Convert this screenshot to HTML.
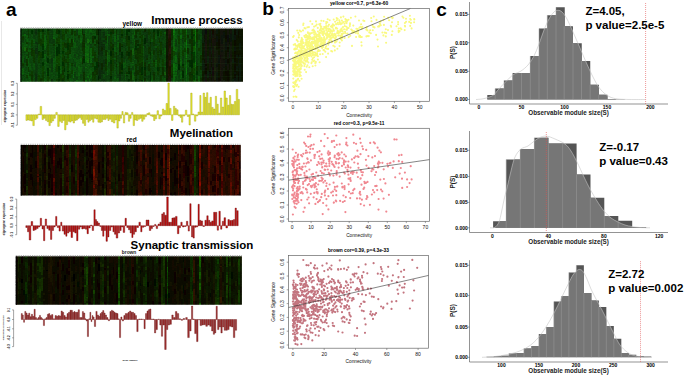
<!DOCTYPE html>
<html><head><meta charset="utf-8"><style>
html,body{margin:0;padding:0;background:#fff;width:685px;height:376px;overflow:hidden}
svg{display:block;font-family:"Liberation Sans",sans-serif}
</style></head><body>
<svg width="685" height="376" viewBox="0 0 685 376" font-family="Liberation Sans, sans-serif">
<defs>
<filter id="bl" x="-5%" y="-5%" width="110%" height="110%"><feGaussianBlur stdDeviation="0.6"/></filter>
<filter id="nz1" x="0" y="0" width="100%" height="100%"><feTurbulence type="fractalNoise" baseFrequency="0.55 0.9" numOctaves="2" seed="3"/><feColorMatrix values="0 0 0 0 0  0 0 0 0 0  0 0 0 0 0  0 0 0 -2.2 1.6"/></filter>
<filter id="nz2" x="0" y="0" width="100%" height="100%"><feTurbulence type="fractalNoise" baseFrequency="0.55 0.9" numOctaves="2" seed="5"/><feColorMatrix values="0 0 0 0 0  0 0 0 0 0  0 0 0 0 0  0 0 0 -2.2 1.6"/></filter>
<filter id="nz3" x="0" y="0" width="100%" height="100%"><feTurbulence type="fractalNoise" baseFrequency="0.55 0.9" numOctaves="2" seed="8"/><feColorMatrix values="0 0 0 0 0  0 0 0 0 0  0 0 0 0 0  0 0 0 -2.2 1.6"/></filter>
</defs>
<rect width="685" height="376" fill="#fff"/>
<text x="6" y="15.5" font-size="19" font-weight="bold">a</text>
<text x="262.3" y="14.9" font-size="19" font-weight="bold">b</text>
<text x="436.3" y="15.5" font-size="19" font-weight="bold">c</text>
<line x1="1.5" y1="21" x2="1.5" y2="125" stroke="#e8e8e8" stroke-width="1"/>
<clipPath id="hc1"><rect x="20.5" y="28.5" width="222.5" height="53.3"/></clipPath>
<g clip-path="url(#hc1)"><g filter="url(#bl)" shape-rendering="crispEdges">
<rect x="18.5" y="26.5" width="226.5" height="57.3" fill="#000"/>
<path fill="#094809" d="M20 28h2v3h-2zM20 62h2v6h-2zM20 74h2v1h-2zM26 54h2v2h-2zM28 43h1v3h-1zM29 34h2v5h-2zM31 46h2v2h-2zM55 71h1v7h-1zM64 40h1v2h-1zM64 52h1v4h-1zM69 34h2v4h-2zM71 66h2v4h-2zM71 74h2v5h-2zM74 36h2v6h-2zM80 76h2v4h-2zM92 43h2v4h-2zM121 38h2v6h-2zM121 47h2v5h-2zM128 60h2v6h-2zM139 35h2v1h-2zM139 38h2v6h-2z"/>
<path fill="#0c5109" d="M20 31h2v5h-2zM20 75h2v5h-2zM22 76h2v6h-2zM24 36h2v6h-2zM24 71h2v7h-2zM26 28h2v3h-2zM26 70h2v5h-2zM28 79h1v3h-1zM31 28h2v2h-2zM31 34h2v6h-2zM38 44h2v7h-2zM38 70h2v5h-2zM44 75h2v3h-2zM46 64h1v7h-1zM53 74h2v2h-2zM55 78h1v2h-1zM55 80h1v2h-1zM56 34h2v4h-2zM56 72h2v7h-2zM60 48h2v3h-2zM60 52h2v6h-2zM64 28h1v6h-1zM64 72h1v3h-1zM65 55h2v1h-2zM65 63h2v5h-2zM71 35h2v4h-2zM71 47h2v7h-2zM71 56h2v4h-2zM76 38h2v2h-2zM80 62h2v5h-2zM85 62h2v5h-2zM87 28h2v6h-2zM90 32h2v6h-2zM92 62h2v1h-2zM92 67h2v5h-2zM94 46h2v4h-2zM94 62h2v4h-2zM105 43h2v7h-2zM130 62h2v6h-2zM159 34h1v4h-1zM159 43h1v1h-1zM187 44h2v4h-2zM187 62h2v6h-2zM187 75h2v7h-2z"/>
<path fill="#0c5a09" d="M20 36h2v6h-2zM28 75h1v4h-1zM60 47h2v1h-2zM69 28h2v6h-2zM69 54h2v5h-2zM69 63h2v4h-2zM69 67h2v4h-2zM92 56h2v2h-2zM184 42h2v6h-2z"/>
<path fill="#0c5709" d="M20 42h2v5h-2zM20 68h2v3h-2zM22 43h2v7h-2zM26 46h2v2h-2zM26 79h2v3h-2zM33 63h2v7h-2zM40 32h2v4h-2zM55 28h1v7h-1zM55 62h1v2h-1zM60 40h2v2h-2zM60 42h2v2h-2zM60 58h2v6h-2zM69 78h2v2h-2zM69 80h2v2h-2zM71 54h2v2h-2zM76 74h2v2h-2zM78 79h2v3h-2zM92 30h2v6h-2zM186 58h1v1h-1z"/>
<path fill="#093f06" d="M20 47h2v7h-2zM22 63h2v3h-2zM26 48h2v4h-2zM26 75h2v3h-2zM31 71h2v1h-2zM31 72h2v2h-2zM33 50h2v6h-2zM40 28h2v3h-2zM42 79h2v3h-2zM47 31h2v4h-2zM47 50h2v6h-2zM56 38h2v6h-2zM56 79h2v3h-2zM62 34h2v6h-2zM64 34h1v1h-1zM65 52h2v3h-2zM65 59h2v4h-2zM71 46h2v1h-2zM74 31h2v5h-2zM92 50h2v6h-2zM92 76h2v4h-2zM94 76h2v4h-2zM94 80h2v2h-2zM110 56h2v4h-2zM112 59h2v1h-2zM112 60h2v4h-2zM112 64h2v7h-2zM128 40h2v6h-2zM135 50h2v5h-2zM139 32h2v3h-2zM139 54h2v1h-2zM141 35h2v7h-2zM141 42h2v6h-2zM141 48h2v3h-2zM150 36h1v6h-1zM150 68h1v4h-1zM157 28h2v2h-2zM157 56h2v7h-2zM157 63h2v1h-2zM157 71h2v4h-2zM160 31h2v5h-2zM160 43h2v7h-2zM160 67h2v1h-2zM162 59h2v7h-2zM171 67h2v7h-2zM178 28h2v6h-2zM178 36h2v7h-2zM182 30h2v5h-2zM182 50h2v6h-2zM184 30h2v1h-2zM184 48h2v4h-2z"/>
<path fill="#094209" d="M20 54h2v6h-2zM22 66h2v2h-2zM24 58h2v5h-2zM29 70h2v2h-2zM33 35h2v1h-2zM46 36h1v4h-1zM53 39h2v5h-2zM55 67h1v4h-1zM60 28h2v7h-2zM60 35h2v3h-2zM60 38h2v1h-2zM74 54h2v4h-2zM83 54h2v2h-2zM89 59h1v3h-1zM112 40h2v4h-2zM112 50h2v1h-2zM116 62h1v1h-1zM123 43h2v5h-2zM123 75h2v4h-2zM126 58h2v4h-2zM126 76h2v6h-2zM130 40h2v4h-2zM137 43h2v1h-2zM137 66h2v2h-2zM137 75h2v7h-2zM148 39h2v5h-2zM148 80h2v2h-2zM150 62h1v5h-1zM151 70h2v1h-2zM153 55h2v5h-2zM155 51h2v5h-2zM157 75h2v1h-2zM159 31h1v1h-1zM159 51h1v7h-1zM159 78h1v4h-1zM162 30h2v6h-2zM162 36h2v4h-2zM162 43h2v7h-2zM162 66h2v1h-2zM171 60h2v4h-2zM175 43h2v3h-2zM178 80h2v2h-2zM182 39h2v4h-2zM182 63h2v1h-2zM196 52h2v7h-2zM196 75h2v4h-2zM198 66h2v4h-2zM198 70h2v1h-2zM200 30h2v4h-2zM200 40h2v6h-2zM200 46h2v2h-2zM200 48h2v4h-2zM200 63h2v3h-2z"/>
<path fill="#093906" d="M20 60h2v2h-2zM26 59h2v7h-2zM31 48h2v3h-2zM31 51h2v5h-2zM31 74h2v6h-2zM56 28h2v6h-2zM62 70h2v5h-2zM62 78h2v2h-2zM64 42h1v5h-1zM64 56h1v6h-1zM64 63h1v3h-1zM64 66h1v2h-1zM65 43h2v5h-2zM69 50h2v4h-2zM71 28h2v3h-2zM71 31h2v4h-2zM71 39h2v7h-2zM83 36h2v7h-2zM83 48h2v6h-2zM92 28h2v2h-2zM92 72h2v4h-2zM94 44h2v2h-2zM94 70h2v2h-2zM96 40h2v4h-2zM110 42h2v2h-2zM112 51h2v7h-2zM116 30h1v4h-1zM116 52h1v6h-1zM121 36h2v2h-2zM121 58h2v6h-2zM128 48h2v4h-2zM128 56h2v3h-2zM128 70h2v1h-2zM135 32h2v3h-2zM135 64h2v7h-2zM139 44h2v3h-2zM139 47h2v7h-2zM139 63h2v3h-2zM139 79h2v3h-2zM141 62h2v5h-2zM150 32h1v2h-1zM150 50h1v2h-1zM150 55h1v1h-1zM150 56h1v2h-1zM150 58h1v1h-1zM153 32h2v7h-2zM153 50h2v5h-2zM153 72h2v2h-2zM160 75h2v3h-2zM171 47h2v7h-2zM182 38h2v1h-2zM182 70h2v1h-2zM189 76h2v4h-2zM189 80h2v2h-2zM191 28h2v2h-2zM191 39h2v1h-2zM191 68h2v6h-2zM191 75h2v7h-2zM196 35h2v5h-2z"/>
<path fill="#0c5a0c" d="M20 71h2v3h-2zM29 46h2v2h-2zM29 64h2v6h-2zM29 76h2v6h-2zM33 39h2v4h-2zM46 30h1v1h-1zM46 42h1v4h-1zM53 32h2v4h-2zM53 67h2v5h-2zM55 35h1v7h-1zM55 44h1v4h-1zM55 60h1v2h-1zM55 64h1v3h-1zM60 66h2v4h-2zM76 54h2v2h-2zM76 60h2v7h-2zM78 66h2v1h-2zM80 51h2v1h-2zM80 67h2v7h-2zM89 28h1v6h-1zM89 71h1v3h-1zM90 28h2v2h-2z"/>
<path fill="#0c5d0c" d="M20 80h2v2h-2zM22 58h2v5h-2zM26 35h2v7h-2zM26 44h2v2h-2zM26 56h2v3h-2zM28 60h1v7h-1zM28 72h1v3h-1zM55 48h1v6h-1zM60 70h2v4h-2zM69 38h2v5h-2zM74 30h2v1h-2zM74 42h2v6h-2z"/>
<path fill="#0c4e09" d="M22 28h2v7h-2zM22 42h2v1h-2zM22 50h2v5h-2zM24 51h2v5h-2zM24 64h2v7h-2zM29 28h2v6h-2zM33 43h2v7h-2zM33 76h2v6h-2zM40 46h2v6h-2zM40 68h2v4h-2zM46 34h1v2h-1zM60 44h2v3h-2zM65 76h2v3h-2zM65 79h2v3h-2zM69 71h2v3h-2zM71 60h2v3h-2zM74 48h2v6h-2zM76 67h2v7h-2zM80 48h2v3h-2zM80 52h2v6h-2zM87 78h2v2h-2zM87 80h2v2h-2zM89 74h1v5h-1zM90 38h2v1h-2zM94 28h2v3h-2zM123 42h2v1h-2zM126 68h2v4h-2zM148 36h2v3h-2zM151 51h2v3h-2zM155 35h2v1h-2zM155 71h2v5h-2zM162 51h2v3h-2zM162 54h2v1h-2zM162 76h2v6h-2zM175 71h2v1h-2zM175 76h2v6h-2zM187 54h2v6h-2zM198 47h2v1h-2zM200 52h2v3h-2z"/>
<path fill="#0c5409" d="M22 35h2v1h-2zM22 55h2v3h-2zM26 52h2v2h-2zM28 38h1v4h-1zM28 46h1v4h-1zM29 39h2v7h-2zM29 54h2v4h-2zM40 36h2v3h-2zM46 31h1v3h-1zM46 52h1v4h-1zM46 75h1v3h-1zM53 28h2v4h-2zM55 54h1v2h-1zM56 63h2v1h-2zM60 39h2v1h-2zM65 34h2v6h-2zM65 48h2v4h-2zM65 72h2v4h-2zM71 79h2v3h-2zM74 28h2v2h-2zM74 58h2v4h-2zM74 67h2v5h-2zM78 59h2v7h-2zM78 76h2v3h-2zM80 80h2v2h-2zM89 34h1v6h-1zM89 44h1v7h-1zM89 64h1v7h-1zM94 31h2v5h-2zM94 40h2v4h-2zM105 28h2v2h-2zM177 28h1v7h-1zM184 59h2v4h-2zM184 63h2v5h-2zM198 40h2v7h-2z"/>
<path fill="#093c06" d="M22 36h2v4h-2zM26 42h2v2h-2zM28 28h1v6h-1zM28 34h1v4h-1zM28 52h1v6h-1zM28 67h1v5h-1zM29 74h2v2h-2zM31 80h2v2h-2zM33 56h2v7h-2zM38 32h2v6h-2zM38 38h2v6h-2zM38 52h2v3h-2zM40 39h2v7h-2zM40 52h2v6h-2zM40 78h2v1h-2zM42 78h2v1h-2zM53 44h2v2h-2zM58 78h2v1h-2zM60 74h2v5h-2zM60 79h2v3h-2zM62 58h2v4h-2zM64 75h1v5h-1zM65 28h2v6h-2zM67 52h2v6h-2zM67 62h2v6h-2zM69 43h2v7h-2zM71 63h2v3h-2zM78 35h2v3h-2zM92 80h2v2h-2zM94 52h2v7h-2zM94 59h2v3h-2zM94 72h2v4h-2zM96 58h2v4h-2zM105 64h2v7h-2zM110 28h2v4h-2zM110 34h2v2h-2zM110 71h2v5h-2zM121 44h2v2h-2zM126 40h2v6h-2zM128 46h2v2h-2zM128 66h2v2h-2zM130 56h2v6h-2zM135 76h2v3h-2zM137 54h2v2h-2zM137 62h2v4h-2zM139 36h2v2h-2zM139 55h2v1h-2zM139 56h2v3h-2zM148 28h2v7h-2zM153 43h2v3h-2zM157 51h2v5h-2zM159 28h1v3h-1zM159 38h1v2h-1zM159 58h1v5h-1zM160 78h2v4h-2zM171 64h2v2h-2zM178 43h2v1h-2zM178 52h2v6h-2zM182 66h2v2h-2zM182 79h2v3h-2zM184 40h2v2h-2zM196 32h2v3h-2zM196 40h2v2h-2zM196 79h2v3h-2zM198 48h2v3h-2z"/>
<path fill="#093f09" d="M22 40h2v2h-2zM22 75h2v1h-2zM74 64h2v3h-2zM76 30h2v6h-2zM80 74h2v2h-2zM83 68h2v4h-2zM90 44h2v4h-2zM96 76h2v3h-2zM96 79h2v3h-2zM105 56h2v3h-2zM107 75h1v4h-1zM108 40h2v6h-2zM108 46h2v4h-2zM108 76h2v4h-2zM116 67h1v3h-1zM116 70h1v4h-1zM117 75h2v1h-2zM123 55h2v7h-2zM125 52h1v7h-1zM130 68h2v3h-2zM134 35h1v4h-1zM177 52h1v7h-1zM182 35h2v3h-2zM182 56h2v7h-2zM187 68h2v7h-2zM196 42h2v5h-2zM196 59h2v7h-2z"/>
<path fill="#0f630c" d="M22 68h2v7h-2zM29 50h2v2h-2zM44 35h2v7h-2zM44 54h2v5h-2zM46 28h1v2h-1zM73 34h1v5h-1zM80 58h2v4h-2zM85 44h2v6h-2zM87 50h2v4h-2zM87 56h2v2h-2zM90 48h2v7h-2zM143 46h1v2h-1zM175 50h2v2h-2zM175 72h2v4h-2zM180 46h2v2h-2zM180 59h2v7h-2z"/>
<path fill="#0c4b09" d="M24 28h2v6h-2zM24 56h2v2h-2zM26 66h2v4h-2zM28 42h1v1h-1zM29 48h2v2h-2zM29 58h2v6h-2zM29 72h2v2h-2zM44 28h2v7h-2zM53 72h2v2h-2zM53 76h2v6h-2zM55 43h1v1h-1zM60 64h2v2h-2zM69 59h2v4h-2zM73 28h1v2h-1zM73 30h1v4h-1zM73 48h1v3h-1zM76 28h2v2h-2zM76 56h2v4h-2zM78 40h2v6h-2zM82 38h1v2h-1zM82 64h1v2h-1zM82 66h1v5h-1zM82 80h1v2h-1zM89 51h1v5h-1zM89 56h1v3h-1zM90 63h2v5h-2zM90 80h2v2h-2zM96 35h2v4h-2zM96 39h2v1h-2zM96 48h2v7h-2zM96 75h2v1h-2zM105 30h2v6h-2zM112 34h2v6h-2zM112 58h2v1h-2zM116 46h1v6h-1zM116 80h1v2h-1zM125 68h1v6h-1zM126 46h2v5h-2zM126 62h2v1h-2zM126 63h2v5h-2zM126 74h2v1h-2zM130 34h2v6h-2zM130 44h2v6h-2zM134 60h1v6h-1zM135 28h2v2h-2zM137 32h2v6h-2zM137 46h2v2h-2zM143 54h1v6h-1zM148 72h2v3h-2zM150 28h1v4h-1zM157 43h2v3h-2zM157 76h2v6h-2zM159 32h1v2h-1zM159 63h1v4h-1zM160 60h2v7h-2zM160 68h2v7h-2zM162 40h2v3h-2zM162 50h2v1h-2zM177 59h1v5h-1zM182 43h2v7h-2zM189 34h2v5h-2zM189 44h2v7h-2zM189 58h2v2h-2zM189 67h2v5h-2zM198 51h2v4h-2zM198 55h2v4h-2zM198 59h2v4h-2zM200 34h2v5h-2z"/>
<path fill="#0f6c0f" d="M24 34h2v2h-2zM73 39h1v3h-1zM73 76h1v2h-1zM180 35h2v4h-2z"/>
<path fill="#0f5a0c" d="M24 42h2v5h-2zM85 43h2v1h-2zM107 31h1v5h-1zM107 42h1v4h-1zM108 50h2v2h-2zM117 78h2v4h-2zM123 39h2v3h-2zM123 62h2v6h-2zM125 74h1v6h-1zM132 70h2v1h-2zM134 40h1v7h-1zM134 47h1v1h-1zM143 60h1v6h-1zM151 39h2v1h-2zM151 40h2v2h-2zM151 54h2v1h-2zM155 34h2v1h-2zM164 78h2v4h-2zM175 47h2v3h-2zM177 64h1v3h-1zM180 48h2v6h-2z"/>
<path fill="#126f0f" d="M24 47h2v4h-2zM87 39h2v4h-2zM87 58h2v5h-2z"/>
<path fill="#0f5d0c" d="M24 63h2v1h-2zM44 48h2v2h-2zM44 78h2v4h-2zM46 62h1v2h-1zM53 60h2v7h-2zM73 42h1v1h-1zM73 74h1v1h-1zM87 74h2v2h-2zM90 39h2v5h-2zM90 68h2v6h-2zM107 70h1v4h-1zM108 34h2v2h-2zM108 55h2v7h-2zM114 47h2v5h-2zM114 58h2v2h-2zM114 76h2v2h-2zM117 35h2v5h-2zM117 42h2v6h-2zM125 35h1v1h-1zM125 59h1v7h-1zM132 35h2v3h-2zM132 64h2v2h-2zM132 71h2v4h-2zM134 39h1v1h-1zM134 59h1v1h-1zM134 80h1v2h-1zM143 80h1v2h-1zM151 79h2v3h-2zM155 36h2v3h-2zM155 60h2v7h-2zM164 48h2v2h-2zM164 50h2v4h-2zM164 66h2v1h-2zM175 34h2v1h-2zM180 71h2v4h-2zM198 76h2v6h-2z"/>
<path fill="#0c4809" d="M24 78h2v4h-2zM44 51h2v3h-2zM44 71h2v4h-2zM46 51h1v1h-1zM53 46h2v6h-2zM73 78h1v4h-1zM74 79h2v3h-2zM76 40h2v6h-2zM76 48h2v6h-2zM80 43h2v5h-2zM83 63h2v5h-2zM85 38h2v5h-2zM90 79h2v1h-2zM107 66h1v4h-1zM108 80h2v2h-2zM112 71h2v1h-2zM112 72h2v4h-2zM112 76h2v6h-2zM114 55h2v3h-2zM116 39h1v7h-1zM116 74h1v6h-1zM123 32h2v7h-2zM123 48h2v7h-2zM126 56h2v2h-2zM128 74h2v5h-2zM132 63h2v1h-2zM134 51h1v1h-1zM134 52h1v7h-1zM135 59h2v5h-2zM137 68h2v2h-2zM143 28h1v3h-1zM143 66h1v6h-1zM148 56h2v6h-2zM150 34h1v2h-1zM151 28h2v4h-2zM151 63h2v3h-2zM153 67h2v5h-2zM155 39h2v5h-2zM155 76h2v6h-2zM160 28h2v3h-2zM162 55h2v4h-2zM164 36h2v3h-2zM164 39h2v4h-2zM164 67h2v5h-2zM175 46h2v1h-2zM175 52h2v3h-2zM177 35h1v1h-1zM177 36h1v3h-1zM177 51h1v1h-1zM177 80h1v2h-1zM180 39h2v1h-2zM180 66h2v5h-2zM180 79h2v3h-2zM182 28h2v2h-2zM189 28h2v6h-2zM196 47h2v5h-2zM198 28h2v6h-2zM198 63h2v3h-2zM200 70h2v5h-2z"/>
<path fill="#094509" d="M26 31h2v4h-2zM29 52h2v2h-2zM33 28h2v7h-2zM33 36h2v3h-2zM33 70h2v6h-2zM40 58h2v5h-2zM40 63h2v5h-2zM44 50h2v1h-2zM46 46h1v5h-1zM46 56h1v6h-1zM53 52h2v6h-2zM60 51h2v1h-2zM73 59h1v5h-1zM74 62h2v2h-2zM74 72h2v7h-2zM76 76h2v4h-2zM78 38h2v2h-2zM78 46h2v6h-2zM78 52h2v7h-2zM89 42h1v2h-1zM89 62h1v2h-1zM92 58h2v4h-2zM96 44h2v4h-2zM96 55h2v3h-2zM121 74h2v2h-2zM121 76h2v6h-2zM128 32h2v4h-2zM135 38h2v2h-2zM137 38h2v2h-2zM141 28h2v7h-2zM150 59h1v3h-1zM150 67h1v1h-1zM153 46h2v4h-2zM153 80h2v2h-2zM157 36h2v6h-2zM160 36h2v6h-2zM160 55h2v5h-2zM178 34h2v2h-2zM178 44h2v6h-2zM178 50h2v2h-2zM178 76h2v4h-2zM182 78h2v1h-2zM187 38h2v6h-2zM198 71h2v5h-2zM200 39h2v1h-2z"/>
<path fill="#094b09" d="M26 78h2v1h-2zM31 56h2v7h-2zM31 63h2v7h-2zM40 72h2v6h-2zM64 47h1v4h-1zM65 40h2v3h-2zM65 71h2v1h-2zM94 50h2v2h-2z"/>
<path fill="#0f600c" d="M28 50h1v2h-1zM28 58h1v2h-1zM46 71h1v4h-1zM53 58h2v2h-2zM55 42h1v1h-1zM55 56h1v4h-1zM73 75h1v1h-1zM78 28h2v7h-2zM78 67h2v7h-2zM78 74h2v2h-2zM85 28h2v7h-2zM90 75h2v4h-2zM114 78h2v1h-2zM134 28h1v4h-1zM134 32h1v3h-1zM175 35h2v4h-2zM177 40h1v2h-1zM180 28h2v4h-2zM180 75h2v4h-2z"/>
<path fill="#063606" d="M31 30h2v4h-2zM38 51h2v1h-2zM42 54h2v4h-2zM42 62h2v4h-2zM47 58h2v5h-2zM47 72h2v4h-2zM58 44h2v7h-2zM67 43h2v7h-2zM94 66h2v4h-2z"/>
<path fill="#094206" d="M31 40h2v6h-2zM38 60h2v2h-2zM38 62h2v1h-2zM40 31h2v1h-2zM42 32h2v7h-2zM42 72h2v6h-2zM47 76h2v4h-2zM56 67h2v5h-2zM58 28h2v2h-2zM62 47h2v4h-2zM62 66h2v4h-2zM64 62h1v1h-1zM67 79h2v3h-2zM69 74h2v4h-2zM71 70h2v4h-2zM92 47h2v3h-2zM92 63h2v4h-2zM110 44h2v2h-2zM121 28h2v6h-2zM121 70h2v2h-2zM128 59h2v1h-2zM139 28h2v4h-2zM139 59h2v4h-2zM139 72h2v7h-2zM141 51h2v7h-2zM141 58h2v4h-2zM141 75h2v5h-2zM153 39h2v4h-2zM153 62h2v5h-2zM157 42h2v1h-2zM157 46h2v5h-2zM157 64h2v3h-2zM184 38h2v2h-2z"/>
<path fill="#094e09" d="M31 70h2v1h-2zM38 63h2v7h-2zM42 50h2v1h-2zM42 58h2v4h-2zM47 56h2v2h-2zM47 63h2v5h-2zM56 44h2v3h-2zM62 40h2v2h-2zM65 56h2v3h-2zM65 68h2v3h-2zM67 32h2v6h-2zM184 68h2v4h-2zM184 76h2v6h-2z"/>
<path fill="#093609" d="M35 28h2v7h-2zM98 55h1v7h-1zM98 67h1v5h-1zM98 72h1v4h-1zM146 40h2v3h-2zM146 55h2v3h-2z"/>
<path fill="#0f480c" d="M35 35h2v7h-2zM37 58h1v6h-1zM49 43h2v7h-2zM49 64h2v4h-2zM51 44h2v6h-2zM103 28h2v3h-2zM103 38h2v2h-2zM103 42h2v2h-2zM103 50h2v6h-2z"/>
<path fill="#0c3909" d="M35 42h2v2h-2zM37 43h1v5h-1zM51 58h2v4h-2zM101 80h2v2h-2zM146 34h2v6h-2z"/>
<path fill="#0c450c" d="M35 44h2v4h-2zM35 60h2v2h-2zM146 43h2v4h-2z"/>
<path fill="#093309" d="M35 48h2v6h-2zM101 42h2v5h-2zM103 40h2v2h-2zM103 44h2v6h-2zM103 60h2v7h-2zM119 74h2v1h-2zM119 75h2v5h-2z"/>
<path fill="#0c420c" d="M35 54h2v1h-2zM49 59h2v3h-2zM49 62h2v2h-2zM51 28h2v7h-2z"/>
<path fill="#0c3f09" d="M35 55h2v5h-2zM35 62h2v5h-2zM101 28h2v7h-2zM101 35h2v7h-2zM103 31h2v1h-2zM117 76h2v2h-2zM119 32h2v6h-2zM119 38h2v5h-2zM119 55h2v7h-2zM144 32h2v6h-2zM144 48h2v7h-2zM146 48h2v7h-2zM146 76h2v3h-2zM164 28h2v4h-2z"/>
<path fill="#0c3c09" d="M35 67h2v7h-2zM49 28h2v3h-2zM49 38h2v5h-2zM51 42h2v2h-2zM51 62h2v5h-2zM51 67h2v5h-2zM101 56h2v7h-2zM101 74h2v6h-2zM144 55h2v7h-2zM144 76h2v2h-2zM146 30h2v4h-2z"/>
<path fill="#093009" d="M35 74h2v5h-2zM35 79h2v1h-2zM35 80h2v2h-2zM37 54h1v1h-1zM101 51h2v5h-2zM101 70h2v4h-2zM119 80h2v2h-2z"/>
<path fill="#0f420c" d="M37 28h1v4h-1zM37 64h1v6h-1zM37 70h1v6h-1zM37 76h1v6h-1z"/>
<path fill="#0f450c" d="M37 32h1v6h-1zM37 38h1v5h-1zM49 31h2v7h-2zM103 56h2v3h-2z"/>
<path fill="#0c3609" d="M37 48h1v6h-1zM51 79h2v3h-2zM99 31h2v4h-2zM99 35h2v4h-2zM103 32h2v6h-2zM103 72h2v2h-2zM103 79h2v3h-2zM119 52h2v3h-2z"/>
<path fill="#0c3c0c" d="M37 55h1v3h-1z"/>
<path fill="#063906" d="M38 28h2v4h-2zM42 44h2v6h-2zM58 66h2v1h-2zM58 70h2v4h-2zM58 74h2v4h-2zM62 51h2v3h-2z"/>
<path fill="#094806" d="M38 55h2v5h-2zM38 75h2v3h-2zM38 78h2v2h-2zM47 38h2v5h-2zM56 56h2v7h-2zM58 54h2v5h-2zM62 28h2v6h-2zM62 42h2v1h-2zM62 43h2v4h-2zM62 75h2v3h-2zM67 28h2v3h-2zM67 58h2v4h-2zM67 72h2v2h-2zM184 28h2v2h-2zM193 68h2v6h-2z"/>
<path fill="#094506" d="M38 80h2v2h-2zM42 39h2v5h-2zM47 43h2v4h-2zM47 47h2v3h-2zM47 80h2v2h-2zM56 64h2v3h-2zM58 34h2v5h-2zM58 39h2v5h-2zM62 54h2v4h-2zM64 35h1v5h-1zM64 51h1v1h-1zM64 80h1v2h-1zM67 38h2v5h-2zM67 50h2v2h-2zM67 68h2v3h-2zM94 39h2v1h-2zM110 36h2v6h-2zM184 31h2v7h-2z"/>
<path fill="#093606" d="M40 79h2v3h-2zM82 42h1v2h-1zM82 44h1v7h-1zM83 72h2v6h-2zM92 36h2v7h-2zM96 28h2v7h-2zM105 36h2v4h-2zM105 50h2v6h-2zM110 46h2v2h-2zM110 48h2v3h-2zM110 64h2v7h-2zM110 79h2v3h-2zM112 44h2v4h-2zM116 58h1v4h-1zM126 28h2v2h-2zM126 35h2v5h-2zM126 51h2v5h-2zM126 72h2v2h-2zM130 71h2v7h-2zM130 78h2v4h-2zM135 30h2v2h-2zM135 35h2v3h-2zM135 55h2v3h-2zM135 58h2v1h-2zM135 71h2v5h-2zM137 28h2v4h-2zM137 40h2v3h-2zM137 56h2v6h-2zM137 70h2v5h-2zM148 47h2v7h-2zM148 64h2v7h-2zM150 44h1v6h-1zM153 60h2v2h-2zM153 74h2v6h-2zM159 40h1v3h-1zM159 67h1v4h-1zM160 50h2v1h-2zM162 28h2v2h-2zM171 35h2v5h-2zM171 54h2v6h-2zM189 39h2v5h-2zM200 28h2v2h-2zM200 55h2v3h-2zM200 60h2v3h-2zM200 78h2v4h-2z"/>
<path fill="#063006" d="M42 28h2v4h-2zM47 28h2v3h-2zM47 68h2v4h-2zM58 51h2v3h-2zM83 59h2v4h-2zM96 62h2v6h-2zM110 32h2v2h-2zM110 60h2v4h-2zM112 48h2v2h-2zM121 34h2v2h-2zM121 46h2v1h-2zM126 30h2v5h-2zM126 75h2v1h-2zM128 71h2v3h-2zM135 46h2v4h-2zM137 44h2v2h-2zM141 67h2v7h-2zM150 72h1v7h-1zM150 79h1v3h-1zM153 28h2v4h-2zM157 30h2v6h-2zM157 67h2v4h-2zM189 60h2v7h-2zM191 36h2v3h-2zM191 52h2v2h-2zM191 74h2v1h-2zM196 71h2v4h-2z"/>
<path fill="#063306" d="M42 51h2v3h-2zM56 47h2v4h-2zM56 51h2v5h-2zM58 30h2v4h-2zM58 67h2v3h-2zM58 79h2v3h-2zM62 62h2v4h-2zM62 80h2v2h-2zM64 68h1v4h-1zM67 71h2v1h-2zM67 74h2v1h-2zM67 75h2v4h-2zM94 36h2v3h-2zM121 72h2v2h-2zM128 79h2v3h-2zM135 79h2v3h-2zM150 42h1v2h-1zM150 52h1v3h-1z"/>
<path fill="#094b06" d="M42 66h2v6h-2zM47 35h2v3h-2zM58 59h2v7h-2zM67 31h2v1h-2zM173 51h2v4h-2zM173 55h2v1h-2zM193 36h2v4h-2z"/>
<path fill="#0f690c" d="M44 42h2v6h-2zM73 58h1v1h-1zM89 40h1v2h-1zM89 80h1v2h-1z"/>
<path fill="#0c570c" d="M44 59h2v7h-2zM46 40h1v2h-1zM46 78h1v4h-1zM73 43h1v5h-1zM73 64h1v7h-1zM76 36h2v2h-2zM76 46h2v2h-2zM80 35h2v3h-2zM87 34h2v5h-2zM90 74h2v1h-2zM175 31h2v3h-2zM177 39h1v1h-1zM177 42h1v4h-1zM177 46h1v5h-1zM177 67h1v3h-1zM180 32h2v3h-2zM180 54h2v5h-2z"/>
<path fill="#0c540c" d="M44 66h2v5h-2zM73 51h1v7h-1zM85 35h2v3h-2zM87 43h2v3h-2zM87 63h2v5h-2zM87 68h2v6h-2zM148 62h2v2h-2zM151 76h2v3h-2zM177 75h1v5h-1zM180 40h2v3h-2zM180 43h2v3h-2z"/>
<path fill="#0f4e0c" d="M49 50h2v5h-2zM49 70h2v6h-2zM49 76h2v3h-2zM51 50h2v5h-2zM103 74h2v5h-2zM146 28h2v2h-2zM146 70h2v1h-2z"/>
<path fill="#12540f" d="M49 55h2v4h-2zM49 68h2v2h-2zM49 79h2v3h-2z"/>
<path fill="#0c3f0c" d="M51 35h2v7h-2zM103 59h2v1h-2zM103 67h2v5h-2z"/>
<path fill="#0f4b0c" d="M51 55h2v3h-2zM146 71h2v5h-2zM146 79h2v3h-2z"/>
<path fill="#0f510f" d="M51 72h2v7h-2z"/>
<path fill="#0f660c" d="M53 36h2v3h-2zM73 71h1v3h-1zM76 80h2v2h-2zM80 28h2v7h-2zM80 38h2v5h-2zM89 79h1v1h-1zM90 30h2v2h-2zM90 55h2v1h-2zM90 56h2v7h-2zM175 55h2v1h-2z"/>
<path fill="#093306" d="M82 28h1v7h-1zM82 58h1v6h-1zM83 34h2v2h-2zM83 43h2v5h-2zM96 68h2v7h-2zM98 80h1v2h-1zM105 59h2v5h-2zM112 28h2v6h-2zM116 64h1v3h-1zM128 68h2v2h-2zM130 50h2v4h-2zM130 54h2v1h-2zM130 55h2v1h-2zM135 40h2v6h-2zM137 48h2v6h-2zM139 66h2v6h-2zM144 62h2v5h-2zM144 70h2v4h-2zM159 50h1v1h-1zM160 42h2v1h-2zM160 51h2v4h-2zM162 67h2v5h-2zM162 72h2v4h-2zM171 28h2v7h-2zM171 74h2v4h-2zM178 58h2v6h-2zM187 48h2v6h-2zM187 60h2v2h-2zM189 72h2v4h-2zM191 30h2v6h-2zM191 47h2v5h-2zM191 54h2v6h-2zM196 28h2v4h-2zM196 66h2v5h-2zM200 58h2v2h-2zM200 66h2v4h-2z"/>
<path fill="#0c4e0c" d="M82 35h1v3h-1zM82 78h1v2h-1zM107 46h1v6h-1zM108 52h2v3h-2zM114 42h2v2h-2zM114 52h2v3h-2zM117 40h2v2h-2zM117 70h2v4h-2zM123 28h2v4h-2zM125 39h1v4h-1zM132 55h2v7h-2zM151 55h2v1h-2zM164 34h2v2h-2zM164 54h2v4h-2z"/>
<path fill="#093c09" d="M82 40h1v2h-1zM105 40h2v3h-2zM105 78h2v4h-2zM108 28h2v6h-2zM116 34h1v5h-1zM125 80h1v2h-1zM134 48h1v3h-1zM134 72h1v4h-1zM143 31h1v4h-1zM148 44h2v3h-2zM148 75h2v5h-2zM151 42h2v4h-2zM155 44h2v2h-2zM155 48h2v3h-2zM177 70h1v5h-1zM198 34h2v6h-2z"/>
<path fill="#0c4209" d="M82 51h1v7h-1zM107 30h1v1h-1zM108 36h2v4h-2zM108 62h2v6h-2zM108 74h2v2h-2zM114 60h2v3h-2zM116 28h1v2h-1zM117 55h2v4h-2zM117 74h2v1h-2zM119 28h2v4h-2zM125 36h1v3h-1zM132 80h2v2h-2zM143 39h1v7h-1zM143 72h1v2h-1zM146 66h2v4h-2zM155 56h2v4h-2z"/>
<path fill="#0c4509" d="M82 71h1v7h-1zM83 28h2v6h-2zM105 71h2v7h-2zM116 63h1v1h-1zM123 68h2v7h-2zM123 79h2v3h-2zM125 43h1v4h-1zM125 47h1v5h-1zM130 28h2v6h-2zM132 47h2v1h-2zM132 66h2v4h-2zM143 74h1v4h-1zM146 60h2v6h-2zM148 35h2v1h-2zM148 54h2v2h-2zM148 71h2v1h-2zM151 32h2v7h-2zM151 46h2v5h-2zM151 66h2v4h-2zM151 71h2v5h-2zM155 28h2v6h-2zM159 44h1v6h-1zM159 71h1v7h-1zM164 43h2v5h-2zM164 63h2v3h-2zM164 75h2v3h-2zM171 40h2v7h-2zM171 78h2v4h-2zM175 28h2v3h-2zM175 39h2v4h-2zM175 63h2v1h-2zM178 70h2v6h-2zM182 68h2v2h-2zM187 28h2v7h-2zM189 51h2v7h-2zM200 75h2v3h-2z"/>
<path fill="#093006" d="M83 56h2v3h-2zM83 78h2v4h-2zM119 62h2v6h-2zM119 68h2v4h-2zM146 58h2v2h-2zM171 66h2v1h-2zM187 35h2v3h-2zM191 40h2v7h-2z"/>
<path fill="#0f690f" d="M85 50h2v5h-2zM85 55h2v7h-2zM85 67h2v1h-2zM85 80h2v2h-2zM87 46h2v4h-2zM87 76h2v2h-2zM175 56h2v7h-2zM175 64h2v3h-2zM175 67h2v4h-2z"/>
<path fill="#0c510c" d="M85 68h2v7h-2zM85 75h2v5h-2zM107 28h1v2h-1zM114 70h2v6h-2zM125 28h1v7h-1zM134 76h1v4h-1zM143 78h1v2h-1zM151 56h2v7h-2zM155 67h2v4h-2zM164 58h2v5h-2z"/>
<path fill="#12720f" d="M87 54h2v1h-2zM87 55h2v1h-2z"/>
<path fill="#062406" d="M98 28h1v7h-1zM98 42h1v2h-1z"/>
<path fill="#092a06" d="M98 35h1v7h-1zM101 47h2v4h-2zM101 63h2v7h-2zM119 46h2v6h-2zM119 72h2v2h-2zM144 28h2v4h-2z"/>
<path fill="#092d06" d="M98 44h1v7h-1zM98 51h1v4h-1zM119 43h2v3h-2zM144 74h2v2h-2zM144 78h2v4h-2z"/>
<path fill="#092706" d="M98 62h1v5h-1z"/>
<path fill="#062706" d="M98 76h1v4h-1z"/>
<path fill="#092a09" d="M99 28h2v3h-2zM99 76h2v3h-2z"/>
<path fill="#0c3309" d="M99 39h2v5h-2z"/>
<path fill="#0c3009" d="M99 44h2v6h-2zM99 50h2v6h-2z"/>
<path fill="#0f3f0c" d="M99 56h2v7h-2zM99 79h2v3h-2z"/>
<path fill="#0c360c" d="M99 63h2v7h-2z"/>
<path fill="#092d09" d="M99 70h2v6h-2z"/>
<path fill="#0f600f" d="M107 36h1v6h-1zM107 74h1v1h-1z"/>
<path fill="#12630f" d="M107 52h1v7h-1z"/>
<path fill="#0f630f" d="M107 59h1v7h-1zM114 36h2v6h-2zM164 32h2v2h-2z"/>
<path fill="#0c4b0c" d="M107 79h1v3h-1zM114 28h2v2h-2zM114 63h2v4h-2zM117 28h2v7h-2zM117 59h2v4h-2zM132 42h2v5h-2z"/>
<path fill="#0f510c" d="M108 68h2v6h-2zM114 44h2v3h-2zM117 48h2v6h-2zM117 63h2v7h-2zM132 28h2v7h-2z"/>
<path fill="#062a06" d="M110 51h2v5h-2zM144 38h2v6h-2zM144 67h2v3h-2zM178 64h2v6h-2z"/>
<path fill="#062d06" d="M110 76h2v3h-2zM121 52h2v6h-2zM121 64h2v6h-2zM128 28h2v4h-2zM128 36h2v4h-2zM128 52h2v4h-2zM141 74h2v1h-2zM141 80h2v2h-2zM182 64h2v2h-2zM182 71h2v7h-2zM191 60h2v7h-2zM191 67h2v1h-2z"/>
<path fill="#0f570c" d="M114 30h2v6h-2zM117 54h2v1h-2zM134 66h1v6h-1zM143 48h1v6h-1zM155 46h2v2h-2z"/>
<path fill="#0f540c" d="M114 67h2v3h-2zM114 79h2v3h-2zM125 66h1v2h-1zM132 38h2v4h-2zM143 35h1v4h-1z"/>
<path fill="#12660f" d="M132 48h2v7h-2zM132 62h2v1h-2zM132 75h2v5h-2zM164 72h2v3h-2z"/>
<path fill="#093909" d="M144 44h2v4h-2z"/>
<path fill="#0c480c" d="M146 47h2v1h-2z"/>
<path fill="#091506" d="M166 28h2v3h-2zM166 55h2v4h-2zM204 40h1v2h-1zM229 58h1v1h-1zM229 59h1v4h-1zM229 63h1v7h-1zM236 38h2v2h-2zM238 28h1v3h-1zM241 28h2v6h-2zM241 40h2v7h-2zM241 47h2v5h-2zM241 56h2v3h-2zM241 59h2v5h-2zM241 64h2v2h-2zM241 66h2v6h-2zM241 76h2v4h-2zM241 80h2v2h-2z"/>
<path fill="#0c1e06" d="M166 31h2v5h-2zM166 42h2v6h-2zM166 48h2v7h-2zM166 59h2v3h-2zM166 68h2v2h-2zM202 43h2v4h-2zM202 47h2v5h-2zM202 55h2v5h-2zM202 71h2v5h-2zM202 80h2v2h-2zM211 54h1v5h-1zM211 74h1v1h-1zM211 75h1v4h-1zM232 70h2v1h-2zM232 71h2v1h-2z"/>
<path fill="#0f2106" d="M166 36h2v6h-2z"/>
<path fill="#0c1806" d="M166 62h2v6h-2zM204 70h1v4h-1zM236 63h2v3h-2zM236 71h2v4h-2zM238 46h1v2h-1zM238 48h1v4h-1zM239 50h2v5h-2zM241 52h2v4h-2z"/>
<path fill="#0c1b06" d="M166 70h2v1h-2zM166 78h2v4h-2zM202 52h2v3h-2zM229 31h1v3h-1zM229 70h1v1h-1zM229 71h1v3h-1zM239 59h2v4h-2z"/>
<path fill="#0f2406" d="M166 71h2v7h-2z"/>
<path fill="#211509" d="M168 28h1v3h-1zM168 52h1v4h-1z"/>
<path fill="#271b09" d="M168 31h1v7h-1z"/>
<path fill="#271809" d="M168 38h1v1h-1zM168 74h1v2h-1zM169 46h2v2h-2z"/>
<path fill="#1e1506" d="M168 39h1v5h-1zM168 48h1v4h-1zM168 56h1v7h-1zM169 54h2v6h-2z"/>
<path fill="#1b1206" d="M168 44h1v4h-1zM168 63h1v5h-1zM169 38h2v4h-2zM169 42h2v4h-2zM169 66h2v5h-2zM169 71h2v5h-2z"/>
<path fill="#211506" d="M168 68h1v6h-1z"/>
<path fill="#1e1206" d="M168 76h1v2h-1z"/>
<path fill="#241809" d="M168 78h1v4h-1zM169 34h2v4h-2zM169 76h2v3h-2zM169 79h2v3h-2z"/>
<path fill="#2a1b09" d="M169 28h2v6h-2zM169 48h2v6h-2zM169 60h2v6h-2z"/>
<path fill="#0c7809" d="M173 28h2v7h-2z"/>
<path fill="#0c6609" d="M173 35h2v7h-2zM195 78h1v2h-1z"/>
<path fill="#0c6909" d="M173 42h2v4h-2zM173 71h2v3h-2z"/>
<path fill="#0c6c09" d="M173 46h2v5h-2zM173 75h2v5h-2zM173 80h2v2h-2zM195 48h1v7h-1z"/>
<path fill="#095a09" d="M173 56h2v7h-2zM193 50h2v2h-2z"/>
<path fill="#0c7509" d="M173 63h2v1h-2zM173 64h2v7h-2z"/>
<path fill="#0c6309" d="M173 74h2v1h-2zM186 76h1v6h-1z"/>
<path fill="#095109" d="M184 52h2v7h-2zM184 72h2v4h-2zM186 75h1v1h-1z"/>
<path fill="#0c690c" d="M186 28h1v3h-1z"/>
<path fill="#0f6f0c" d="M186 31h1v3h-1zM186 59h1v1h-1zM186 63h1v5h-1z"/>
<path fill="#0c5d09" d="M186 34h1v6h-1z"/>
<path fill="#0f7e0c" d="M186 40h1v6h-1zM186 68h1v7h-1z"/>
<path fill="#0f750c" d="M186 46h1v4h-1z"/>
<path fill="#0c630c" d="M186 50h1v4h-1z"/>
<path fill="#0f780c" d="M186 54h1v4h-1z"/>
<path fill="#0c660c" d="M186 60h1v3h-1z"/>
<path fill="#095406" d="M193 28h2v3h-2zM193 74h2v1h-2z"/>
<path fill="#095706" d="M193 31h2v3h-2zM193 63h2v5h-2z"/>
<path fill="#063c06" d="M193 34h2v2h-2zM193 56h2v7h-2z"/>
<path fill="#064206" d="M193 40h2v6h-2zM193 75h2v5h-2z"/>
<path fill="#095a06" d="M193 46h2v4h-2zM193 80h2v2h-2z"/>
<path fill="#063f06" d="M193 52h2v4h-2z"/>
<path fill="#0c6f09" d="M195 28h1v2h-1z"/>
<path fill="#0f810c" d="M195 30h1v5h-1z"/>
<path fill="#0c7b0c" d="M195 35h1v7h-1zM195 62h1v5h-1z"/>
<path fill="#095d09" d="M195 42h1v2h-1zM195 55h1v4h-1z"/>
<path fill="#0c780c" d="M195 44h1v4h-1z"/>
<path fill="#096309" d="M195 59h1v3h-1z"/>
<path fill="#096009" d="M195 67h1v4h-1zM195 80h1v2h-1z"/>
<path fill="#095709" d="M195 71h1v7h-1z"/>
<path fill="#0f2a09" d="M202 28h2v2h-2z"/>
<path fill="#0f2409" d="M202 30h2v6h-2zM202 60h2v6h-2z"/>
<path fill="#0f2709" d="M202 36h2v7h-2z"/>
<path fill="#0c2109" d="M202 66h2v5h-2zM211 36h1v2h-1zM211 60h1v2h-1zM211 67h1v7h-1zM229 44h1v7h-1zM229 51h1v7h-1zM232 80h2v2h-2z"/>
<path fill="#091b06" d="M202 76h2v4h-2zM207 28h2v2h-2zM207 40h2v6h-2zM211 43h1v5h-1z"/>
<path fill="#0f1e09" d="M204 28h1v7h-1zM204 39h1v1h-1zM204 51h1v3h-1zM204 54h1v5h-1zM236 55h2v3h-2zM239 35h2v1h-2zM239 70h2v4h-2z"/>
<path fill="#0c1506" d="M204 35h1v4h-1zM204 59h1v4h-1zM216 34h2v2h-2zM216 42h2v2h-2zM225 28h2v3h-2zM238 38h1v1h-1zM238 43h1v3h-1zM238 56h1v2h-1z"/>
<path fill="#0f1b09" d="M204 42h1v4h-1zM204 46h1v5h-1zM204 80h1v2h-1zM216 28h2v6h-2zM216 72h2v6h-2z"/>
<path fill="#0c1b09" d="M204 63h1v7h-1zM236 66h2v2h-2zM236 68h2v3h-2zM236 75h2v7h-2zM239 55h2v4h-2zM239 63h2v7h-2z"/>
<path fill="#0f2109" d="M204 74h1v6h-1z"/>
<path fill="#0f0f09" d="M205 28h2v6h-2zM227 35h2v7h-2z"/>
<path fill="#18180c" d="M205 34h2v6h-2zM205 40h2v4h-2zM205 58h2v1h-2zM205 66h2v2h-2zM209 35h2v5h-2z"/>
<path fill="#1b180c" d="M205 44h2v7h-2zM212 38h2v5h-2zM212 50h2v4h-2zM220 59h1v5h-1zM220 64h1v6h-1zM220 70h1v6h-1z"/>
<path fill="#151509" d="M205 51h2v7h-2zM205 59h2v5h-2zM205 74h2v6h-2zM209 28h2v7h-2zM209 50h2v1h-2zM209 55h2v4h-2zM209 59h2v1h-2zM209 66h2v2h-2zM209 68h2v3h-2zM209 80h2v2h-2zM220 42h1v5h-1z"/>
<path fill="#0f0f06" d="M205 64h2v2h-2zM205 68h2v6h-2zM209 71h2v1h-2zM227 47h2v5h-2zM227 59h2v5h-2zM227 76h2v6h-2z"/>
<path fill="#120f09" d="M205 80h2v2h-2zM212 34h2v1h-2zM212 67h2v3h-2zM212 70h2v4h-2zM212 74h2v2h-2zM220 55h1v4h-1zM220 76h1v6h-1z"/>
<path fill="#0c2406" d="M207 30h2v1h-2z"/>
<path fill="#0c2106" d="M207 31h2v4h-2zM207 35h2v5h-2zM211 38h1v1h-1zM211 59h1v1h-1zM232 47h2v3h-2zM232 50h2v2h-2z"/>
<path fill="#091e06" d="M207 46h2v1h-2zM207 47h2v5h-2zM207 54h2v2h-2zM207 63h2v3h-2zM207 66h2v5h-2zM207 78h2v4h-2zM211 28h1v3h-1zM232 40h2v7h-2zM232 52h2v7h-2zM232 63h2v7h-2zM232 72h2v7h-2z"/>
<path fill="#092106" d="M207 52h2v2h-2z"/>
<path fill="#0c2709" d="M207 56h2v7h-2zM207 71h2v7h-2zM232 28h2v6h-2zM232 59h2v4h-2z"/>
<path fill="#0f1209" d="M209 40h2v3h-2zM209 47h2v3h-2zM209 72h2v2h-2zM221 35h2v4h-2zM221 39h2v5h-2zM221 50h2v2h-2z"/>
<path fill="#181b0c" d="M209 43h2v1h-2z"/>
<path fill="#121509" d="M209 44h2v3h-2zM209 60h2v6h-2zM209 79h2v1h-2zM221 46h2v2h-2zM221 48h2v2h-2zM221 56h2v4h-2zM221 63h2v1h-2zM221 71h2v7h-2z"/>
<path fill="#121209" d="M209 51h2v4h-2zM209 74h2v5h-2zM227 52h2v7h-2zM227 64h2v3h-2zM227 67h2v1h-2zM227 68h2v2h-2z"/>
<path fill="#0c2409" d="M211 31h1v5h-1zM211 48h1v6h-1zM232 34h2v5h-2zM232 39h2v1h-2zM232 79h2v1h-2z"/>
<path fill="#091806" d="M211 39h1v4h-1zM211 62h1v5h-1zM211 79h1v3h-1zM229 28h1v3h-1zM229 38h1v6h-1zM229 74h1v6h-1zM229 80h1v2h-1zM236 40h2v4h-2zM236 51h2v4h-2zM239 28h2v7h-2zM239 36h2v7h-2z"/>
<path fill="#120f06" d="M212 28h2v6h-2z"/>
<path fill="#151209" d="M212 35h2v1h-2zM212 63h2v4h-2zM220 28h1v4h-1zM220 32h1v3h-1z"/>
<path fill="#18150c" d="M212 36h2v2h-2zM220 47h1v5h-1zM220 52h1v3h-1z"/>
<path fill="#181509" d="M212 43h2v7h-2zM212 54h2v2h-2zM212 56h2v7h-2zM212 76h2v6h-2zM220 35h1v7h-1z"/>
<path fill="#1b270c" d="M214 28h2v2h-2zM214 46h2v2h-2zM214 68h2v3h-2zM214 75h2v5h-2z"/>
<path fill="#1b240c" d="M214 30h2v1h-2zM214 58h2v5h-2z"/>
<path fill="#151b09" d="M214 31h2v4h-2zM214 35h2v3h-2zM223 44h2v6h-2zM230 68h2v3h-2z"/>
<path fill="#121806" d="M214 38h2v1h-2zM214 80h2v2h-2z"/>
<path fill="#121809" d="M214 39h2v7h-2zM221 44h2v2h-2zM221 52h2v4h-2zM221 60h2v3h-2zM221 67h2v4h-2zM223 28h2v3h-2zM223 60h2v3h-2zM223 63h2v4h-2zM230 30h2v4h-2zM230 42h2v5h-2zM230 54h2v4h-2zM230 58h2v1h-2zM230 59h2v3h-2z"/>
<path fill="#182109" d="M214 48h2v6h-2zM214 54h2v4h-2z"/>
<path fill="#18240c" d="M214 63h2v5h-2zM214 71h2v4h-2z"/>
<path fill="#0f1809" d="M216 36h2v4h-2zM216 40h2v2h-2zM216 78h2v4h-2z"/>
<path fill="#0c1206" d="M216 44h2v6h-2zM218 35h2v1h-2zM218 36h2v3h-2zM218 64h2v7h-2zM218 71h2v5h-2zM218 76h2v2h-2zM225 54h2v5h-2zM234 46h2v1h-2zM234 54h2v1h-2z"/>
<path fill="#121b09" d="M216 50h2v5h-2zM216 55h2v4h-2zM230 47h2v7h-2zM230 62h2v6h-2z"/>
<path fill="#121e09" d="M216 59h2v4h-2zM216 67h2v5h-2z"/>
<path fill="#0f1509" d="M216 63h2v4h-2zM223 32h2v6h-2zM223 67h2v1h-2zM230 34h2v5h-2zM230 39h2v3h-2z"/>
<path fill="#091206" d="M218 28h2v7h-2zM218 48h2v7h-2zM225 31h2v4h-2zM225 39h2v3h-2zM225 50h2v4h-2zM225 66h2v5h-2zM225 76h2v6h-2zM236 35h2v1h-2zM236 36h2v2h-2zM236 44h2v7h-2zM236 58h2v5h-2zM238 39h1v4h-1zM238 52h1v2h-1zM238 68h1v4h-1zM241 34h2v6h-2zM241 72h2v4h-2z"/>
<path fill="#090f06" d="M218 39h2v3h-2zM218 42h2v1h-2zM218 78h2v2h-2zM225 35h2v4h-2zM225 71h2v5h-2zM234 28h2v7h-2zM234 40h2v6h-2zM234 55h2v7h-2zM234 63h2v3h-2zM234 66h2v6h-2zM234 74h2v4h-2zM238 31h1v3h-1zM238 34h1v4h-1zM238 54h1v1h-1zM238 55h1v1h-1zM238 72h1v2h-1zM238 74h1v1h-1zM238 75h1v4h-1zM238 79h1v3h-1z"/>
<path fill="#090c06" d="M218 43h2v5h-2zM218 80h2v2h-2zM234 51h2v1h-2zM234 52h2v2h-2z"/>
<path fill="#0c1509" d="M218 55h2v4h-2zM218 59h2v5h-2zM225 59h2v7h-2zM234 47h2v4h-2zM234 78h2v4h-2z"/>
<path fill="#15180c" d="M221 28h2v7h-2z"/>
<path fill="#151809" d="M221 64h2v3h-2z"/>
<path fill="#151b0c" d="M221 78h2v4h-2z"/>
<path fill="#0f1506" d="M223 31h2v1h-2zM223 59h2v1h-2zM223 71h2v4h-2zM223 75h2v5h-2zM230 28h2v2h-2z"/>
<path fill="#18210c" d="M223 38h2v6h-2zM230 72h2v4h-2zM230 76h2v6h-2z"/>
<path fill="#181e0c" d="M223 50h2v2h-2zM223 68h2v3h-2z"/>
<path fill="#151e09" d="M223 52h2v7h-2zM223 80h2v2h-2zM230 71h2v1h-2z"/>
<path fill="#0c1809" d="M225 42h2v6h-2zM225 48h2v2h-2zM238 58h1v5h-1zM238 63h1v5h-1z"/>
<path fill="#15150c" d="M227 28h2v2h-2zM227 30h2v5h-2zM227 42h2v5h-2z"/>
<path fill="#0c0c06" d="M227 70h2v6h-2z"/>
<path fill="#0c1e09" d="M229 34h1v4h-1zM236 28h2v7h-2zM239 43h2v7h-2zM239 74h2v6h-2zM239 80h2v2h-2z"/>
<path fill="#0c1209" d="M234 35h2v5h-2zM234 62h2v1h-2zM234 72h2v2h-2z"/>
</g></g>
<rect x="20.5" y="28.5" width="222.5" height="53.3" filter="url(#nz1)" opacity="0.2"/>
<rect x="201" y="46" width="42" height="0.9" fill="#2a5a20" opacity="0.15"/>
<rect x="201" y="49.5" width="42" height="0.9" fill="#2a5a20" opacity="0.15"/>
<rect x="201" y="57" width="42" height="0.9" fill="#2a5a20" opacity="0.15"/>
<rect x="201" y="63" width="42" height="0.9" fill="#2a5a20" opacity="0.15"/>
<rect x="201" y="70" width="42" height="0.9" fill="#2a5a20" opacity="0.15"/>
<rect x="201" y="76" width="42" height="0.9" fill="#2a5a20" opacity="0.15"/>
<line x1="20.5" y1="27.8" x2="243" y2="27.8" stroke="#aaa" stroke-width="1.3" stroke-dasharray="0.9 0.9"/>
<line x1="21.0" y1="28.5" x2="21.0" y2="81.8" stroke="#000" stroke-width="1"/>
<clipPath id="hc2"><rect x="20.8" y="145" width="220" height="50.6"/></clipPath>
<g clip-path="url(#hc2)"><g filter="url(#bl)" shape-rendering="crispEdges">
<rect x="18.8" y="143" width="224" height="54.6" fill="#000"/>
<path fill="#120903" d="M21 145h2v3h-2zM21 161h2v1h-2zM21 162h2v2h-2zM28 177h2v4h-2zM30 146h2v7h-2zM30 164h2v1h-2zM30 188h2v1h-2zM30 190h2v6h-2zM32 188h1v6h-1zM50 145h1v4h-1zM50 184h1v5h-1zM50 189h1v4h-1zM57 148h2v6h-2zM57 180h2v1h-2zM57 181h2v7h-2zM57 188h2v1h-2zM59 180h1v4h-1zM59 184h1v1h-1zM71 190h2v3h-2zM88 180h1v6h-1zM91 150h2v3h-2zM91 158h2v2h-2zM91 166h2v6h-2zM91 188h2v5h-2zM100 156h2v2h-2zM100 161h2v4h-2zM118 154h2v6h-2zM118 164h2v4h-2zM118 168h2v1h-2zM142 154h1v7h-1zM142 184h1v5h-1zM149 145h2v7h-2zM154 166h2v6h-2zM158 145h2v5h-2zM158 158h2v3h-2zM158 177h2v7h-2zM158 184h2v6h-2zM161 185h2v4h-2zM161 193h2v3h-2zM165 162h2v7h-2zM170 145h2v3h-2zM170 149h2v4h-2zM170 164h2v4h-2zM170 168h2v1h-2zM172 150h2v2h-2zM172 177h2v5h-2zM176 169h2v3h-2zM176 184h2v4h-2zM187 161h2v5h-2zM187 190h2v2h-2zM198 176h1v4h-1zM198 186h1v3h-1zM198 189h1v7h-1z"/>
<path fill="#1e0f06" d="M21 148h2v6h-2zM30 185h2v3h-2zM30 189h2v1h-2zM158 161h2v7h-2z"/>
<path fill="#180c06" d="M21 154h2v3h-2zM21 170h2v7h-2zM21 177h2v5h-2zM71 145h2v4h-2zM71 149h2v4h-2zM71 158h2v7h-2zM71 184h2v6h-2zM79 149h1v5h-1zM79 156h1v5h-1zM79 166h1v7h-1zM80 145h2v1h-2zM88 152h1v6h-1zM88 168h1v2h-1zM88 173h1v7h-1zM91 172h2v1h-2zM149 164h2v5h-2zM149 174h2v7h-2zM161 166h2v6h-2zM170 153h2v5h-2zM170 182h2v4h-2zM176 162h2v4h-2zM187 150h2v6h-2zM187 182h2v7h-2zM187 189h2v1h-2zM187 192h2v1h-2zM187 193h2v3h-2z"/>
<path fill="#1b0c06" d="M21 157h2v4h-2zM30 172h2v2h-2zM57 189h2v7h-2zM59 193h1v3h-1zM71 172h2v5h-2zM71 177h2v5h-2zM71 194h2v2h-2zM118 160h2v4h-2zM118 185h2v7h-2zM149 156h2v1h-2zM158 172h2v5h-2zM165 145h2v1h-2zM165 146h2v7h-2zM165 194h2v2h-2z"/>
<path fill="#0f0903" d="M21 164h2v6h-2zM24 153h2v7h-2zM24 184h2v2h-2zM32 174h1v3h-1zM33 152h2v4h-2zM33 162h2v4h-2zM48 156h2v6h-2zM48 193h2v1h-2zM48 194h2v2h-2zM50 172h1v2h-1zM55 165h2v7h-2zM79 194h1v2h-1zM80 146h2v2h-2zM80 148h2v5h-2zM80 160h2v1h-2zM82 146h2v2h-2zM82 149h2v1h-2zM82 157h2v1h-2zM82 165h2v4h-2zM86 156h2v4h-2zM86 176h2v2h-2zM88 172h1v1h-1zM88 186h1v7h-1zM102 145h2v5h-2zM102 150h2v7h-2zM102 162h2v2h-2zM102 168h2v6h-2zM102 188h2v6h-2zM102 194h2v2h-2zM124 181h1v3h-1zM124 194h1v2h-1zM152 186h2v6h-2zM170 161h2v3h-2zM172 145h2v1h-2zM172 157h2v4h-2zM172 182h2v7h-2zM172 193h2v3h-2zM176 148h2v6h-2zM198 145h1v1h-1zM198 146h1v4h-1zM198 173h1v1h-1z"/>
<path fill="#180c03" d="M21 182h2v2h-2zM21 184h2v1h-2zM30 145h2v1h-2zM100 154h2v2h-2zM100 170h2v7h-2zM100 177h2v5h-2zM100 190h2v2h-2zM118 149h2v1h-2zM118 192h2v1h-2zM158 168h2v4h-2zM165 160h2v2h-2zM165 185h2v5h-2z"/>
<path fill="#150903" d="M21 185h2v4h-2zM28 152h2v6h-2zM28 160h2v6h-2zM28 166h2v2h-2zM30 180h2v5h-2zM57 154h2v7h-2zM57 172h2v1h-2zM59 145h1v1h-1zM59 152h1v4h-1zM59 165h1v5h-1zM59 189h1v4h-1zM71 182h2v2h-2zM73 150h2v6h-2zM73 184h2v6h-2zM79 145h1v4h-1zM98 150h2v3h-2zM98 186h2v6h-2zM100 145h2v4h-2zM100 182h2v4h-2zM115 180h1v2h-1zM118 145h2v4h-2zM118 150h2v4h-2zM118 169h2v3h-2zM118 172h2v2h-2zM118 193h2v3h-2zM142 145h1v3h-1zM142 161h1v7h-1zM149 181h2v3h-2zM149 184h2v4h-2zM151 164h1v2h-1zM151 180h1v6h-1zM154 185h2v7h-2zM154 192h2v4h-2zM158 190h2v4h-2zM161 145h2v5h-2zM161 174h2v4h-2zM161 189h2v4h-2zM165 190h2v4h-2z"/>
<path fill="#1b0f06" d="M21 189h2v3h-2zM80 169h2v1h-2zM80 177h2v3h-2zM80 192h2v4h-2zM88 161h1v7h-1zM88 193h1v3h-1zM118 181h2v4h-2zM172 146h2v4h-2zM172 166h2v2h-2zM172 169h2v4h-2zM176 188h2v5h-2zM176 193h2v3h-2z"/>
<path fill="#150c03" d="M21 192h2v4h-2zM71 153h2v3h-2zM71 156h2v2h-2zM80 165h2v4h-2zM80 186h2v3h-2zM88 145h1v7h-1zM124 176h1v5h-1zM125 170h2v7h-2zM158 150h2v2h-2zM158 194h2v2h-2zM172 173h2v4h-2zM172 189h2v4h-2zM176 154h2v3h-2zM176 172h2v1h-2z"/>
<path fill="#0f0603" d="M23 145h1v7h-1zM28 158h2v2h-2zM28 194h2v2h-2zM30 153h2v4h-2zM30 165h2v7h-2zM30 174h2v6h-2zM44 158h2v4h-2zM44 172h2v1h-2zM44 190h2v4h-2zM50 149h1v5h-1zM50 169h1v3h-1zM51 188h2v4h-2zM57 145h2v3h-2zM57 161h2v4h-2zM59 158h1v3h-1zM59 161h1v4h-1zM71 165h2v7h-2zM71 193h2v1h-2zM79 189h1v1h-1zM88 160h1v1h-1zM91 153h2v5h-2zM91 160h2v4h-2zM98 165h2v3h-2zM106 165h1v5h-1zM106 176h1v5h-1zM118 174h2v2h-2zM118 176h2v5h-2zM136 156h2v6h-2zM136 190h2v6h-2zM149 162h2v2h-2zM149 188h2v5h-2zM149 193h2v1h-2zM151 169h1v3h-1zM151 190h1v2h-1zM158 152h2v6h-2zM160 160h1v5h-1zM160 177h1v5h-1zM161 150h2v2h-2zM161 158h2v6h-2zM165 153h2v7h-2zM165 176h2v5h-2zM170 193h2v3h-2zM174 153h2v7h-2zM174 170h2v3h-2zM174 178h2v6h-2zM174 193h2v3h-2zM185 162h2v4h-2zM185 188h2v1h-2zM185 189h2v4h-2zM187 177h2v5h-2z"/>
<path fill="#1b0903" d="M23 152h1v4h-1zM28 186h2v3h-2zM59 146h1v6h-1zM73 156h2v4h-2zM73 172h2v5h-2zM115 158h1v2h-1zM115 189h1v1h-1zM115 194h1v2h-1zM143 160h2v5h-2zM143 176h2v5h-2zM151 150h1v7h-1zM151 177h1v3h-1zM201 174h2v7h-2zM203 170h2v7h-2zM205 160h2v2h-2zM205 184h2v4h-2z"/>
<path fill="#120603" d="M23 156h1v4h-1zM23 165h1v7h-1zM44 156h2v2h-2zM51 156h2v2h-2zM51 186h2v2h-2zM51 194h2v2h-2zM57 165h2v3h-2zM60 158h2v6h-2zM73 177h2v7h-2zM98 180h2v6h-2zM106 154h1v2h-1zM106 156h1v2h-1zM106 190h1v4h-1zM106 194h1v2h-1zM115 178h1v2h-1zM115 182h1v2h-1zM136 150h2v6h-2zM136 169h2v7h-2zM143 145h2v4h-2zM143 149h2v1h-2zM143 154h2v4h-2zM143 158h2v2h-2zM143 172h2v4h-2zM149 169h2v4h-2zM151 172h1v5h-1zM160 168h1v1h-1zM161 178h2v7h-2zM174 184h2v2h-2zM179 145h2v3h-2zM179 161h2v4h-2zM179 174h2v2h-2zM185 145h2v7h-2zM185 160h2v2h-2zM185 173h2v3h-2z"/>
<path fill="#150603" d="M23 160h1v5h-1zM44 148h2v2h-2zM44 165h2v7h-2zM44 180h2v2h-2zM44 182h2v2h-2zM44 188h2v2h-2zM44 194h2v2h-2zM51 145h2v4h-2zM51 158h2v6h-2zM60 145h2v1h-2zM60 173h2v1h-2zM60 178h2v7h-2zM60 185h2v5h-2zM60 190h2v6h-2zM64 156h2v4h-2zM136 162h2v2h-2zM143 165h2v7h-2zM179 148h2v2h-2zM179 184h2v4h-2zM185 166h2v7h-2zM185 193h2v3h-2zM201 166h2v3h-2zM201 190h2v4h-2zM219 145h2v3h-2zM219 161h2v4h-2zM226 145h2v4h-2zM239 162h2v7h-2z"/>
<path fill="#1b0906" d="M23 172h1v4h-1zM23 194h1v2h-1zM44 173h2v7h-2zM51 169h2v4h-2zM60 169h2v4h-2zM60 174h2v4h-2zM98 145h2v4h-2zM98 158h2v4h-2zM98 178h2v2h-2zM98 192h2v4h-2zM136 166h2v3h-2zM136 185h2v4h-2zM160 145h1v7h-1zM160 169h1v4h-1zM160 173h1v4h-1zM160 189h1v7h-1zM185 181h2v7h-2z"/>
<path fill="#180603" d="M23 176h1v2h-1zM23 178h1v4h-1zM23 182h1v2h-1zM23 184h1v4h-1zM44 145h2v3h-2zM44 154h2v2h-2zM51 149h2v7h-2zM51 174h2v6h-2zM51 180h2v6h-2zM51 193h2v1h-2zM179 165h2v3h-2zM179 176h2v4h-2zM179 180h2v4h-2zM189 152h1v6h-1zM189 189h1v7h-1zM201 145h2v4h-2zM201 162h2v4h-2zM212 186h2v6h-2zM219 176h2v4h-2zM232 145h2v3h-2zM239 192h2v4h-2z"/>
<path fill="#210906" d="M23 188h1v6h-1zM179 150h2v6h-2z"/>
<path fill="#0c0603" d="M24 145h2v3h-2zM24 152h2v1h-2zM32 145h1v4h-1zM32 149h1v5h-1zM32 168h1v1h-1zM32 177h1v5h-1zM32 182h1v4h-1zM48 149h2v1h-2zM48 150h2v6h-2zM48 162h2v7h-2zM48 173h2v7h-2zM50 154h1v4h-1zM50 174h1v3h-1zM50 177h1v1h-1zM55 193h2v3h-2zM79 154h1v2h-1zM79 161h1v5h-1zM79 173h1v7h-1zM79 180h1v2h-1zM79 182h1v7h-1zM79 190h1v4h-1zM80 170h2v7h-2zM80 180h2v6h-2zM82 181h2v1h-2zM86 145h2v5h-2zM86 160h2v5h-2zM86 166h2v2h-2zM86 178h2v7h-2zM86 185h2v4h-2zM86 189h2v7h-2zM88 158h1v2h-1zM88 170h1v2h-1zM89 145h2v7h-2zM89 152h2v5h-2zM89 172h2v6h-2zM91 164h2v2h-2zM91 174h2v6h-2zM91 181h2v1h-2zM98 162h2v3h-2zM102 157h2v5h-2zM102 164h2v2h-2zM102 166h2v2h-2zM102 174h2v4h-2zM106 162h1v3h-1zM136 145h2v5h-2zM149 157h2v5h-2zM161 164h2v2h-2zM161 172h2v2h-2zM170 148h2v1h-2zM170 158h2v3h-2zM170 169h2v4h-2zM172 168h2v1h-2zM174 173h2v5h-2zM176 166h2v3h-2zM176 178h2v6h-2zM187 145h2v4h-2zM187 166h2v3h-2zM187 169h2v7h-2zM198 157h1v5h-1zM198 174h1v2h-1zM198 180h1v6h-1z"/>
<path fill="#0c0903" d="M24 148h2v4h-2zM24 160h2v6h-2zM24 166h2v7h-2zM33 156h2v6h-2zM33 181h2v7h-2zM33 194h2v2h-2zM35 148h2v5h-2zM35 154h2v3h-2zM42 177h2v5h-2zM55 148h2v2h-2zM55 150h2v4h-2zM55 190h2v3h-2zM82 188h2v6h-2zM89 178h2v6h-2zM89 194h2v2h-2zM120 180h2v1h-2zM124 158h1v7h-1zM124 189h1v5h-1zM134 145h2v7h-2zM134 157h2v7h-2zM134 194h2v2h-2zM152 154h2v7h-2z"/>
<path fill="#150c06" d="M24 173h2v1h-2zM32 164h1v4h-1zM32 169h1v5h-1zM32 194h1v2h-1zM48 145h2v4h-2zM48 169h2v4h-2zM48 188h2v5h-2zM50 165h1v3h-1zM82 153h2v4h-2zM82 194h2v2h-2zM86 168h2v4h-2zM89 184h2v5h-2zM170 173h2v4h-2zM170 177h2v4h-2zM170 186h2v7h-2zM198 150h1v7h-1zM198 162h1v7h-1z"/>
<path fill="#090603" d="M24 174h2v4h-2zM24 178h2v6h-2zM24 186h2v6h-2zM32 154h1v4h-1zM35 161h2v7h-2zM48 181h2v7h-2zM50 168h1v1h-1zM82 148h2v1h-2zM82 150h2v3h-2zM82 174h2v7h-2zM86 152h2v4h-2zM86 172h2v2h-2zM89 161h2v3h-2zM89 164h2v4h-2zM89 168h2v4h-2zM91 145h2v5h-2zM102 184h2v4h-2zM152 145h2v1h-2z"/>
<path fill="#120c06" d="M24 192h2v4h-2zM32 158h1v6h-1zM32 186h1v2h-1zM35 173h2v7h-2zM55 174h2v2h-2zM82 145h2v1h-2zM82 158h2v7h-2zM82 182h2v6h-2zM89 157h2v4h-2zM89 189h2v5h-2zM152 152h2v2h-2zM152 182h2v4h-2zM198 169h1v4h-1z"/>
<path fill="#0c1503" d="M26 145h2v3h-2zM26 173h2v5h-2zM84 149h2v4h-2zM84 153h2v4h-2zM84 182h2v3h-2z"/>
<path fill="#0f1e03" d="M26 148h2v5h-2zM113 152h2v6h-2zM116 192h2v4h-2z"/>
<path fill="#183006" d="M26 153h2v4h-2zM26 170h2v3h-2z"/>
<path fill="#122103" d="M26 157h2v3h-2zM26 190h2v6h-2zM113 145h2v7h-2zM113 177h2v5h-2zM116 184h2v2h-2z"/>
<path fill="#122403" d="M26 160h2v1h-2zM26 178h2v2h-2zM116 160h2v6h-2z"/>
<path fill="#152703" d="M26 161h2v3h-2z"/>
<path fill="#0c1803" d="M26 164h2v1h-2zM26 165h2v5h-2zM26 180h2v6h-2zM84 173h2v3h-2zM113 172h2v5h-2z"/>
<path fill="#1b3006" d="M26 186h2v4h-2zM113 194h2v2h-2z"/>
<path fill="#1b0c03" d="M28 145h2v1h-2zM28 168h2v2h-2zM100 149h2v5h-2zM100 165h2v5h-2zM100 192h2v4h-2zM142 152h1v2h-1zM154 145h2v5h-2z"/>
<path fill="#210f06" d="M28 146h2v4h-2zM28 181h2v1h-2z"/>
<path fill="#1e0c06" d="M28 150h2v2h-2zM28 182h2v4h-2zM30 157h2v7h-2zM59 170h1v4h-1zM59 176h1v4h-1zM73 165h2v1h-2zM115 152h1v6h-1zM115 164h1v5h-1zM151 192h1v1h-1z"/>
<path fill="#180903" d="M28 170h2v7h-2zM59 156h1v2h-1zM64 145h2v4h-2zM64 149h2v7h-2zM64 189h2v7h-2zM73 145h2v5h-2zM73 166h2v6h-2zM115 145h1v7h-1zM115 160h1v4h-1zM115 170h1v6h-1zM115 176h1v2h-1zM142 176h1v5h-1zM143 193h2v3h-2zM151 186h1v3h-1zM154 184h2v1h-2zM165 169h2v7h-2zM165 181h2v4h-2zM185 152h2v2h-2zM185 176h2v4h-2zM205 157h2v1h-2zM219 180h2v6h-2zM226 174h2v2h-2z"/>
<path fill="#210c06" d="M28 189h2v5h-2zM59 174h1v2h-1zM59 185h1v4h-1zM64 166h2v7h-2zM73 162h2v3h-2zM73 190h2v6h-2zM143 181h2v7h-2zM151 145h1v5h-1zM151 157h1v4h-1zM151 161h1v3h-1zM151 189h1v1h-1zM151 193h1v3h-1zM154 152h2v6h-2z"/>
<path fill="#120c03" d="M33 145h2v7h-2zM33 169h2v7h-2zM55 145h2v3h-2zM55 158h2v7h-2zM55 176h2v6h-2zM120 161h2v5h-2zM120 194h2v2h-2zM124 150h1v6h-1zM124 165h1v4h-1zM125 145h2v4h-2zM125 164h2v6h-2zM125 180h2v1h-2zM125 193h2v3h-2zM134 178h2v7h-2zM176 145h2v3h-2z"/>
<path fill="#0f0c03" d="M33 166h2v3h-2zM33 188h2v5h-2zM33 193h2v1h-2zM35 153h2v1h-2zM35 182h2v4h-2zM35 190h2v6h-2zM42 146h2v3h-2zM42 149h2v4h-2zM42 164h2v5h-2zM42 172h2v5h-2zM55 172h2v1h-2zM55 182h2v6h-2zM124 156h1v2h-1zM134 164h2v5h-2zM134 185h2v1h-2zM152 161h2v3h-2zM152 164h2v4h-2zM152 168h2v5h-2zM152 180h2v2h-2zM152 192h2v1h-2z"/>
<path fill="#150f06" d="M33 176h2v5h-2zM35 181h2v1h-2zM35 186h2v4h-2zM55 156h2v2h-2zM55 173h2v1h-2zM55 188h2v2h-2zM82 169h2v5h-2zM120 150h2v7h-2zM120 166h2v6h-2zM120 178h2v2h-2zM120 184h2v4h-2zM120 188h2v2h-2zM124 184h1v5h-1zM125 149h2v7h-2zM125 158h2v6h-2zM134 152h2v5h-2zM134 193h2v1h-2zM152 194h2v2h-2z"/>
<path fill="#090903" d="M35 145h2v3h-2zM35 172h2v1h-2zM35 180h2v1h-2zM42 192h2v4h-2zM134 172h2v6h-2zM152 173h2v7h-2zM152 193h2v1h-2z"/>
<path fill="#120f06" d="M35 157h2v4h-2zM35 168h2v4h-2zM42 145h2v1h-2zM42 153h2v7h-2zM42 160h2v4h-2zM42 169h2v3h-2zM42 182h2v3h-2zM42 188h2v4h-2zM152 146h2v6h-2z"/>
<path fill="#450c06" d="M37 145h2v7h-2zM77 190h2v4h-2zM140 157h2v4h-2zM140 173h2v7h-2zM192 186h2v7h-2z"/>
<path fill="#330903" d="M37 152h2v4h-2zM77 164h2v5h-2zM77 169h2v5h-2zM140 166h2v7h-2zM147 145h2v3h-2zM178 178h1v6h-1zM183 162h2v3h-2zM183 185h2v5h-2zM192 145h2v4h-2zM192 173h2v4h-2z"/>
<path fill="#4e0f06" d="M37 156h2v1h-2zM37 174h2v2h-2zM140 150h2v2h-2z"/>
<path fill="#420c03" d="M37 157h2v7h-2z"/>
<path fill="#420c06" d="M37 164h2v4h-2zM140 152h2v5h-2zM192 172h2v1h-2z"/>
<path fill="#2d0903" d="M37 168h2v1h-2zM66 182h2v4h-2zM77 158h2v6h-2zM140 145h2v5h-2zM140 188h2v4h-2zM181 145h2v3h-2zM192 154h2v4h-2zM192 165h2v5h-2zM192 170h2v2h-2zM207 165h1v4h-1zM210 174h2v7h-2zM210 194h2v2h-2zM225 158h1v4h-1zM228 162h2v6h-2zM228 180h2v6h-2zM234 188h1v2h-1z"/>
<path fill="#2a0903" d="M37 169h2v1h-2zM37 182h2v3h-2zM37 189h2v4h-2zM66 153h2v3h-2zM66 156h2v2h-2zM68 176h1v2h-1zM95 184h2v5h-2zM109 166h2v2h-2zM109 186h2v3h-2zM140 161h2v4h-2zM140 186h2v2h-2zM145 174h2v6h-2zM147 153h2v4h-2zM147 190h2v3h-2zM147 193h2v3h-2zM192 181h2v5h-2zM207 158h1v7h-1zM207 193h1v3h-1zM210 150h2v4h-2zM210 169h2v4h-2zM214 173h2v1h-2zM214 181h2v4h-2zM223 150h2v7h-2zM223 170h2v7h-2zM223 188h2v4h-2zM228 193h2v3h-2z"/>
<path fill="#300903" d="M37 170h2v4h-2zM37 193h2v3h-2zM68 169h1v7h-1zM77 174h2v6h-2zM147 184h2v6h-2zM156 152h2v6h-2zM192 149h2v5h-2zM192 177h2v1h-2zM192 193h2v3h-2z"/>
<path fill="#270603" d="M37 176h2v1h-2zM122 145h2v4h-2zM122 149h2v7h-2zM122 174h2v3h-2zM140 165h2v1h-2zM190 146h2v3h-2zM190 194h2v2h-2zM192 178h2v3h-2zM235 152h2v5h-2z"/>
<path fill="#4b0f06" d="M37 177h2v5h-2zM140 192h2v4h-2z"/>
<path fill="#360903" d="M37 185h2v4h-2zM178 160h1v2h-1zM190 164h2v6h-2z"/>
<path fill="#0f1203" d="M39 145h2v7h-2zM39 185h2v1h-2zM111 153h2v7h-2zM111 182h2v7h-2zM129 150h2v7h-2zM131 157h2v4h-2zM131 189h2v3h-2zM196 161h2v1h-2z"/>
<path fill="#1b2106" d="M39 152h2v6h-2zM39 162h2v6h-2zM196 188h2v5h-2z"/>
<path fill="#1b1e06" d="M39 158h2v4h-2zM111 166h2v2h-2zM111 176h2v2h-2zM111 189h2v4h-2z"/>
<path fill="#151803" d="M39 168h2v6h-2zM39 189h2v1h-2zM46 180h2v4h-2zM111 162h2v4h-2zM129 162h2v7h-2zM129 189h2v7h-2zM131 177h2v3h-2zM196 157h2v4h-2zM196 162h2v7h-2zM196 176h2v4h-2zM196 180h2v2h-2z"/>
<path fill="#0f0f03" d="M39 174h2v2h-2zM39 178h2v7h-2z"/>
<path fill="#181b06" d="M39 176h2v2h-2z"/>
<path fill="#181e06" d="M39 186h2v3h-2zM39 190h2v4h-2zM131 150h2v4h-2z"/>
<path fill="#121503" d="M39 194h2v2h-2zM41 180h1v1h-1zM111 169h2v7h-2zM129 149h2v1h-2zM129 182h2v7h-2zM131 146h2v4h-2zM131 168h2v2h-2zM131 188h2v1h-2zM196 152h2v5h-2zM196 193h2v3h-2z"/>
<path fill="#151503" d="M41 145h1v4h-1zM41 186h1v2h-1zM111 160h2v2h-2zM129 157h2v5h-2zM133 150h1v6h-1z"/>
<path fill="#242706" d="M41 149h1v3h-1zM129 169h2v4h-2z"/>
<path fill="#242406" d="M41 152h1v6h-1z"/>
<path fill="#1e1e03" d="M41 158h1v6h-1zM41 193h1v3h-1z"/>
<path fill="#181b03" d="M41 164h1v1h-1zM111 149h2v4h-2zM129 173h2v4h-2zM196 145h2v7h-2zM196 169h2v7h-2zM196 182h2v3h-2z"/>
<path fill="#212406" d="M41 165h1v5h-1zM41 188h1v5h-1zM129 145h2v4h-2z"/>
<path fill="#181803" d="M41 170h1v6h-1z"/>
<path fill="#212106" d="M41 176h1v4h-1zM41 181h1v5h-1zM133 156h1v5h-1z"/>
<path fill="#120f03" d="M42 185h2v3h-2zM133 161h1v7h-1zM133 181h1v5h-1zM134 169h2v3h-2z"/>
<path fill="#1e0906" d="M44 150h2v4h-2zM51 164h2v1h-2zM51 165h2v4h-2zM51 173h2v1h-2zM51 192h2v1h-2zM185 154h2v6h-2zM185 180h2v1h-2z"/>
<path fill="#0f0303" d="M44 162h2v3h-2zM44 184h2v4h-2z"/>
<path fill="#242a06" d="M46 145h2v3h-2zM46 176h2v2h-2z"/>
<path fill="#1b2103" d="M46 148h2v4h-2z"/>
<path fill="#151b03" d="M46 152h2v5h-2z"/>
<path fill="#212a06" d="M46 157h2v1h-2zM46 158h2v4h-2z"/>
<path fill="#1e2103" d="M46 162h2v7h-2z"/>
<path fill="#1b1e03" d="M46 169h2v7h-2z"/>
<path fill="#212703" d="M46 178h2v2h-2zM46 190h2v6h-2z"/>
<path fill="#1e2403" d="M46 184h2v6h-2z"/>
<path fill="#120906" d="M48 180h2v1h-2zM50 178h1v6h-1zM50 193h1v3h-1zM86 150h2v2h-2zM86 165h2v1h-2zM86 174h2v2h-2zM102 178h2v6h-2zM174 160h2v5h-2zM174 165h2v5h-2z"/>
<path fill="#150906" d="M50 158h1v7h-1zM91 173h2v1h-2zM91 180h2v1h-2zM91 193h2v3h-2zM149 152h2v4h-2zM149 173h2v1h-2zM170 181h2v1h-2zM174 150h2v3h-2zM174 186h2v2h-2zM174 188h2v4h-2zM187 149h2v1h-2zM187 156h2v5h-2zM187 176h2v1h-2z"/>
<path fill="#600906" d="M53 145h2v3h-2zM53 178h2v4h-2zM221 188h2v5h-2z"/>
<path fill="#330603" d="M53 148h2v5h-2zM53 172h2v4h-2zM167 184h2v2h-2zM190 189h2v4h-2zM217 146h2v4h-2zM217 158h2v4h-2zM230 164h2v6h-2zM235 169h2v7h-2z"/>
<path fill="#4e0606" d="M53 153h2v4h-2z"/>
<path fill="#570906" d="M53 157h2v3h-2zM216 182h1v7h-1zM217 157h2v1h-2zM217 170h2v4h-2z"/>
<path fill="#450603" d="M53 160h2v6h-2zM221 181h2v4h-2zM221 186h2v2h-2z"/>
<path fill="#300303" d="M53 166h2v6h-2zM53 176h2v2h-2zM221 172h2v1h-2z"/>
<path fill="#3f0603" d="M53 182h2v4h-2zM122 157h2v5h-2z"/>
<path fill="#4e0603" d="M53 186h2v4h-2z"/>
<path fill="#510606" d="M53 190h2v4h-2z"/>
<path fill="#5d0906" d="M53 194h2v2h-2zM221 150h2v2h-2zM221 161h2v4h-2zM221 193h2v3h-2z"/>
<path fill="#180f06" d="M55 154h2v2h-2zM80 153h2v7h-2zM80 161h2v4h-2zM80 189h2v3h-2zM120 146h2v4h-2zM120 190h2v4h-2zM124 145h1v5h-1zM124 169h1v7h-1zM125 156h2v2h-2zM125 177h2v3h-2zM125 181h2v7h-2zM125 189h2v4h-2zM172 152h2v5h-2zM172 161h2v5h-2zM176 157h2v5h-2zM176 173h2v5h-2z"/>
<path fill="#180906" d="M57 168h2v4h-2zM57 173h2v7h-2zM60 146h2v3h-2zM60 152h2v1h-2zM60 153h2v5h-2zM91 182h2v6h-2zM98 149h2v1h-2zM98 153h2v5h-2zM98 173h2v5h-2zM106 158h1v4h-1zM106 181h1v4h-1zM136 164h2v2h-2zM136 176h2v1h-2zM136 177h2v5h-2zM136 182h2v3h-2zM136 189h2v1h-2zM149 194h2v2h-2zM160 152h1v1h-1zM160 153h1v5h-1zM160 158h1v2h-1zM160 165h1v3h-1zM161 152h2v6h-2zM174 145h2v5h-2z"/>
<path fill="#180606" d="M60 149h2v3h-2z"/>
<path fill="#0c0303" d="M60 164h2v5h-2zM98 168h2v5h-2zM106 170h1v6h-1zM106 185h1v5h-1zM160 182h1v7h-1zM174 192h2v1h-2z"/>
<path fill="#243906" d="M62 145h2v7h-2z"/>
<path fill="#182703" d="M62 152h2v5h-2zM62 157h2v5h-2z"/>
<path fill="#1e3306" d="M62 162h2v2h-2zM62 164h2v4h-2zM62 174h2v2h-2zM62 176h2v4h-2zM62 181h2v4h-2z"/>
<path fill="#121e03" d="M62 168h2v6h-2zM84 162h2v7h-2zM113 161h2v5h-2zM116 170h2v6h-2z"/>
<path fill="#182a03" d="M62 180h2v1h-2z"/>
<path fill="#213606" d="M62 185h2v1h-2z"/>
<path fill="#152403" d="M62 186h2v6h-2zM113 166h2v6h-2zM116 189h2v3h-2z"/>
<path fill="#0f1b03" d="M62 192h2v2h-2zM84 169h2v4h-2zM84 181h2v1h-2zM113 182h2v7h-2zM116 145h2v7h-2zM116 152h2v4h-2zM116 166h2v4h-2zM116 181h2v3h-2z"/>
<path fill="#243c06" d="M62 194h2v2h-2z"/>
<path fill="#240c06" d="M64 160h2v1h-2zM64 173h2v7h-2zM73 160h2v2h-2zM143 188h2v4h-2zM179 188h2v5h-2zM205 145h2v5h-2zM205 169h2v7h-2z"/>
<path fill="#2a0f06" d="M64 161h2v5h-2zM226 176h2v6h-2zM226 182h2v4h-2z"/>
<path fill="#1e0c03" d="M64 180h2v2h-2zM64 182h2v7h-2zM115 190h1v4h-1zM142 168h1v5h-1zM154 172h2v5h-2zM226 165h2v7h-2zM226 172h2v2h-2zM226 186h2v4h-2z"/>
<path fill="#240603" d="M66 145h2v5h-2zM68 181h1v1h-1zM140 180h2v4h-2zM181 161h2v1h-2zM181 186h2v6h-2zM183 156h2v6h-2zM190 145h2v1h-2zM190 157h2v7h-2zM223 148h2v2h-2zM228 146h2v4h-2z"/>
<path fill="#330906" d="M66 150h2v2h-2zM223 162h2v2h-2zM228 190h2v3h-2z"/>
<path fill="#390c06" d="M66 152h2v1h-2zM68 148h1v6h-1zM147 168h2v4h-2zM210 158h2v3h-2zM210 189h2v1h-2zM228 168h2v6h-2zM228 178h2v2h-2z"/>
<path fill="#1b0603" d="M66 158h2v3h-2zM66 190h2v3h-2zM107 158h2v4h-2zM107 162h2v4h-2zM189 145h1v7h-1zM189 158h1v7h-1zM207 177h1v7h-1zM212 174h2v7h-2zM214 145h2v3h-2zM214 185h2v3h-2zM214 194h2v2h-2zM225 145h1v5h-1zM228 145h2v1h-2zM234 162h1v6h-1zM239 173h2v7h-2z"/>
<path fill="#210603" d="M66 161h2v3h-2zM66 164h2v2h-2zM66 177h2v5h-2zM66 186h2v4h-2zM145 189h2v5h-2zM147 176h2v1h-2zM181 154h2v7h-2zM181 180h2v1h-2zM183 145h2v5h-2zM183 165h2v7h-2zM189 168h1v6h-1zM207 145h1v5h-1zM207 150h1v7h-1zM214 174h2v2h-2zM214 188h2v4h-2zM223 145h2v3h-2zM228 157h2v5h-2zM228 174h2v4h-2zM234 190h1v6h-1z"/>
<path fill="#330c06" d="M66 166h2v4h-2zM107 156h2v2h-2zM107 166h2v3h-2zM107 181h2v5h-2zM210 154h2v4h-2zM212 150h2v3h-2zM214 192h2v2h-2zM225 170h1v3h-1zM225 181h1v1h-1zM225 193h1v3h-1zM232 164h2v4h-2z"/>
<path fill="#270903" d="M66 170h2v7h-2zM107 169h2v5h-2zM145 149h2v1h-2zM147 164h2v4h-2zM147 173h2v3h-2zM181 166h2v7h-2zM181 173h2v7h-2zM207 170h1v7h-1zM210 173h2v1h-2zM223 177h2v4h-2zM225 173h1v1h-1zM234 174h1v3h-1zM234 181h1v7h-1z"/>
<path fill="#300906" d="M66 193h2v3h-2zM212 153h2v7h-2zM223 181h2v7h-2zM228 186h2v4h-2z"/>
<path fill="#360c03" d="M68 145h1v3h-1zM68 165h1v1h-1zM68 189h1v7h-1zM95 145h2v4h-2zM95 172h2v1h-2zM95 176h2v2h-2zM109 146h2v7h-2zM145 182h2v7h-2zM181 162h2v4h-2z"/>
<path fill="#450f06" d="M68 154h1v3h-1zM68 182h1v7h-1zM145 169h2v5h-2z"/>
<path fill="#330c03" d="M68 157h1v4h-1zM68 161h1v4h-1zM68 178h1v3h-1zM95 166h2v6h-2zM109 165h2v1h-2zM109 194h2v2h-2z"/>
<path fill="#390c03" d="M68 166h1v3h-1zM95 173h2v3h-2zM147 157h2v7h-2z"/>
<path fill="#0c1b03" d="M69 145h2v4h-2zM69 181h2v1h-2z"/>
<path fill="#0f2703" d="M69 149h2v1h-2zM69 150h2v4h-2zM75 193h2v3h-2z"/>
<path fill="#153306" d="M69 154h2v3h-2z"/>
<path fill="#0c2103" d="M69 157h2v7h-2zM75 146h2v3h-2z"/>
<path fill="#122a03" d="M69 164h2v4h-2z"/>
<path fill="#0f2403" d="M69 168h2v1h-2zM75 157h2v7h-2zM75 170h2v4h-2z"/>
<path fill="#123306" d="M69 169h2v3h-2zM75 178h2v3h-2z"/>
<path fill="#122d03" d="M69 172h2v4h-2z"/>
<path fill="#0c2403" d="M69 176h2v5h-2z"/>
<path fill="#0f2a03" d="M69 182h2v7h-2z"/>
<path fill="#123006" d="M69 189h2v5h-2zM69 194h2v2h-2zM75 149h2v5h-2zM75 164h2v6h-2z"/>
<path fill="#0c1e03" d="M75 145h2v1h-2zM75 181h2v5h-2z"/>
<path fill="#153606" d="M75 154h2v3h-2z"/>
<path fill="#122d06" d="M75 174h2v4h-2z"/>
<path fill="#091803" d="M75 186h2v4h-2zM75 190h2v3h-2z"/>
<path fill="#390903" d="M77 145h2v7h-2zM77 194h2v2h-2zM156 193h2v3h-2zM178 156h1v4h-1zM178 188h1v4h-1zM190 193h2v1h-2zM208 145h2v1h-2z"/>
<path fill="#4b0c06" d="M77 152h2v6h-2z"/>
<path fill="#480c06" d="M77 180h2v5h-2zM77 185h2v3h-2z"/>
<path fill="#4e0c06" d="M77 188h2v2h-2zM178 162h1v6h-1zM190 174h2v6h-2z"/>
<path fill="#122106" d="M84 145h2v1h-2z"/>
<path fill="#152406" d="M84 146h2v3h-2zM116 176h2v5h-2z"/>
<path fill="#152706" d="M84 157h2v5h-2zM84 194h2v2h-2z"/>
<path fill="#182a06" d="M84 176h2v5h-2zM113 158h2v3h-2zM116 156h2v4h-2zM116 186h2v3h-2z"/>
<path fill="#091203" d="M84 185h2v3h-2z"/>
<path fill="#0f1803" d="M84 188h2v6h-2zM104 182h2v2h-2zM113 189h2v5h-2z"/>
<path fill="#570c03" d="M93 145h2v3h-2zM208 152h2v2h-2z"/>
<path fill="#3f0903" d="M93 148h2v2h-2zM93 160h2v6h-2zM163 168h2v5h-2zM163 190h2v6h-2zM208 178h2v4h-2zM216 168h1v4h-1zM230 153h2v1h-2zM235 189h2v1h-2zM237 178h2v3h-2z"/>
<path fill="#7b0f06" d="M93 150h2v4h-2z"/>
<path fill="#6c0f03" d="M93 154h2v6h-2zM93 176h2v1h-2zM93 177h2v3h-2zM93 185h2v3h-2z"/>
<path fill="#5d0c03" d="M93 166h2v3h-2z"/>
<path fill="#871206" d="M93 169h2v1h-2z"/>
<path fill="#841206" d="M93 170h2v6h-2z"/>
<path fill="#480903" d="M93 180h2v5h-2zM163 145h2v7h-2zM167 180h2v4h-2zM208 182h2v3h-2zM230 157h2v1h-2zM230 170h2v3h-2zM230 173h2v4h-2zM237 169h2v4h-2z"/>
<path fill="#420903" d="M93 188h2v6h-2zM122 172h2v2h-2zM178 145h1v5h-1zM178 192h1v4h-1zM208 176h2v2h-2zM216 157h1v5h-1zM216 172h1v5h-1zM230 154h2v3h-2z"/>
<path fill="#4e0903" d="M93 194h2v2h-2z"/>
<path fill="#420f06" d="M95 149h2v7h-2zM95 161h2v5h-2zM109 153h2v7h-2zM145 157h2v1h-2z"/>
<path fill="#4e1206" d="M95 156h2v4h-2z"/>
<path fill="#3c0c03" d="M95 160h2v1h-2zM140 184h2v2h-2z"/>
<path fill="#511206" d="M95 178h2v2h-2z"/>
<path fill="#4b1206" d="M95 180h2v4h-2zM95 189h2v7h-2zM109 189h2v5h-2z"/>
<path fill="#300f03" d="M97 145h1v3h-1z"/>
<path fill="#390f06" d="M97 148h1v4h-1zM97 170h1v2h-1zM107 149h2v3h-2zM138 145h2v7h-2zM138 161h2v5h-2zM203 194h2v2h-2zM225 174h1v7h-1zM232 181h2v5h-2zM232 189h2v7h-2z"/>
<path fill="#330f06" d="M97 152h1v5h-1zM97 157h1v3h-1zM97 194h1v2h-1zM203 145h2v4h-2zM203 149h2v4h-2z"/>
<path fill="#3c0f06" d="M97 160h1v5h-1zM210 193h2v1h-2z"/>
<path fill="#2a0c03" d="M97 165h1v3h-1zM203 153h2v3h-2zM203 156h2v1h-2zM203 182h2v7h-2z"/>
<path fill="#210903" d="M97 168h1v2h-1zM97 177h1v4h-1zM107 145h2v1h-2zM107 174h2v3h-2zM109 145h2v1h-2zM138 173h2v4h-2zM145 194h2v2h-2zM179 193h2v3h-2zM201 194h2v2h-2zM219 148h2v4h-2zM219 157h2v4h-2zM219 165h2v1h-2zM219 186h2v7h-2zM219 193h2v3h-2zM225 152h1v6h-1zM225 164h1v6h-1zM232 186h2v3h-2z"/>
<path fill="#360f06" d="M97 172h1v5h-1zM138 181h2v5h-2zM138 186h2v7h-2zM203 164h2v2h-2zM203 189h2v5h-2zM232 148h2v6h-2zM232 170h2v2h-2z"/>
<path fill="#3f1206" d="M97 181h1v4h-1z"/>
<path fill="#240903" d="M97 185h1v3h-1zM109 160h2v5h-2zM109 180h2v2h-2zM145 158h2v4h-2zM147 148h2v5h-2zM207 188h1v5h-1zM212 145h2v5h-2zM212 165h2v3h-2zM212 172h2v2h-2zM225 162h1v2h-1zM225 182h1v4h-1zM225 186h1v7h-1zM232 154h2v6h-2zM234 145h1v4h-1zM234 156h1v6h-1zM234 168h1v6h-1zM234 177h1v4h-1zM239 180h2v6h-2z"/>
<path fill="#1e0903" d="M97 188h1v6h-1zM138 152h2v2h-2zM138 177h2v4h-2zM143 150h2v2h-2zM143 152h2v2h-2zM143 192h2v1h-2zM201 156h2v5h-2zM201 161h2v1h-2zM201 169h2v5h-2zM205 150h2v7h-2zM205 162h2v3h-2zM205 176h2v4h-2zM205 188h2v6h-2zM219 166h2v6h-2zM232 160h2v4h-2zM232 168h2v2h-2z"/>
<path fill="#1e0f03" d="M100 158h2v3h-2zM142 148h1v1h-1zM142 189h1v5h-1z"/>
<path fill="#241206" d="M100 186h2v4h-2zM142 181h1v3h-1z"/>
<path fill="#182403" d="M104 145h2v7h-2zM104 170h2v2h-2zM104 177h2v1h-2z"/>
<path fill="#213006" d="M104 152h2v2h-2zM104 192h2v4h-2z"/>
<path fill="#1b2703" d="M104 154h2v4h-2zM104 161h2v3h-2zM104 188h2v1h-2z"/>
<path fill="#152103" d="M104 158h2v2h-2zM104 172h2v5h-2z"/>
<path fill="#182103" d="M104 160h2v1h-2zM127 146h2v7h-2zM127 153h2v5h-2zM127 169h2v4h-2z"/>
<path fill="#1e2d06" d="M104 164h2v5h-2z"/>
<path fill="#1b2a03" d="M104 169h2v1h-2z"/>
<path fill="#1e2d03" d="M104 178h2v4h-2z"/>
<path fill="#121b03" d="M104 184h2v4h-2zM127 173h2v7h-2z"/>
<path fill="#213306" d="M104 189h2v3h-2z"/>
<path fill="#150606" d="M106 145h1v5h-1zM106 150h1v4h-1z"/>
<path fill="#300c06" d="M107 146h2v3h-2zM207 184h1v4h-1zM212 160h2v5h-2zM232 177h2v4h-2zM239 153h2v1h-2z"/>
<path fill="#1e0603" d="M107 152h2v4h-2zM107 177h2v4h-2zM181 193h2v1h-2zM183 172h2v1h-2zM210 181h2v4h-2zM214 166h2v7h-2zM214 176h2v5h-2zM223 157h2v5h-2zM225 150h1v2h-1zM234 149h1v7h-1z"/>
<path fill="#300c03" d="M107 186h2v7h-2zM107 193h2v3h-2zM210 166h2v3h-2zM210 185h2v4h-2zM210 190h2v3h-2z"/>
<path fill="#3f0f06" d="M109 168h2v5h-2zM109 173h2v7h-2zM145 145h2v1h-2zM145 180h2v2h-2z"/>
<path fill="#451206" d="M109 182h2v2h-2z"/>
<path fill="#2d0c03" d="M109 184h2v2h-2zM138 166h2v7h-2zM232 172h2v5h-2z"/>
<path fill="#1e2106" d="M111 145h2v1h-2zM111 168h2v1h-2zM129 177h2v5h-2z"/>
<path fill="#121203" d="M111 146h2v2h-2zM133 180h1v1h-1zM196 185h2v3h-2z"/>
<path fill="#0c0f03" d="M111 148h2v1h-2zM131 154h2v2h-2zM131 170h2v7h-2zM131 186h2v2h-2zM131 192h2v4h-2z"/>
<path fill="#1b1b06" d="M111 178h2v4h-2zM133 173h1v7h-1zM133 186h1v3h-1z"/>
<path fill="#1e1e06" d="M111 193h2v3h-2zM133 145h1v3h-1zM133 148h1v2h-1zM133 168h1v1h-1zM133 169h1v4h-1z"/>
<path fill="#240f06" d="M115 169h1v1h-1zM115 184h1v5h-1zM151 166h1v3h-1zM154 150h2v2h-2z"/>
<path fill="#181206" d="M120 145h2v1h-2zM120 172h2v6h-2zM120 181h2v1h-2zM125 188h2v1h-2z"/>
<path fill="#150f03" d="M120 157h2v4h-2zM120 182h2v2h-2z"/>
<path fill="#2a0603" d="M122 156h2v1h-2zM122 194h2v2h-2zM183 190h2v3h-2zM190 154h2v3h-2zM217 150h2v2h-2zM237 161h2v1h-2zM237 194h2v2h-2z"/>
<path fill="#2d0603" d="M122 162h2v3h-2zM122 177h2v4h-2zM183 173h2v5h-2zM190 170h2v4h-2zM216 156h1v1h-1zM237 154h2v2h-2zM237 182h2v3h-2z"/>
<path fill="#3c0603" d="M122 165h2v7h-2zM167 178h2v2h-2z"/>
<path fill="#4e0906" d="M122 181h2v4h-2zM237 153h2v1h-2zM237 185h2v4h-2z"/>
<path fill="#300603" d="M122 185h2v3h-2zM163 176h2v2h-2zM178 154h1v2h-1zM190 185h2v4h-2zM208 172h2v1h-2zM217 194h2v2h-2zM235 180h2v4h-2zM235 184h2v5h-2zM237 181h2v1h-2z"/>
<path fill="#450903" d="M122 188h2v6h-2zM167 154h2v2h-2zM167 156h2v2h-2zM167 186h2v7h-2zM208 190h2v3h-2zM217 164h2v6h-2zM235 145h2v7h-2zM237 173h2v4h-2z"/>
<path fill="#0f1503" d="M127 145h2v1h-2zM127 158h2v2h-2zM127 160h2v2h-2zM127 162h2v7h-2z"/>
<path fill="#1b2706" d="M127 180h2v5h-2zM127 185h2v3h-2zM127 188h2v2h-2z"/>
<path fill="#151e03" d="M127 190h2v4h-2z"/>
<path fill="#1e2a06" d="M127 194h2v2h-2z"/>
<path fill="#121803" d="M131 145h2v1h-2z"/>
<path fill="#151b06" d="M131 156h2v1h-2zM131 161h2v7h-2zM131 180h2v6h-2z"/>
<path fill="#1b1b03" d="M133 189h1v7h-1z"/>
<path fill="#151206" d="M134 186h2v7h-2z"/>
<path fill="#270c03" d="M138 154h2v7h-2zM203 166h2v4h-2zM226 160h2v2h-2z"/>
<path fill="#421206" d="M138 193h2v3h-2z"/>
<path fill="#271206" d="M142 149h1v3h-1zM142 194h1v2h-1z"/>
<path fill="#210f03" d="M142 173h1v3h-1z"/>
<path fill="#3c0f03" d="M145 146h2v2h-2zM145 150h2v4h-2z"/>
<path fill="#480f06" d="M145 148h2v1h-2z"/>
<path fill="#481206" d="M145 154h2v3h-2zM145 162h2v7h-2z"/>
<path fill="#3f0c06" d="M147 172h2v1h-2zM147 177h2v7h-2zM181 182h2v4h-2zM181 194h2v2h-2z"/>
<path fill="#270f06" d="M154 158h2v3h-2zM154 161h2v5h-2zM154 177h2v7h-2zM226 149h2v4h-2zM226 190h2v6h-2z"/>
<path fill="#3f0c03" d="M156 145h2v7h-2zM156 185h2v5h-2z"/>
<path fill="#450c03" d="M156 158h2v3h-2zM156 178h2v3h-2z"/>
<path fill="#540f06" d="M156 161h2v4h-2zM156 181h2v4h-2z"/>
<path fill="#5d0f06" d="M156 165h2v5h-2zM178 185h1v3h-1z"/>
<path fill="#631206" d="M156 170h2v3h-2z"/>
<path fill="#3c0903" d="M156 173h2v5h-2zM190 149h2v5h-2zM208 168h2v1h-2zM230 148h2v2h-2zM235 162h2v7h-2zM237 177h2v1h-2z"/>
<path fill="#5a0f06" d="M156 190h2v3h-2zM178 150h1v4h-1z"/>
<path fill="#4e0c03" d="M163 152h2v2h-2z"/>
<path fill="#600f06" d="M163 154h2v3h-2zM163 157h2v4h-2zM163 173h2v3h-2z"/>
<path fill="#5a0c06" d="M163 161h2v3h-2zM237 164h2v5h-2z"/>
<path fill="#570c06" d="M163 164h2v2h-2zM178 176h1v2h-1zM230 193h2v3h-2zM237 156h2v5h-2zM237 162h2v2h-2z"/>
<path fill="#660f06" d="M163 166h2v2h-2z"/>
<path fill="#4b0c03" d="M163 178h2v3h-2zM230 177h2v5h-2z"/>
<path fill="#510c03" d="M163 181h2v5h-2zM208 170h2v2h-2z"/>
<path fill="#630f06" d="M163 186h2v4h-2zM230 158h2v6h-2z"/>
<path fill="#570903" d="M167 145h2v4h-2zM167 158h2v4h-2z"/>
<path fill="#390603" d="M167 149h2v5h-2zM167 168h2v1h-2zM216 150h1v6h-1zM217 152h2v4h-2zM217 162h2v2h-2zM221 148h2v1h-2z"/>
<path fill="#5a0c03" d="M167 162h2v6h-2z"/>
<path fill="#660c06" d="M167 169h2v5h-2zM208 150h2v2h-2z"/>
<path fill="#6c0c06" d="M167 174h2v4h-2z"/>
<path fill="#540903" d="M167 193h2v3h-2z"/>
<path fill="#662706" d="M169 145h1v4h-1z"/>
<path fill="#4b1e03" d="M169 149h1v7h-1z"/>
<path fill="#632706" d="M169 156h1v6h-1z"/>
<path fill="#783006" d="M169 162h1v4h-1z"/>
<path fill="#692706" d="M169 166h1v6h-1z"/>
<path fill="#602403" d="M169 172h1v6h-1z"/>
<path fill="#6c2a06" d="M169 178h1v7h-1z"/>
<path fill="#5a2403" d="M169 185h1v5h-1zM169 193h1v3h-1z"/>
<path fill="#542103" d="M169 190h1v3h-1z"/>
<path fill="#540c06" d="M178 168h1v5h-1z"/>
<path fill="#510c06" d="M178 173h1v3h-1z"/>
<path fill="#570f06" d="M178 184h1v1h-1z"/>
<path fill="#270c06" d="M179 156h2v5h-2zM179 168h2v2h-2zM205 182h2v2h-2zM205 194h2v2h-2z"/>
<path fill="#240906" d="M179 170h2v4h-2zM189 176h1v6h-1zM201 184h2v6h-2z"/>
<path fill="#3c0c06" d="M181 148h2v6h-2zM181 192h2v1h-2zM192 161h2v4h-2zM210 145h2v5h-2z"/>
<path fill="#360c06" d="M181 181h2v1h-2zM207 157h1v1h-1zM207 169h1v1h-1zM210 161h2v5h-2zM212 181h2v5h-2zM214 160h2v6h-2zM223 193h2v3h-2zM228 150h2v7h-2z"/>
<path fill="#360906" d="M183 150h2v6h-2zM183 178h2v7h-2zM183 193h2v3h-2zM223 164h2v6h-2z"/>
<path fill="#270906" d="M189 165h1v3h-1zM239 161h2v1h-2zM239 186h2v6h-2z"/>
<path fill="#240606" d="M189 174h1v2h-1z"/>
<path fill="#210606" d="M189 182h1v7h-1z"/>
<path fill="#4b0906" d="M190 180h2v5h-2zM235 190h2v6h-2z"/>
<path fill="#390906" d="M192 158h2v3h-2z"/>
<path fill="#123903" d="M194 145h2v4h-2z"/>
<path fill="#154506" d="M194 149h2v5h-2z"/>
<path fill="#184e06" d="M194 154h2v2h-2z"/>
<path fill="#154806" d="M194 156h2v5h-2zM194 173h2v4h-2z"/>
<path fill="#0f3303" d="M194 161h2v5h-2z"/>
<path fill="#154b06" d="M194 166h2v6h-2z"/>
<path fill="#0f3903" d="M194 172h2v1h-2z"/>
<path fill="#0f3003" d="M194 177h2v4h-2zM194 186h2v3h-2z"/>
<path fill="#0c2a03" d="M194 181h2v5h-2z"/>
<path fill="#0c2d03" d="M194 189h2v3h-2zM194 192h2v1h-2z"/>
<path fill="#123f03" d="M194 193h2v3h-2z"/>
<path fill="#660c03" d="M199 145h2v7h-2zM199 165h2v1h-2zM199 166h2v2h-2z"/>
<path fill="#5a0903" d="M199 152h2v1h-2zM199 158h2v7h-2z"/>
<path fill="#8a0f06" d="M199 153h2v5h-2z"/>
<path fill="#7b0c03" d="M199 168h2v2h-2z"/>
<path fill="#810f06" d="M199 170h2v7h-2zM199 193h2v1h-2z"/>
<path fill="#750c03" d="M199 177h2v5h-2z"/>
<path fill="#990f06" d="M199 182h2v4h-2z"/>
<path fill="#630c03" d="M199 186h2v7h-2z"/>
<path fill="#870f06" d="M199 194h2v2h-2z"/>
<path fill="#2a0c06" d="M201 149h2v5h-2zM201 154h2v2h-2zM201 181h2v3h-2zM205 158h2v2h-2zM205 180h2v2h-2zM219 172h2v4h-2zM239 154h2v4h-2zM239 158h2v3h-2zM239 169h2v4h-2z"/>
<path fill="#240c03" d="M203 157h2v7h-2zM205 168h2v1h-2zM219 152h2v5h-2zM226 158h2v2h-2zM226 162h2v3h-2z"/>
<path fill="#300f06" d="M203 177h2v5h-2z"/>
<path fill="#2d0c06" d="M205 165h2v3h-2zM239 145h2v3h-2zM239 148h2v5h-2z"/>
<path fill="#690f06" d="M208 146h2v3h-2zM208 154h2v4h-2zM208 158h2v2h-2zM208 161h2v3h-2zM230 150h2v3h-2zM230 182h2v4h-2z"/>
<path fill="#4b0903" d="M208 149h2v1h-2zM216 145h1v5h-1zM216 189h1v7h-1z"/>
<path fill="#510903" d="M208 160h2v1h-2zM208 173h2v3h-2z"/>
<path fill="#600c06" d="M208 164h2v4h-2zM208 185h2v5h-2zM208 193h2v3h-2z"/>
<path fill="#540c03" d="M208 169h2v1h-2z"/>
<path fill="#2d0906" d="M212 168h2v4h-2zM212 192h2v4h-2zM214 148h2v5h-2zM214 153h2v7h-2zM223 192h2v1h-2z"/>
<path fill="#510906" d="M216 162h1v6h-1z"/>
<path fill="#5d0c06" d="M216 177h1v5h-1zM230 145h2v3h-2zM230 186h2v7h-2zM237 189h2v5h-2z"/>
<path fill="#420603" d="M217 145h2v1h-2zM221 152h2v5h-2zM221 166h2v6h-2z"/>
<path fill="#480906" d="M217 156h2v1h-2zM217 182h2v6h-2zM235 157h2v5h-2z"/>
<path fill="#270303" d="M217 174h2v7h-2zM217 188h2v6h-2z"/>
<path fill="#540906" d="M217 181h2v1h-2z"/>
<path fill="#630906" d="M221 145h2v3h-2zM221 157h2v4h-2zM221 174h2v7h-2z"/>
<path fill="#540606" d="M221 149h2v1h-2z"/>
<path fill="#360603" d="M221 165h2v1h-2zM235 176h2v4h-2zM237 145h2v5h-2zM237 150h2v3h-2z"/>
<path fill="#5a0906" d="M221 173h2v1h-2z"/>
<path fill="#510603" d="M221 185h2v1h-2z"/>
<path fill="#2d0f06" d="M226 153h2v5h-2z"/>
</g></g>
<rect x="20.8" y="145" width="220" height="50.6" filter="url(#nz2)" opacity="0.2"/>
<line x1="20.8" y1="144.3" x2="240.8" y2="144.3" stroke="#aaa" stroke-width="1.3" stroke-dasharray="0.9 0.9"/>
<line x1="21.3" y1="145" x2="21.3" y2="195.6" stroke="#000" stroke-width="1"/>
<clipPath id="hc3"><rect x="15.8" y="256.3" width="226.1" height="48.5"/></clipPath>
<g clip-path="url(#hc3)"><g filter="url(#bl)" shape-rendering="crispEdges">
<rect x="13.8" y="254.3" width="230.1" height="52.5" fill="#000"/>
<path fill="#150f06" d="M16 256h2v4h-2zM16 277h2v5h-2zM70 299h1v3h-1zM79 266h1v5h-1zM79 275h1v6h-1zM89 277h2v6h-2zM111 283h2v2h-2zM127 277h2v2h-2zM174 256h2v3h-2zM174 294h2v5h-2zM177 264h2v2h-2zM177 275h2v2h-2zM188 258h2v2h-2zM202 283h2v3h-2z"/>
<path fill="#090603" d="M16 260h2v2h-2zM16 282h2v1h-2zM21 256h2v6h-2zM21 262h2v1h-2zM21 289h2v1h-2zM21 301h2v2h-2zM30 263h2v1h-2zM30 271h2v4h-2zM30 277h2v6h-2zM57 262h2v5h-2zM57 274h2v3h-2zM57 277h2v1h-2zM57 278h2v4h-2zM57 282h2v7h-2zM62 264h2v7h-2zM62 285h2v2h-2zM62 290h2v5h-2zM66 268h2v6h-2zM66 286h2v4h-2zM66 299h2v3h-2zM73 256h2v3h-2zM73 259h2v5h-2zM73 285h2v1h-2zM73 286h2v1h-2zM73 294h2v4h-2zM73 298h2v7h-2zM95 258h2v6h-2zM97 279h1v6h-1zM98 283h2v7h-2zM98 293h2v1h-2zM98 294h2v5h-2zM104 256h2v2h-2zM104 258h2v2h-2zM104 291h2v2h-2zM104 302h2v3h-2zM109 274h2v4h-2zM109 278h2v7h-2zM109 285h2v1h-2zM111 285h2v2h-2zM111 287h2v3h-2zM113 267h1v5h-1zM113 272h1v3h-1zM116 272h2v2h-2zM116 274h2v5h-2zM116 293h2v6h-2zM134 287h2v7h-2zM152 301h2v4h-2zM159 258h2v6h-2zM174 279h2v4h-2zM184 268h2v6h-2zM184 277h2v4h-2z"/>
<path fill="#0f0906" d="M16 262h2v4h-2zM16 283h2v6h-2zM30 256h2v7h-2zM30 301h2v1h-2zM30 302h2v3h-2zM53 266h2v6h-2zM57 258h2v4h-2zM57 294h2v7h-2zM62 262h2v2h-2zM62 274h2v1h-2zM62 275h2v6h-2zM62 281h2v1h-2zM62 283h2v2h-2zM62 287h2v3h-2zM89 267h2v5h-2zM89 298h2v4h-2zM97 274h1v3h-1zM97 293h1v2h-1zM97 295h1v7h-1zM104 260h2v7h-2zM104 281h2v6h-2zM104 293h2v4h-2zM104 297h2v5h-2zM111 263h2v7h-2zM111 290h2v3h-2zM111 297h2v4h-2zM111 301h2v4h-2zM113 259h1v7h-1zM113 279h1v2h-1zM113 291h1v7h-1zM113 298h1v1h-1zM116 270h2v1h-2zM127 274h2v3h-2zM127 279h2v7h-2zM159 256h2v2h-2zM159 264h2v6h-2zM159 277h2v6h-2zM174 303h2v2h-2zM184 266h2v1h-2zM184 267h2v1h-2zM202 267h2v7h-2z"/>
<path fill="#0f0903" d="M16 266h2v6h-2zM16 295h2v6h-2zM48 293h2v1h-2zM79 303h1v2h-1zM82 275h2v2h-2zM82 278h2v4h-2zM82 283h2v2h-2zM97 267h1v4h-1zM97 277h1v2h-1zM172 278h2v7h-2zM188 260h2v7h-2zM188 275h2v6h-2zM188 294h2v5h-2z"/>
<path fill="#0c0903" d="M16 272h2v3h-2zM16 275h2v2h-2zM16 301h2v1h-2zM45 266h1v2h-1zM45 277h1v2h-1zM45 297h1v4h-1zM45 303h1v2h-1zM52 258h1v2h-1zM52 266h1v4h-1zM52 286h1v7h-1zM57 302h2v3h-2zM62 295h2v7h-2zM66 274h2v5h-2zM71 258h2v1h-2zM79 281h1v4h-1zM79 298h1v3h-1zM79 301h1v2h-1zM88 256h1v6h-1zM89 256h2v2h-2zM89 258h2v1h-2zM89 272h2v5h-2zM89 293h2v5h-2zM95 302h2v1h-2zM97 263h1v4h-1zM97 303h1v2h-1zM109 295h2v7h-2zM111 274h2v1h-2zM113 266h1v1h-1zM113 281h1v5h-1zM114 283h2v4h-2zM114 289h2v1h-2zM114 299h2v3h-2zM114 303h2v2h-2zM127 267h2v7h-2zM134 256h2v4h-2zM134 266h2v5h-2zM134 275h2v3h-2zM152 271h2v4h-2zM152 275h2v4h-2zM152 279h2v7h-2zM172 256h2v4h-2zM172 271h2v7h-2zM172 291h2v6h-2zM174 259h2v7h-2zM174 268h2v3h-2zM174 299h2v3h-2zM176 260h1v2h-1zM177 266h2v5h-2zM177 271h2v3h-2zM177 282h2v7h-2zM177 290h2v1h-2zM179 278h2v4h-2zM179 285h2v2h-2zM181 260h2v3h-2zM181 263h2v1h-2zM181 264h2v4h-2zM181 281h2v2h-2zM184 274h2v3h-2zM184 281h2v5h-2zM188 287h2v6h-2zM195 256h2v7h-2zM195 272h2v7h-2zM195 279h2v4h-2zM202 274h2v5h-2zM202 286h2v4h-2zM202 290h2v1h-2zM202 291h2v3h-2zM202 295h2v2h-2zM202 297h2v4h-2zM202 301h2v2h-2zM202 303h2v2h-2z"/>
<path fill="#120c06" d="M16 289h2v6h-2zM16 302h2v1h-2zM16 303h2v2h-2zM30 285h2v2h-2zM53 260h2v2h-2zM53 262h2v2h-2zM53 264h2v2h-2zM53 274h2v1h-2zM53 275h2v6h-2zM53 287h2v3h-2zM57 270h2v2h-2zM57 272h2v2h-2zM57 301h2v1h-2zM62 256h2v6h-2zM66 279h2v7h-2zM66 290h2v3h-2zM66 295h2v4h-2zM79 263h1v3h-1zM79 293h1v5h-1zM82 293h2v2h-2zM89 259h2v4h-2zM89 263h2v1h-2zM89 283h2v7h-2zM89 290h2v3h-2zM97 256h1v7h-1zM97 287h1v6h-1zM104 267h2v1h-2zM104 272h2v6h-2zM109 258h2v4h-2zM109 262h2v1h-2zM111 278h2v5h-2zM113 256h1v3h-1zM113 275h1v4h-1zM113 286h1v5h-1zM113 299h1v4h-1zM114 256h2v7h-2zM114 263h2v5h-2zM114 268h2v4h-2zM114 272h2v6h-2zM114 293h2v1h-2zM114 294h2v5h-2zM114 302h2v1h-2zM116 256h2v7h-2zM116 279h2v4h-2zM127 256h2v7h-2zM127 263h2v4h-2zM127 286h2v4h-2zM127 294h2v4h-2zM127 298h2v7h-2zM159 283h2v2h-2zM172 262h2v1h-2zM172 263h2v7h-2zM172 285h2v6h-2zM172 297h2v6h-2zM174 271h2v1h-2zM174 283h2v6h-2zM184 256h2v7h-2zM184 263h2v3h-2zM184 286h2v4h-2zM188 267h2v1h-2zM202 263h2v4h-2zM202 281h2v2h-2zM202 294h2v1h-2z"/>
<path fill="#122106" d="M18 256h1v4h-1zM18 268h1v4h-1zM18 291h1v3h-1zM32 272h2v6h-2zM32 278h2v7h-2zM138 291h2v7h-2zM206 270h2v7h-2zM206 277h2v6h-2zM206 293h2v2h-2zM206 295h2v3h-2zM235 281h2v5h-2zM235 303h2v2h-2z"/>
<path fill="#182d06" d="M18 260h1v4h-1zM107 267h2v1h-2zM107 271h2v4h-2zM107 287h2v7h-2z"/>
<path fill="#122406" d="M18 264h1v4h-1zM18 278h1v5h-1zM18 283h1v6h-1zM100 271h2v7h-2zM100 279h2v6h-2zM100 291h2v3h-2zM107 270h2v1h-2zM107 282h2v4h-2zM206 256h2v2h-2zM206 258h2v2h-2zM206 303h2v2h-2z"/>
<path fill="#0c1803" d="M18 272h1v6h-1zM18 289h1v2h-1zM18 294h1v7h-1zM41 297h2v5h-2zM100 267h2v4h-2zM107 301h2v2h-2zM107 303h2v2h-2z"/>
<path fill="#0c1503" d="M18 301h1v1h-1zM18 302h1v3h-1zM107 262h2v4h-2zM107 268h2v2h-2zM138 256h2v4h-2zM138 260h2v6h-2zM138 268h2v2h-2zM138 285h2v6h-2zM206 260h2v3h-2zM219 267h1v1h-1zM233 272h2v2h-2zM235 268h2v7h-2zM235 286h2v7h-2z"/>
<path fill="#0f1e06" d="M19 256h2v4h-2zM100 256h2v6h-2zM100 294h2v7h-2zM206 286h2v7h-2zM210 282h1v5h-1zM233 259h2v4h-2z"/>
<path fill="#0f1b06" d="M19 260h2v4h-2zM19 282h2v7h-2zM32 291h2v4h-2zM138 270h2v2h-2zM138 298h2v3h-2zM224 303h2v2h-2zM233 294h2v1h-2zM235 256h2v6h-2zM235 295h2v2h-2zM235 297h2v2h-2zM240 266h2v5h-2z"/>
<path fill="#090f03" d="M19 264h2v4h-2zM19 278h2v4h-2zM19 294h2v7h-2zM19 301h2v4h-2zM141 285h2v1h-2zM141 298h2v4h-2zM149 268h1v3h-1zM149 281h1v2h-1zM149 294h1v7h-1zM149 301h1v4h-1zM150 277h2v4h-2zM168 298h2v5h-2zM183 282h1v3h-1zM204 268h2v4h-2zM210 278h1v4h-1zM224 264h2v2h-2zM224 286h2v5h-2zM224 302h2v1h-2zM231 298h2v4h-2zM231 302h2v3h-2zM240 287h2v6h-2z"/>
<path fill="#0c1506" d="M19 268h2v4h-2zM19 272h2v6h-2zM168 277h2v5h-2zM183 262h1v6h-1zM210 287h1v3h-1zM224 256h2v7h-2zM224 268h2v2h-2zM224 270h2v4h-2zM233 268h2v4h-2zM233 281h2v1h-2zM233 295h2v4h-2zM240 282h2v4h-2zM240 293h2v6h-2z"/>
<path fill="#091203" d="M19 289h2v5h-2zM138 281h2v4h-2zM154 256h2v4h-2zM154 289h2v2h-2zM154 303h2v2h-2zM206 283h2v3h-2zM210 256h1v2h-1zM210 263h1v4h-1zM224 266h2v2h-2zM224 277h2v5h-2zM233 282h2v1h-2zM233 299h2v6h-2zM235 275h2v6h-2zM235 293h2v2h-2zM240 271h2v4h-2z"/>
<path fill="#0c0906" d="M21 263h2v5h-2zM21 272h2v2h-2zM21 283h2v6h-2zM21 290h2v5h-2zM21 303h2v2h-2zM30 275h2v2h-2zM30 287h2v3h-2zM30 293h2v4h-2zM30 297h2v4h-2zM57 267h2v3h-2zM62 271h2v3h-2zM62 282h2v1h-2zM64 291h2v3h-2zM73 268h2v6h-2zM73 281h2v2h-2zM73 283h2v2h-2zM73 287h2v7h-2zM98 260h2v4h-2zM98 271h2v3h-2zM98 275h2v3h-2zM98 290h2v3h-2zM109 263h2v7h-2zM109 270h2v1h-2zM109 271h2v3h-2zM109 286h2v7h-2zM113 303h1v2h-1zM116 263h2v3h-2zM116 266h2v4h-2zM116 271h2v1h-2zM116 283h2v4h-2zM116 287h2v6h-2zM116 302h2v3h-2zM134 260h2v6h-2zM134 278h2v4h-2zM134 301h2v4h-2zM159 270h2v1h-2zM159 271h2v4h-2zM159 297h2v5h-2z"/>
<path fill="#0f0c06" d="M21 268h2v3h-2zM21 271h2v1h-2zM21 274h2v5h-2zM21 295h2v6h-2zM30 283h2v2h-2zM30 290h2v3h-2zM45 256h1v3h-1zM45 274h1v3h-1zM45 279h1v7h-1zM45 290h1v4h-1zM57 256h2v2h-2zM57 289h2v5h-2zM64 256h2v3h-2zM64 266h2v4h-2zM66 256h2v7h-2zM66 263h2v5h-2zM66 293h2v2h-2zM66 302h2v3h-2zM73 264h2v4h-2zM91 277h2v5h-2zM91 303h2v2h-2zM95 295h2v4h-2zM95 303h2v2h-2zM98 256h2v2h-2zM98 274h2v1h-2zM98 278h2v5h-2zM98 299h2v6h-2zM109 256h2v2h-2zM109 293h2v2h-2zM109 302h2v3h-2zM111 275h2v3h-2zM111 293h2v4h-2zM114 278h2v5h-2zM114 287h2v2h-2zM114 290h2v3h-2zM127 290h2v4h-2zM134 271h2v4h-2zM134 282h2v5h-2zM134 294h2v7h-2zM152 256h2v2h-2zM152 258h2v6h-2zM152 266h2v2h-2zM152 286h2v7h-2zM172 270h2v1h-2zM172 303h2v2h-2zM177 289h2v1h-2zM179 256h2v6h-2zM179 287h2v2h-2zM179 294h2v4h-2zM184 295h2v7h-2zM202 279h2v2h-2z"/>
<path fill="#060603" d="M21 279h2v4h-2zM46 270h2v1h-2zM64 275h2v6h-2zM73 274h2v7h-2zM98 258h2v2h-2zM98 264h2v7h-2zM147 282h2v5h-2z"/>
<path fill="#0c1206" d="M23 256h2v3h-2zM23 272h2v6h-2zM23 283h2v7h-2zM23 303h2v2h-2zM129 290h2v5h-2zM140 274h1v3h-1zM140 298h1v7h-1zM141 278h2v5h-2zM141 291h2v2h-2zM149 263h1v5h-1zM149 271h1v7h-1zM149 278h1v3h-1zM149 283h1v4h-1zM150 260h2v3h-2zM168 272h2v3h-2zM168 303h2v2h-2zM183 268h1v4h-1zM183 272h1v2h-1zM183 298h1v7h-1zM211 272h2v3h-2zM231 279h2v6h-2zM231 291h2v2h-2z"/>
<path fill="#0f1206" d="M23 259h2v7h-2zM23 278h2v5h-2zM28 271h2v4h-2zM28 283h2v2h-2zM28 294h2v7h-2zM28 303h2v2h-2zM55 274h2v7h-2zM55 287h2v6h-2zM61 282h1v7h-1zM61 289h1v4h-1zM77 256h2v3h-2zM77 274h2v3h-2zM77 277h2v4h-2zM77 295h2v7h-2zM122 279h1v4h-1zM122 290h1v3h-1zM125 293h2v2h-2zM125 295h2v2h-2zM129 277h2v4h-2zM129 295h2v4h-2zM140 263h1v7h-1zM140 286h1v3h-1zM147 260h2v7h-2zM150 266h2v6h-2zM165 256h2v2h-2zM165 279h2v6h-2zM165 285h2v4h-2zM197 266h2v6h-2zM197 272h2v3h-2zM204 256h2v6h-2zM208 268h2v2h-2zM208 286h2v7h-2zM211 275h2v7h-2zM211 303h2v2h-2zM213 266h2v5h-2zM228 264h1v7h-1zM228 274h1v5h-1z"/>
<path fill="#090903" d="M23 266h2v4h-2zM28 286h2v5h-2zM34 267h2v1h-2zM34 282h2v4h-2zM43 256h2v7h-2zM43 263h2v3h-2zM43 266h2v1h-2zM43 301h2v2h-2zM45 287h1v3h-1zM45 295h1v2h-1zM46 268h2v2h-2zM52 256h1v2h-1zM55 268h2v6h-2zM55 293h2v5h-2zM55 298h2v4h-2zM55 302h2v3h-2zM61 295h1v2h-1zM64 259h2v7h-2zM64 270h2v5h-2zM64 283h2v6h-2zM64 302h2v3h-2zM77 270h2v4h-2zM80 295h2v2h-2zM88 262h1v2h-1zM88 301h1v4h-1zM91 295h2v2h-2zM91 297h2v1h-2zM95 264h2v3h-2zM95 267h2v4h-2zM95 271h2v7h-2zM95 286h2v4h-2zM95 290h2v1h-2zM120 256h2v4h-2zM120 260h2v4h-2zM120 272h2v2h-2zM120 287h2v7h-2zM147 267h2v4h-2zM147 271h2v1h-2zM147 278h2v4h-2zM147 299h2v4h-2zM152 264h2v2h-2zM152 268h2v3h-2zM165 258h2v4h-2zM170 256h2v7h-2zM170 263h2v4h-2zM170 267h2v5h-2zM170 274h2v1h-2zM170 286h2v3h-2zM170 289h2v4h-2zM170 293h2v5h-2zM170 298h2v7h-2zM179 262h2v1h-2zM179 263h2v1h-2zM179 291h2v3h-2zM179 298h2v3h-2zM181 283h2v2h-2z"/>
<path fill="#0f1506" d="M23 270h2v2h-2zM129 258h2v5h-2zM129 263h2v7h-2zM129 270h2v4h-2zM129 286h2v4h-2zM141 262h2v4h-2zM141 272h2v6h-2zM141 283h2v2h-2zM141 286h2v5h-2zM149 256h1v7h-1zM149 287h1v7h-1zM150 263h2v3h-2zM150 281h2v4h-2zM150 294h2v3h-2zM168 282h2v4h-2zM168 289h2v4h-2zM204 275h2v2h-2zM204 293h2v5h-2zM204 303h2v2h-2zM211 282h2v7h-2z"/>
<path fill="#060903" d="M23 290h2v5h-2zM77 282h2v5h-2zM122 264h1v4h-1zM140 270h1v4h-1zM140 283h1v3h-1zM140 289h1v1h-1zM150 256h2v4h-2zM165 294h2v4h-2zM168 293h2v5h-2z"/>
<path fill="#0c0f06" d="M23 295h2v3h-2zM28 275h2v2h-2zM55 286h2v1h-2zM61 270h1v2h-1zM77 263h2v7h-2zM77 294h2v1h-2zM77 302h2v3h-2zM106 259h1v7h-1zM106 271h1v6h-1zM122 256h1v3h-1zM122 259h1v1h-1zM122 283h1v6h-1zM122 299h1v4h-1zM129 256h2v2h-2zM140 277h1v6h-1zM140 290h1v7h-1zM140 297h1v1h-1zM141 293h2v1h-2zM141 294h2v4h-2zM150 272h2v5h-2zM150 285h2v4h-2zM150 289h2v5h-2zM165 272h2v7h-2zM168 270h2v2h-2zM186 256h2v6h-2zM211 256h2v7h-2zM211 270h2v2h-2zM211 295h2v3h-2zM228 293h1v1h-1z"/>
<path fill="#090f06" d="M23 298h2v5h-2zM183 281h1v1h-1zM231 285h2v6h-2z"/>
<path fill="#0f2d06" d="M25 256h2v2h-2zM84 262h2v5h-2zM123 282h2v1h-2zM123 302h2v1h-2zM136 263h2v1h-2zM145 302h2v3h-2zM156 256h2v7h-2z"/>
<path fill="#061503" d="M25 258h2v1h-2zM25 294h2v4h-2zM25 298h2v5h-2z"/>
<path fill="#091e03" d="M25 259h2v3h-2zM25 274h2v1h-2zM84 279h2v6h-2zM93 256h2v6h-2zM123 303h2v2h-2zM136 277h2v5h-2zM156 263h2v4h-2zM156 287h2v3h-2zM190 270h2v7h-2zM226 283h2v2h-2z"/>
<path fill="#0f2a06" d="M25 262h2v6h-2zM25 303h2v2h-2zM27 263h1v5h-1zM27 274h1v7h-1zM27 295h1v2h-1zM102 256h2v4h-2zM102 281h2v2h-2zM102 283h2v7h-2zM136 286h2v1h-2zM136 298h2v5h-2zM145 295h2v6h-2zM156 283h2v4h-2zM215 266h2v6h-2zM215 286h2v4h-2z"/>
<path fill="#091b03" d="M25 268h2v6h-2zM27 256h1v6h-1zM27 262h1v1h-1zM102 267h2v7h-2zM102 297h2v2h-2zM136 264h2v6h-2zM136 293h2v5h-2zM145 270h2v2h-2zM156 301h2v4h-2zM215 279h2v4h-2z"/>
<path fill="#091803" d="M25 275h2v7h-2zM41 291h2v6h-2zM143 264h2v3h-2zM143 271h2v6h-2zM145 301h2v1h-2zM154 275h2v4h-2zM156 267h2v4h-2z"/>
<path fill="#0f3006" d="M25 282h2v7h-2zM25 289h2v5h-2zM136 270h2v7h-2zM145 262h2v1h-2zM145 274h2v7h-2zM145 283h2v4h-2zM190 289h2v5h-2zM226 294h2v1h-2z"/>
<path fill="#0c2106" d="M27 268h1v2h-1zM27 290h1v5h-1zM27 297h1v6h-1zM27 303h1v2h-1z"/>
<path fill="#0c2406" d="M27 270h1v4h-1zM123 297h2v5h-2zM143 302h2v3h-2zM145 263h2v4h-2zM145 287h2v7h-2zM156 271h2v3h-2z"/>
<path fill="#0f2406" d="M27 281h1v2h-1zM143 260h2v4h-2z"/>
<path fill="#0c1e03" d="M27 283h1v4h-1zM37 271h2v7h-2zM37 302h2v1h-2zM39 256h2v7h-2zM39 298h2v3h-2zM102 260h2v4h-2zM102 299h2v3h-2zM143 267h2v4h-2zM143 286h2v7h-2zM143 295h2v7h-2zM161 256h2v3h-2zM161 260h2v3h-2z"/>
<path fill="#0c1b03" d="M27 287h1v2h-1zM37 266h2v4h-2zM39 272h2v7h-2zM41 275h2v2h-2zM161 282h2v1h-2zM163 287h2v2h-2z"/>
<path fill="#122d06" d="M27 289h1v1h-1zM39 263h2v3h-2zM39 297h2v1h-2zM41 258h2v5h-2zM41 263h2v7h-2zM102 264h2v3h-2zM102 302h2v3h-2zM161 274h2v4h-2zM161 283h2v6h-2zM161 289h2v1h-2zM161 302h2v3h-2zM215 258h2v1h-2zM215 272h2v7h-2z"/>
<path fill="#0c0c03" d="M28 256h2v4h-2zM28 260h2v4h-2zM28 285h2v1h-2zM28 291h2v2h-2zM28 293h2v1h-2zM28 302h2v1h-2zM34 256h2v7h-2zM36 256h1v7h-1zM43 303h2v2h-2zM71 259h2v7h-2zM71 266h2v5h-2zM75 260h2v6h-2zM75 278h2v1h-2zM75 295h2v7h-2zM80 260h2v2h-2zM120 270h2v2h-2zM120 301h2v4h-2zM122 268h1v3h-1zM122 271h1v3h-1zM125 260h2v4h-2zM125 271h2v6h-2zM125 287h2v2h-2zM125 297h2v1h-2zM158 256h1v3h-1zM158 289h1v4h-1zM176 256h1v2h-1zM176 302h1v3h-1zM179 282h2v3h-2zM181 274h2v7h-2zM186 275h2v2h-2zM186 277h2v6h-2zM186 289h2v6h-2zM186 295h2v4h-2zM195 263h2v3h-2zM195 266h2v6h-2zM195 287h2v4h-2zM195 301h2v4h-2zM197 259h2v5h-2zM197 275h2v6h-2zM201 262h1v1h-1zM201 295h1v3h-1zM201 298h1v5h-1zM208 293h2v1h-2zM213 272h2v2h-2zM213 290h2v3h-2zM222 281h2v1h-2zM228 294h1v7h-1z"/>
<path fill="#0f0f06" d="M28 264h2v2h-2zM28 281h2v2h-2zM28 301h2v1h-2zM34 263h2v4h-2zM34 268h2v6h-2zM34 286h2v4h-2zM34 290h2v3h-2zM36 289h1v1h-1zM36 302h1v3h-1zM43 270h2v1h-2zM43 271h2v6h-2zM43 279h2v7h-2zM43 286h2v7h-2zM43 295h2v4h-2zM45 264h1v2h-1zM45 286h1v1h-1zM46 256h2v6h-2zM46 275h2v2h-2zM46 277h2v4h-2zM55 256h2v7h-2zM55 263h2v1h-2zM55 281h2v5h-2zM61 256h1v7h-1zM61 278h1v4h-1zM64 281h2v2h-2zM64 289h2v2h-2zM71 302h2v3h-2zM80 289h2v6h-2zM80 297h2v6h-2zM88 274h1v4h-1zM88 278h1v7h-1zM91 282h2v3h-2zM91 289h2v6h-2zM95 301h2v1h-2zM106 293h1v4h-1zM106 297h1v5h-1zM120 264h2v6h-2zM120 274h2v7h-2zM120 294h2v7h-2zM125 281h2v1h-2zM147 272h2v6h-2zM147 303h2v2h-2zM158 259h1v7h-1zM186 262h2v5h-2zM197 294h2v4h-2zM201 263h1v5h-1z"/>
<path fill="#121506" d="M28 266h2v5h-2zM36 301h1v1h-1zM122 289h1v1h-1zM125 264h2v7h-2zM186 283h2v4h-2zM201 283h1v7h-1zM208 301h2v4h-2zM228 271h1v3h-1zM228 301h1v4h-1z"/>
<path fill="#151806" d="M28 277h2v4h-2zM36 263h1v5h-1zM36 268h1v6h-1zM125 283h2v2h-2zM197 264h2v2h-2zM201 290h1v4h-1zM208 256h2v7h-2zM208 277h2v5h-2zM213 274h2v3h-2zM213 283h2v7h-2zM213 303h2v2h-2zM228 290h1v3h-1zM237 290h1v3h-1z"/>
<path fill="#0c0606" d="M30 264h2v7h-2z"/>
<path fill="#0f1803" d="M32 256h2v2h-2zM32 258h2v2h-2zM219 279h1v6h-1z"/>
<path fill="#152406" d="M32 260h2v3h-2zM32 266h2v4h-2zM32 298h2v4h-2zM138 275h2v6h-2zM219 268h1v7h-1zM219 277h1v2h-1z"/>
<path fill="#182706" d="M32 263h2v3h-2zM32 285h2v6h-2z"/>
<path fill="#121e06" d="M32 270h2v2h-2zM32 302h2v1h-2zM138 272h2v3h-2zM138 301h2v4h-2zM206 298h2v5h-2zM219 303h1v2h-1zM233 263h2v4h-2zM235 299h2v4h-2zM240 256h2v7h-2z"/>
<path fill="#0f1b03" d="M32 295h2v3h-2zM107 256h2v6h-2zM107 294h2v7h-2z"/>
<path fill="#152106" d="M32 303h2v2h-2z"/>
<path fill="#121206" d="M34 274h2v3h-2zM34 293h2v4h-2zM34 297h2v1h-2zM34 298h2v7h-2zM36 279h1v6h-1zM36 294h1v4h-1zM36 298h1v3h-1zM43 267h2v3h-2zM43 277h2v2h-2zM43 293h2v2h-2zM43 299h2v2h-2zM61 263h1v7h-1zM61 274h1v4h-1zM71 299h2v3h-2zM75 279h2v6h-2zM75 285h2v2h-2zM75 287h2v4h-2zM80 267h2v5h-2zM80 277h2v6h-2zM80 287h2v2h-2zM88 285h1v6h-1zM91 263h2v7h-2zM91 285h2v4h-2zM125 282h2v1h-2zM170 282h2v4h-2zM179 270h2v1h-2zM179 271h2v3h-2zM186 270h2v5h-2zM186 287h2v2h-2zM197 256h2v3h-2zM197 281h2v1h-2zM197 287h2v7h-2zM197 298h2v7h-2zM201 260h1v2h-1zM201 272h1v7h-1zM201 294h1v1h-1zM213 293h2v4h-2zM213 297h2v6h-2z"/>
<path fill="#0f0f03" d="M34 277h2v5h-2zM75 272h2v6h-2zM80 272h2v5h-2zM158 275h1v7h-1zM195 283h2v4h-2zM208 270h2v7h-2z"/>
<path fill="#151506" d="M36 274h1v5h-1zM36 290h1v4h-1zM75 256h2v4h-2zM75 271h2v1h-2zM75 294h2v1h-2zM80 283h2v4h-2zM80 303h2v2h-2zM125 278h2v3h-2zM125 289h2v4h-2zM125 298h2v7h-2zM195 295h2v6h-2zM197 282h2v5h-2zM201 268h1v4h-1zM201 279h1v4h-1z"/>
<path fill="#090c03" d="M36 285h1v4h-1zM61 272h1v2h-1zM77 259h2v4h-2zM77 281h2v1h-2zM77 287h2v7h-2zM122 260h1v4h-1zM122 274h1v5h-1zM122 293h1v6h-1zM122 303h1v2h-1zM125 277h2v1h-2zM125 285h2v2h-2zM129 281h2v1h-2zM129 299h2v6h-2zM141 256h2v6h-2zM141 266h2v1h-2zM141 267h2v5h-2zM141 302h2v3h-2zM150 297h2v6h-2zM150 303h2v2h-2zM165 262h2v4h-2zM165 266h2v6h-2zM165 289h2v5h-2zM168 256h2v6h-2zM168 262h2v5h-2zM168 267h2v3h-2zM168 275h2v2h-2zM168 286h2v3h-2zM183 274h1v5h-1zM183 279h1v2h-1zM183 293h1v5h-1zM186 267h2v3h-2zM186 299h2v6h-2zM204 262h2v6h-2zM204 277h2v5h-2zM204 298h2v5h-2zM208 263h2v5h-2zM208 282h2v4h-2zM211 263h2v7h-2zM211 289h2v5h-2zM211 298h2v5h-2zM222 272h2v2h-2zM228 256h1v2h-1zM228 258h1v6h-1zM228 286h1v1h-1zM228 287h1v3h-1zM231 256h2v6h-2zM231 262h2v4h-2zM233 283h2v6h-2z"/>
<path fill="#153606" d="M37 256h2v2h-2zM37 289h2v6h-2zM39 294h2v3h-2zM163 272h2v5h-2zM163 277h2v5h-2z"/>
<path fill="#0f2706" d="M37 258h2v5h-2zM37 285h2v4h-2zM143 256h2v4h-2zM161 259h2v1h-2zM161 278h2v3h-2zM161 281h2v1h-2z"/>
<path fill="#183606" d="M37 263h2v3h-2zM39 267h2v4h-2zM39 271h2v1h-2zM39 279h2v2h-2z"/>
<path fill="#153006" d="M37 270h2v1h-2zM37 303h2v2h-2zM39 281h2v1h-2zM41 270h2v5h-2z"/>
<path fill="#153306" d="M37 278h2v3h-2zM39 293h2v1h-2zM41 278h2v7h-2zM41 285h2v6h-2zM143 293h2v2h-2zM161 301h2v1h-2z"/>
<path fill="#0c2103" d="M37 281h2v4h-2zM41 302h2v3h-2zM86 301h2v2h-2zM123 283h2v7h-2zM136 287h2v6h-2zM156 279h2v4h-2zM163 289h2v1h-2zM163 290h2v7h-2zM215 260h2v4h-2zM215 264h2v2h-2zM215 283h2v3h-2zM215 294h2v3h-2zM229 266h2v5h-2zM229 297h2v5h-2z"/>
<path fill="#0f2103" d="M37 295h2v7h-2zM39 303h2v2h-2zM41 277h2v1h-2zM161 263h2v7h-2z"/>
<path fill="#123006" d="M39 266h2v1h-2zM102 274h2v7h-2zM102 290h2v7h-2zM123 256h2v7h-2zM123 272h2v6h-2zM143 281h2v5h-2zM161 270h2v4h-2zM161 295h2v6h-2zM163 266h2v6h-2zM215 297h2v5h-2z"/>
<path fill="#122a06" d="M39 282h2v1h-2zM39 283h2v4h-2zM41 256h2v2h-2zM143 277h2v2h-2zM161 290h2v5h-2z"/>
<path fill="#183906" d="M39 287h2v6h-2zM163 282h2v5h-2z"/>
<path fill="#122706" d="M39 301h2v2h-2z"/>
<path fill="#120f06" d="M45 259h1v5h-1zM52 293h1v6h-1zM52 299h1v6h-1zM71 256h2v2h-2zM75 266h2v5h-2zM79 256h1v7h-1zM79 271h1v4h-1zM79 285h1v1h-1zM95 256h2v2h-2zM111 256h2v7h-2zM111 270h2v4h-2zM152 293h2v4h-2zM152 297h2v4h-2zM158 268h1v7h-1zM176 258h1v2h-1zM176 266h1v5h-1zM176 277h1v6h-1zM176 291h1v3h-1zM176 301h1v1h-1zM177 274h2v1h-2zM179 264h2v6h-2zM179 274h2v4h-2zM179 289h2v2h-2zM179 301h2v4h-2zM181 256h2v2h-2zM181 259h2v1h-2zM181 268h2v6h-2zM181 291h2v3h-2z"/>
<path fill="#0c0c06" d="M45 268h1v6h-1zM45 294h1v1h-1zM45 301h1v2h-1zM46 271h2v4h-2zM46 283h2v3h-2zM46 286h2v7h-2zM46 293h2v6h-2zM46 299h2v6h-2zM55 264h2v4h-2zM61 293h1v2h-1zM61 297h1v4h-1zM61 301h1v4h-1zM64 294h2v1h-2zM64 295h2v7h-2zM95 278h2v4h-2zM95 282h2v4h-2zM95 291h2v4h-2zM95 299h2v2h-2zM106 256h1v3h-1zM106 266h1v5h-1zM106 277h1v2h-1zM106 279h1v6h-1zM106 285h1v4h-1zM106 289h1v4h-1zM120 281h2v6h-2zM147 256h2v4h-2zM147 287h2v7h-2zM147 294h2v5h-2zM170 272h2v2h-2zM170 275h2v7h-2z"/>
<path fill="#090906" d="M46 262h2v1h-2zM46 263h2v5h-2zM46 281h2v2h-2z"/>
<path fill="#180f06" d="M48 256h2v7h-2zM48 285h2v5h-2zM48 301h2v4h-2zM82 291h2v2h-2zM82 295h2v7h-2zM172 260h2v2h-2zM188 256h2v2h-2zM188 272h2v3h-2zM188 281h2v4h-2zM188 293h2v1h-2zM188 299h2v6h-2z"/>
<path fill="#1b1206" d="M48 263h2v3h-2zM50 256h2v3h-2zM50 275h2v3h-2zM50 301h2v4h-2z"/>
<path fill="#1e1206" d="M48 266h2v5h-2z"/>
<path fill="#211506" d="M48 271h2v3h-2z"/>
<path fill="#1e1506" d="M48 274h2v4h-2zM48 290h2v1h-2zM50 259h2v7h-2zM50 278h2v4h-2zM50 299h2v2h-2z"/>
<path fill="#120c03" d="M48 278h2v7h-2zM70 256h1v3h-1z"/>
<path fill="#150c03" d="M48 291h2v2h-2zM48 294h2v7h-2z"/>
<path fill="#241806" d="M50 266h2v4h-2zM50 270h2v2h-2zM50 272h2v3h-2z"/>
<path fill="#180f03" d="M50 282h2v5h-2zM220 303h2v2h-2z"/>
<path fill="#150f03" d="M50 287h2v7h-2z"/>
<path fill="#211806" d="M50 294h2v5h-2zM70 295h1v4h-1z"/>
<path fill="#151206" d="M52 260h1v2h-1zM52 262h1v4h-1zM52 274h1v7h-1zM52 281h1v5h-1zM71 271h2v6h-2zM71 282h2v7h-2zM71 289h2v4h-2zM71 293h2v4h-2zM71 297h2v2h-2zM75 291h2v2h-2zM75 302h2v3h-2zM88 264h1v4h-1zM88 268h1v6h-1zM88 291h1v6h-1zM91 256h2v7h-2zM91 270h2v7h-2zM91 298h2v5h-2zM158 266h1v2h-1zM158 282h1v3h-1zM158 285h1v4h-1zM158 293h1v2h-1zM158 295h1v2h-1zM176 262h1v4h-1zM176 283h1v2h-1zM181 285h2v6h-2zM181 294h2v5h-2z"/>
<path fill="#0f0c03" d="M52 270h1v4h-1zM70 302h1v3h-1zM71 277h2v5h-2zM75 293h2v1h-2zM79 286h1v7h-1zM88 297h1v4h-1zM158 302h1v3h-1zM176 285h1v1h-1zM177 263h2v1h-2zM177 277h2v5h-2zM181 258h2v1h-2zM181 299h2v2h-2zM181 301h2v4h-2zM195 291h2v4h-2z"/>
<path fill="#150c06" d="M53 256h2v4h-2zM53 281h2v6h-2zM53 290h2v4h-2zM53 301h2v4h-2zM82 267h2v3h-2zM82 282h2v1h-2zM82 285h2v2h-2zM82 302h2v3h-2zM89 264h2v3h-2zM174 266h2v2h-2zM174 302h2v1h-2zM184 302h2v3h-2zM188 285h2v2h-2z"/>
<path fill="#0c0603" d="M53 272h2v2h-2zM53 294h2v7h-2zM62 302h2v3h-2zM82 263h2v4h-2zM82 270h2v5h-2zM82 287h2v4h-2zM89 302h2v3h-2zM97 271h1v3h-1zM97 285h1v2h-1zM97 302h1v1h-1zM104 268h2v2h-2zM104 287h2v4h-2zM116 299h2v3h-2zM159 275h2v2h-2zM159 285h2v6h-2zM159 291h2v6h-2zM159 302h2v3h-2zM174 272h2v7h-2zM174 289h2v5h-2zM184 290h2v5h-2zM188 268h2v4h-2zM202 256h2v7h-2z"/>
<path fill="#0f0603" d="M59 256h2v3h-2zM68 267h2v1h-2zM68 271h2v4h-2zM68 286h2v4h-2zM68 295h2v4h-2z"/>
<path fill="#150903" d="M59 259h2v1h-2zM132 294h2v3h-2zM132 297h2v2h-2z"/>
<path fill="#270f06" d="M59 260h2v2h-2zM131 263h1v3h-1zM131 286h1v3h-1zM131 295h1v4h-1zM132 264h2v3h-2z"/>
<path fill="#240c06" d="M59 262h2v2h-2z"/>
<path fill="#1b0c06" d="M59 264h2v6h-2zM68 256h2v4h-2zM68 270h2v1h-2zM68 299h2v6h-2z"/>
<path fill="#1b0906" d="M59 270h2v5h-2zM59 285h2v6h-2z"/>
<path fill="#240f06" d="M59 275h2v2h-2zM131 267h1v7h-1zM131 281h1v4h-1z"/>
<path fill="#1e0c06" d="M59 277h2v6h-2zM59 291h2v2h-2zM59 295h2v7h-2zM68 268h2v2h-2zM68 290h2v3h-2z"/>
<path fill="#180903" d="M59 283h2v2h-2zM59 293h2v2h-2zM131 274h1v1h-1zM131 285h1v1h-1zM131 299h1v6h-1zM132 263h2v1h-2z"/>
<path fill="#210c06" d="M59 302h2v3h-2zM131 256h1v7h-1z"/>
<path fill="#120603" d="M68 260h2v7h-2zM68 285h2v1h-2zM132 267h2v7h-2z"/>
<path fill="#150906" d="M68 275h2v2h-2z"/>
<path fill="#120906" d="M68 277h2v2h-2zM82 256h2v7h-2zM82 277h2v1h-2zM104 270h2v2h-2zM104 278h2v3h-2z"/>
<path fill="#120903" d="M68 279h2v2h-2z"/>
<path fill="#180906" d="M68 281h2v4h-2zM68 293h2v2h-2z"/>
<path fill="#181206" d="M70 259h1v5h-1zM70 264h1v4h-1zM176 271h1v6h-1zM176 286h1v5h-1zM177 256h2v7h-2zM177 291h2v7h-2zM177 298h2v4h-2zM177 302h2v3h-2z"/>
<path fill="#1e1806" d="M70 268h1v7h-1z"/>
<path fill="#1b1506" d="M70 275h1v7h-1zM70 282h1v7h-1zM70 289h1v6h-1z"/>
<path fill="#0c0f03" d="M80 256h2v4h-2zM80 262h2v5h-2zM125 256h2v4h-2zM129 274h2v3h-2zM129 282h2v4h-2zM201 256h1v4h-1zM201 303h1v2h-1zM208 294h2v7h-2zM211 294h2v1h-2zM213 271h2v1h-2zM222 274h2v7h-2zM222 297h2v4h-2zM237 279h1v7h-1zM237 293h1v2h-1z"/>
<path fill="#0c2703" d="M84 256h2v6h-2zM238 303h2v2h-2z"/>
<path fill="#0c2403" d="M84 267h2v1h-2zM84 303h2v2h-2zM86 258h2v5h-2zM93 277h2v4h-2zM93 283h2v7h-2zM123 263h2v7h-2zM156 274h2v4h-2zM156 297h2v4h-2zM229 258h2v4h-2zM229 271h2v7h-2zM229 285h2v1h-2z"/>
<path fill="#123906" d="M84 268h2v2h-2zM84 301h2v2h-2zM93 262h2v5h-2z"/>
<path fill="#123306" d="M84 270h2v4h-2zM86 285h2v6h-2zM136 256h2v7h-2zM143 279h2v2h-2zM145 256h2v6h-2zM156 278h2v1h-2zM156 290h2v7h-2zM215 290h2v4h-2zM229 262h2v4h-2z"/>
<path fill="#0f2a03" d="M84 274h2v4h-2zM84 287h2v7h-2zM86 263h2v4h-2zM229 302h2v3h-2z"/>
<path fill="#0c2a03" d="M84 278h2v1h-2zM93 294h2v7h-2zM226 298h2v7h-2zM238 272h2v6h-2z"/>
<path fill="#153f06" d="M84 285h2v2h-2z"/>
<path fill="#153c06" d="M84 294h2v7h-2z"/>
<path fill="#154206" d="M86 256h2v2h-2zM86 274h2v7h-2zM93 274h2v3h-2zM93 281h2v1h-2z"/>
<path fill="#184806" d="M86 267h2v7h-2zM86 297h2v1h-2z"/>
<path fill="#184b06" d="M86 281h2v4h-2z"/>
<path fill="#0f2d03" d="M86 291h2v3h-2zM86 294h2v3h-2zM229 278h2v7h-2zM229 293h2v4h-2z"/>
<path fill="#123606" d="M86 298h2v3h-2zM93 282h2v1h-2zM123 290h2v7h-2zM136 282h2v4h-2zM136 303h2v2h-2zM145 267h2v3h-2z"/>
<path fill="#123c06" d="M86 303h2v2h-2zM229 256h2v2h-2zM238 266h2v6h-2z"/>
<path fill="#092103" d="M93 267h2v7h-2zM145 272h2v2h-2zM226 267h2v5h-2zM238 256h2v3h-2zM238 285h2v5h-2z"/>
<path fill="#154806" d="M93 290h2v4h-2z"/>
<path fill="#0f3306" d="M93 301h2v4h-2zM145 281h2v2h-2zM229 286h2v7h-2zM238 302h2v1h-2z"/>
<path fill="#152706" d="M100 262h2v5h-2zM100 301h2v4h-2zM138 266h2v2h-2z"/>
<path fill="#091503" d="M100 278h2v1h-2zM154 272h2v2h-2z"/>
<path fill="#0f2106" d="M100 285h2v6h-2zM154 260h2v4h-2zM154 291h2v4h-2zM154 295h2v2h-2z"/>
<path fill="#090c06" d="M106 302h1v3h-1zM140 256h1v3h-1zM140 259h1v1h-1zM140 260h1v3h-1zM165 298h2v5h-2zM165 303h2v2h-2z"/>
<path fill="#152a06" d="M107 266h2v1h-2zM107 281h2v1h-2z"/>
<path fill="#0f1e03" d="M107 275h2v6h-2z"/>
<path fill="#183006" d="M107 286h2v1h-2z"/>
<path fill="#124806" d="M118 256h2v3h-2z"/>
<path fill="#0c2d03" d="M118 259h2v1h-2zM118 260h2v4h-2zM118 298h2v3h-2z"/>
<path fill="#0f3603" d="M118 264h2v3h-2z"/>
<path fill="#155106" d="M118 267h2v4h-2zM118 271h2v3h-2zM118 275h2v7h-2zM118 287h2v6h-2z"/>
<path fill="#123f06" d="M118 274h2v1h-2zM226 262h2v5h-2zM226 290h2v4h-2zM226 295h2v3h-2zM238 290h2v7h-2z"/>
<path fill="#185706" d="M118 282h2v4h-2zM118 293h2v5h-2z"/>
<path fill="#155406" d="M118 286h2v1h-2z"/>
<path fill="#155706" d="M118 301h2v4h-2z"/>
<path fill="#0c2706" d="M123 270h2v2h-2zM190 282h2v4h-2z"/>
<path fill="#153906" d="M123 278h2v4h-2zM215 302h2v3h-2z"/>
<path fill="#1b0c03" d="M131 266h1v1h-1zM131 275h1v2h-1z"/>
<path fill="#1e0c03" d="M131 277h1v4h-1zM131 289h1v5h-1zM131 294h1v1h-1z"/>
<path fill="#1e0906" d="M132 256h2v7h-2zM132 291h2v3h-2zM132 303h2v2h-2z"/>
<path fill="#1b0903" d="M132 274h2v7h-2zM132 285h2v6h-2zM193 283h2v6h-2z"/>
<path fill="#150603" d="M132 281h2v4h-2zM132 299h2v4h-2z"/>
<path fill="#0c2a06" d="M145 294h2v1h-2zM190 263h2v3h-2zM190 266h2v4h-2zM190 286h2v3h-2zM190 294h2v7h-2z"/>
<path fill="#0c1e06" d="M154 264h2v6h-2zM154 270h2v2h-2zM154 274h2v1h-2zM154 286h2v3h-2z"/>
<path fill="#060f03" d="M154 279h2v7h-2zM210 293h1v4h-1z"/>
<path fill="#0c1806" d="M154 297h2v6h-2zM206 263h2v7h-2zM210 274h1v4h-1zM210 297h1v4h-1zM224 291h2v4h-2zM224 295h2v7h-2zM235 262h2v6h-2z"/>
<path fill="#181806" d="M158 297h1v5h-1z"/>
<path fill="#183c06" d="M163 256h2v4h-2zM163 260h2v6h-2zM163 303h2v2h-2z"/>
<path fill="#0f2703" d="M163 297h2v6h-2zM215 256h2v2h-2z"/>
<path fill="#0c4806" d="M167 256h1v6h-1z"/>
<path fill="#092d03" d="M167 262h1v5h-1zM199 299h2v4h-2z"/>
<path fill="#0f5a06" d="M167 267h1v5h-1zM167 283h1v3h-1z"/>
<path fill="#0f4e06" d="M167 272h1v6h-1z"/>
<path fill="#0c4206" d="M167 278h1v5h-1z"/>
<path fill="#093903" d="M167 286h1v3h-1z"/>
<path fill="#0f5106" d="M167 289h1v5h-1z"/>
<path fill="#093003" d="M167 294h1v7h-1z"/>
<path fill="#062a03" d="M167 301h1v4h-1z"/>
<path fill="#181506" d="M176 294h1v7h-1z"/>
<path fill="#060c03" d="M183 256h1v6h-1zM183 285h1v2h-1zM183 287h1v3h-1zM183 290h1v3h-1zM231 272h2v7h-2z"/>
<path fill="#0c2d06" d="M190 256h2v7h-2zM190 277h2v5h-2zM190 301h2v4h-2zM217 297h2v1h-2z"/>
<path fill="#0c3606" d="M192 256h1v4h-1z"/>
<path fill="#092703" d="M192 260h1v4h-1zM217 264h2v7h-2z"/>
<path fill="#092d06" d="M192 264h1v3h-1zM192 267h1v1h-1z"/>
<path fill="#0c3c06" d="M192 268h1v6h-1zM192 291h1v7h-1zM192 298h1v7h-1z"/>
<path fill="#0c3306" d="M192 274h1v7h-1zM217 290h2v7h-2z"/>
<path fill="#092403" d="M192 281h1v4h-1zM217 256h2v3h-2z"/>
<path fill="#061e03" d="M192 285h1v6h-1z"/>
<path fill="#210c03" d="M193 256h2v4h-2zM193 271h2v1h-2z"/>
<path fill="#331206" d="M193 260h2v4h-2zM193 264h2v7h-2z"/>
<path fill="#391506" d="M193 272h2v5h-2zM193 279h2v4h-2z"/>
<path fill="#2d1206" d="M193 277h2v2h-2z"/>
<path fill="#361506" d="M193 289h2v6h-2zM193 295h2v6h-2z"/>
<path fill="#2a0f06" d="M193 301h2v4h-2z"/>
<path fill="#156906" d="M199 256h2v7h-2zM199 283h2v2h-2z"/>
<path fill="#156306" d="M199 263h2v1h-2zM199 272h2v7h-2zM199 285h2v5h-2z"/>
<path fill="#156606" d="M199 264h2v3h-2z"/>
<path fill="#0f4506" d="M199 267h2v4h-2z"/>
<path fill="#0c3903" d="M199 271h2v1h-2zM199 279h2v4h-2zM199 293h2v6h-2z"/>
<path fill="#0c3603" d="M199 290h2v3h-2z"/>
<path fill="#125d06" d="M199 303h2v2h-2z"/>
<path fill="#121806" d="M204 272h2v3h-2zM204 289h2v4h-2zM222 286h2v4h-2zM228 279h1v7h-1zM237 256h1v3h-1zM237 268h1v7h-1zM237 286h1v4h-1z"/>
<path fill="#0f1806" d="M204 282h2v7h-2zM219 289h1v2h-1zM224 263h2v1h-2zM224 274h2v3h-2zM231 266h2v6h-2zM233 267h2v1h-2zM240 275h2v7h-2zM240 286h2v1h-2z"/>
<path fill="#091506" d="M210 258h1v4h-1zM210 267h1v7h-1zM210 302h1v3h-1z"/>
<path fill="#0c1b06" d="M210 262h1v1h-1zM210 290h1v3h-1z"/>
<path fill="#091206" d="M210 301h1v1h-1zM224 282h2v4h-2zM231 293h2v5h-2z"/>
<path fill="#0f1203" d="M213 256h2v6h-2zM213 262h2v4h-2zM222 256h2v4h-2zM222 266h2v1h-2zM237 259h1v3h-1zM237 275h1v3h-1zM237 278h1v1h-1z"/>
<path fill="#181b06" d="M213 277h2v6h-2zM222 260h2v6h-2zM222 267h2v5h-2zM222 290h2v7h-2zM222 301h2v4h-2z"/>
<path fill="#0f2403" d="M215 259h2v1h-2z"/>
<path fill="#0f3f06" d="M217 259h2v5h-2z"/>
<path fill="#0f3c06" d="M217 271h2v7h-2z"/>
<path fill="#0c3006" d="M217 278h2v4h-2zM217 299h2v3h-2zM226 274h2v1h-2z"/>
<path fill="#0f3906" d="M217 282h2v7h-2z"/>
<path fill="#124506" d="M217 289h2v1h-2zM226 256h2v6h-2zM226 277h2v6h-2zM226 285h2v5h-2z"/>
<path fill="#124206" d="M217 298h2v1h-2zM217 302h2v3h-2zM226 275h2v2h-2zM238 297h2v5h-2z"/>
<path fill="#121b06" d="M219 256h1v2h-1zM219 263h1v4h-1z"/>
<path fill="#0c1203" d="M219 258h1v1h-1zM219 259h1v4h-1zM219 285h1v4h-1zM219 291h1v6h-1zM233 256h2v3h-2zM233 274h2v7h-2zM233 289h2v5h-2zM240 263h2v3h-2zM240 299h2v6h-2z"/>
<path fill="#0f1503" d="M219 275h1v2h-1z"/>
<path fill="#182406" d="M219 297h1v6h-1z"/>
<path fill="#301b06" d="M220 256h2v3h-2z"/>
<path fill="#1e1203" d="M220 259h2v5h-2zM220 272h2v6h-2z"/>
<path fill="#180c03" d="M220 264h2v2h-2z"/>
<path fill="#331b06" d="M220 266h2v1h-2z"/>
<path fill="#1b0f03" d="M220 267h2v3h-2z"/>
<path fill="#1e0f03" d="M220 270h2v2h-2zM220 278h2v5h-2zM220 283h2v7h-2z"/>
<path fill="#241206" d="M220 290h2v7h-2z"/>
<path fill="#361b06" d="M220 297h2v6h-2z"/>
<path fill="#151b06" d="M222 282h2v4h-2zM237 262h1v6h-1zM237 295h1v7h-1zM237 302h1v3h-1z"/>
<path fill="#0f3606" d="M226 272h2v2h-2zM238 278h2v7h-2z"/>
<path fill="#154506" d="M238 259h2v7h-2z"/>
</g></g>
<rect x="15.8" y="256.3" width="226.1" height="48.5" filter="url(#nz3)" opacity="0.2"/>
<line x1="15.8" y1="255.60000000000002" x2="241.9" y2="255.60000000000002" stroke="#aaa" stroke-width="1.3" stroke-dasharray="0.9 0.9"/>
<line x1="16.3" y1="256.3" x2="16.3" y2="304.8" stroke="#000" stroke-width="1"/>
<path d="M25.9 114.8H27.3V120.4H25.9ZM27.6 114.8H29V120H27.6ZM29.3 114.8H30.7V120.4H29.3ZM31 114.8H32.4V120.9H31ZM32.8 114.8H34.3V125.6H32.8ZM34.7 114.8H36.2V119.6H34.7ZM36.5 114.8H37.9V118.3H36.5ZM38.2 114.1H39.8V114.8H38.2ZM40.1 106.4H41.7V114.8H40.1ZM42 114.8H43.4V119.6H42ZM43.7 114.8H45.1V118.3H43.7ZM45.4 114.8H46.8V120.4H45.4ZM47.2 114.8H48.6V121.7H47.2ZM48.9 114.8H50.3V125.6H48.9ZM50.6 114.8H52V122.6H50.6ZM52.3 114.8H53.7V120.9H52.3ZM54 114.8H55.4V118.3H54ZM55.8 112.4H57.3V114.8H55.8ZM57.7 114.8H59.2V126.4H57.7ZM59.5 114.8H60.9V121.3H59.5ZM61.2 114.8H62.6V122.6H61.2ZM62.9 114.8H64.3V120.4H62.9ZM64.6 114.8H66V129.8H64.6ZM66.3 114.8H67.7V124.7H66.3ZM68 114.8H69.4V121.3H68ZM69.7 114.8H71.1V122.1H69.7ZM71.4 114.8H72.8V120.9H71.4ZM73.1 114.8H74.5V123H73.1ZM74.8 114.8H76.1V120.4H74.8ZM76.4 114.8H77.6V120.1H76.4ZM77.9 114.8H79.1V118.6H77.9ZM79.4 114.8H80.6V117.6H79.4ZM80.9 114.8H82.1V119.4H80.9ZM82.5 114.8H83.9V123.3H82.5ZM84.3 114.8H85.7V125.5H84.3ZM86.1 114.8H87.5V119.4H86.1ZM87.9 114.8H89.1V122.2H87.9ZM89.5 114.8H90.7V120.8H89.5ZM91.1 114.8H92.3V119.4H91.1ZM92.7 114.8H93.9V122.2H92.7ZM94.3 114.8H95.7V118.3H94.3ZM96.1 114.8H97.5V119H96.1ZM97.9 114.8H99.3V122.2H97.9ZM99.7 114.8H100.9V122.6H99.7ZM101.3 114.8H102.5V121.9H101.3ZM102.9 114.8H104.3V119.4H102.9ZM104.7 114.8H106V119.6H104.7ZM106.3 114.8H107.5V118.3H106.3ZM107.9 114.8H109.1V120.5H107.9ZM109.5 114.8H110.9V119.2H109.5ZM111.3 114.8H112.9V121.7H111.3ZM113.3 114.8H114.9V123H113.3ZM115.2 114.8H116.6V120H115.2ZM116.9 114.8H118.3V128.1H116.9ZM118.6 114.8H120V120.9H118.6ZM120.3 114.8H121.6V118.3H120.3ZM121.9 111.5H123.1V114.8H121.9ZM123.4 114.8H124.7V123H123.4ZM125 112.4H126.4V114.8H125ZM126.7 112.8H128.1V114.8H126.7ZM128.4 114.8H129.7V121.3H128.4ZM130 114.8H131.2V118.3H130ZM131.6 112.4H132.8V114.8H131.6ZM133.1 114.8H134.5V125.6H133.1ZM134.8 114.8H136.2V120H134.8ZM136.5 114.8H137.9V120.5H136.5ZM138.3 114.8H139.7V119.2H138.3ZM140 114.8H141.4V118.3H140ZM141.7 114.8H143.1V121.3H141.7ZM143.4 114.8H144.8V119.2H143.4ZM145.1 114.8H146.5V116.6H145.1ZM146.8 113.6H148.2V114.8H146.8ZM148.5 112.8H149.9V114.8H148.5ZM150.2 114.8H151.6V115.8H150.2ZM151.9 114.8H153.3V116.6H151.9ZM153.6 114.8H155V120.5H153.6ZM155.3 114.8H156.7V118.8H155.3ZM157 110.7H158.5V114.8H157ZM158.8 114.8H160.3V118.8H158.8ZM160.6 114.8H162V116H160.6ZM162.4 109H163.8V114.8H162.4ZM164.1 110.5H165.7V114.8H164.1ZM166 103.5H167.6V114.8H166ZM167.9 83H169.3V114.8H167.9ZM169.6 108.4H171.1V114.8H169.6ZM171.5 114.8H173V120.4H171.5ZM173.4 106.3H174.8V114.8H173.4ZM175.1 108.4H176.4V114.8H175.1ZM176.8 109.8H178.1V114.8H176.8ZM178.4 114.8H179.7V116H178.4ZM180 114.8H181.2V117.4H180ZM181.5 114.8H182.8V122.2H181.5ZM183.2 114.8H184.9V116H183.2ZM185.3 110.2H186.9V114.8H185.3ZM187.3 114.8H188.7V116.5H187.3ZM189 114.8H190.3V125H189ZM190.7 93.1H192.1V114.8H190.7ZM192.4 114H194V114.8H192.4ZM194.4 114.8H195.9V121.2H194.4ZM196.3 114.8H197.7V116H196.3ZM198 112H199.4V114.8H198ZM199.8 95.5H201V114.8H199.8ZM201.4 112H202.7V114.8H201.4ZM203.1 93.1H204.6V114.8H203.1ZM204.9 97.3H206.2V114.8H204.9ZM206.6 92.7H207.9V114.8H206.6ZM208.3 103.2H209.7V114.8H208.3ZM210 97.3H211.4V114.8H210ZM211.8 107.4H213.2V114.8H211.8ZM213.6 109H215V114.8H213.6ZM215.3 96.3H216.6V114.8H215.3ZM217 104.2H218.3V114.8H217ZM218.7 113.2H220.1V114.8H218.7ZM220.4 98H221.8V114.8H220.4ZM222.2 107H223.6V114.8H222.2ZM224 91H225.5V114.8H224ZM225.8 98H227.3V114.8H225.8ZM227.7 105.2H229.1V114.8H227.7ZM229.4 95.5H230.7V114.8H229.4ZM231 104.2H232.2V114.8H231ZM232.6 104.6H233.9V114.8H232.6ZM234.3 101.4H235.9V114.8H234.3ZM236.2 89.4H237.8V114.8H236.2ZM238.1 99.4H239.5V114.8H238.1Z" fill="#e8e830" stroke="#a0a010" stroke-width="0.4"/>
<path d="M25.8 225.7H27.1V227.5H25.8ZM27.5 225.7H28.8V231.8H27.5ZM29.2 225.7H30.8V240H29.2ZM31.1 221.5H32.7V225.7H31.1ZM33 225.7H34.4V230.5H33ZM34.7 225.7H36.2V229.8H34.7ZM36.5 225.7H38.1V228.6H36.5ZM38.4 225.7H39.9V227H38.4ZM40.2 218.3H41.6V225.7H40.2ZM42 225.7H43.2V229H42ZM43.5 225.7H44.8V240.7H43.5ZM45.2 219H46.6V225.7H45.2ZM46.9 225.7H48.3V228.6H46.9ZM48.7 225.7H50.1V230.2H48.7ZM50.5 225.7H51.8V239.4H50.5ZM52.2 225.7H53.6V230.5H52.2ZM53.9 225.7H55.2V227H53.9ZM55.6 216.4H56.9V225.7H55.6ZM57.3 225.7H58.7V227.5H57.3ZM59 225.7H60.3V231.1H59ZM60.7 222.2H61.9V225.7H60.7ZM62.3 225.7H63.7V231.1H62.3ZM64 225.7H65.4V234.3H64ZM65.8 225.7H67V236.2H65.8ZM67.4 225.7H68.8V233H67.4ZM69.1 225.7H70.7V231.5H69.1ZM71 225.7H72.6V237.5H71ZM72.9 225.7H74.5V231.8H72.9ZM74.8 225.7H76.2V233H74.8ZM76.6 225.7H78V240.7H76.6ZM78.4 225.7H79.8V229.2H78.4ZM80.1 225.7H81.4V227H80.1ZM81.8 225.7H83.2V229H81.8ZM83.5 225.7H84.9V228.5H83.5ZM85.3 225.7H86.7V229.2H85.3ZM87 225.7H88.4V233.7H87ZM88.8 225.7H90.2V228H88.8ZM90.5 225.1H91.8V225.7H90.5ZM92.2 225.7H93.6V230.5H92.2ZM93.9 209.8H95.2V225.7H93.9ZM95.5 219.6H96.5V225.7H95.5ZM96.7 221.5H97.9V225.7H96.7ZM98.2 223H99.5V225.7H98.2ZM99.8 225.7H101V226.5H99.8ZM101.3 225.7H102.5V230.5H101.3ZM102.7 225.7H103.9V236.2H102.7ZM104.2 225.7H105.7V230.5H104.2ZM106 225.7H107.4V241.3H106ZM107.8 225.7H109V236.9H107.8ZM109.4 225.7H110.8V230.5H109.4ZM111.1 225.7H112.5V227H111.1ZM112.9 225.7H114.1V231.8H112.9ZM114.5 225.7H115.9V234.3H114.5ZM116.2 225.7H117.8V238.1H116.2ZM118.2 225.7H119.6V233H118.2ZM120 225.7H121.2V230.5H120ZM121.5 225.7H122.9V227H121.5ZM123.2 225.7H124.7V232.4H123.2ZM125 218.3H126.4V225.7H125ZM126.8 225.7H128.2V227.5H126.8ZM128.5 225.7H129.8V229.8H128.5ZM130.2 225.7H131.4V233H130.2ZM131.8 225.7H133V237.5H131.8ZM133.3 225.7H134.6V234.3H133.3ZM134.9 225.7H136.4V231.8H134.9ZM136.8 225.7H138.5V227.5H136.8ZM138.9 222.2H140.4V225.7H138.9ZM140.7 225.7H142V231.8H140.7ZM142.3 225.7H143.9V227.3H142.3ZM144.2 225.7H145.8V226.5H144.2ZM146.1 220H147.4V225.7H146.1ZM147.7 220H149V225.7H147.7ZM149.3 225.7H150.8V230.5H149.3ZM151.1 225.7H152.5V228.6H151.1ZM152.9 225.7H154.2V226.5H152.9ZM154.6 224.4H155.9V225.7H154.6ZM156.2 225.7H157.6V228.6H156.2ZM158 224H159.5V225.7H158ZM159.9 222.2H161.3V225.7H159.9ZM161.7 213.9H162.9V225.7H161.7ZM163.2 212.6H164.5V225.7H163.2ZM164.8 215.2H166.4V225.7H164.8ZM166.7 197H168.3V225.7H166.7ZM168.6 222.2H170V225.7H168.6ZM170.3 222.2H171.6V225.7H170.3ZM171.9 218H173.3V225.7H171.9ZM173.6 217.7H175.2V225.7H173.6ZM175.5 216.4H177.1V225.7H175.5ZM177.4 225.7H178.9V233.7H177.4ZM179.2 225.7H180.5V227.7H179.2ZM180.8 222.2H182.2V225.7H180.8ZM182.5 225.7H184.1V227H182.5ZM184.5 225.7H186.1V226.5H184.5ZM186.4 221.3H187.8V225.7H186.4ZM188.2 225.7H189.4V231.1H188.2ZM189.8 203.7H191.1V225.7H189.8ZM191.5 225.7H192.7V236.9H191.5ZM193.1 225.7H194.3V238.1H193.1ZM194.7 225.7H196V227.3H194.7ZM196.4 225.7H197.7V227H196.4ZM198 204.3H199.3V225.7H198ZM199.6 220.3H200.8V225.7H199.6ZM201.1 220.9H202.6V225.7H201.1ZM202.9 225.7H204.5V226.5H202.9ZM204.9 220.3H206.4V225.7H204.9ZM206.8 215.8H208.2V225.7H206.8ZM208.6 220.3H209.8V225.7H208.6ZM210.1 222.2H211.4V225.7H210.1ZM211.7 220.9H213.3V225.7H211.7ZM213.6 212.3H215.2V225.7H213.6ZM215.5 212.3H216.8V225.7H215.5ZM217.2 225.7H218.5V230.2H217.2ZM218.9 211.3H220.3V225.7H218.9ZM220.6 225.7H221.9V229.2H220.6ZM222.3 221.3H223.6V225.7H222.3ZM224 217.7H225.6V225.7H224ZM225.9 225.7H227.5V227.9H225.9ZM227.9 219.6H229.4V225.7H227.9ZM229.8 220.5H231.3V225.7H229.8ZM231.7 220.3H233.1V225.7H231.7ZM233.4 219.6H234.7V225.7H233.4ZM235.1 208.1H236.4V225.7H235.1ZM236.8 210.7H238.2V225.7H236.8Z" fill="#c01010" stroke="#701010" stroke-width="0.4"/>
<path d="M21.3 313.6H22.3V319.5H21.3ZM22.6 315H23.3V319.5H22.6ZM23.6 319.5H24.5V322.3H23.6ZM24.8 311.4H25.8V319.5H24.8ZM26.1 313H27.1V319.5H26.1ZM27.4 315H28.5V319.5H27.4ZM28.7 313.2H29.8V319.5H28.7ZM30.1 316.7H31.2V319.5H30.1ZM31.4 314.3H32.5V319.5H31.4ZM32.8 316.3H33.8V319.5H32.8ZM34.1 309.3H35.2V319.5H34.1ZM35.4 317.6H36.5V319.5H35.4ZM36.8 318.8H37.8V319.5H36.8ZM38.1 317.6H39.1V319.5H38.1ZM39.4 315.4H40.5V319.5H39.4ZM40.7 317.6H41.8V319.5H40.7ZM42.1 318.8H43.1V319.5H42.1ZM43.4 319.5H44.5V325.6H43.4ZM44.7 318.8H45.8V319.5H44.7ZM46.1 317.6H47.1V319.5H46.1ZM47.4 314.3H48.5V319.5H47.4ZM48.7 313.6H49.8V319.5H48.7ZM50.1 315.6H51.3V319.5H50.1ZM51.6 314.6H52.9V319.5H51.6ZM53.3 318.8H54.7V319.5H53.3ZM55.1 315.6H56.4V319.5H55.1ZM56.7 316.3H57.8V319.5H56.7ZM58.1 315.6H59.3V319.5H58.1ZM59.6 315.9H60.8V319.5H59.6ZM61.1 311H62.3V319.5H61.1ZM62.5 312.3H63.7V319.5H62.5ZM64 315.6H65.2V319.5H64ZM65.5 317H66.6V319.5H65.5ZM67 313.6H68.2V319.5H67ZM68.5 312.3H69.7V319.5H68.5ZM70 310.3H71.1V319.5H70ZM71.3 310.3H72.4V319.5H71.3ZM72.7 312.3H73.7V319.5H72.7ZM74 311.6H75V319.5H74ZM75.3 312.3H76.4V319.5H75.3ZM76.7 312.3H77.9V319.5H76.7ZM78.2 309.7H79.4V319.5H78.2ZM79.7 317.6H80.8V319.5H79.7ZM81.1 317.6H82.1V319.5H81.1ZM82.4 311.6H83.4V319.5H82.4ZM83.7 313H84.8V319.5H83.7ZM85 318.8H86V319.5H85ZM86.2 319.5H87.2V321H86.2ZM87.4 319.5H88.5V336.6H87.4ZM88.8 318.8H89.7V319.5H88.8ZM89.9 312.3H90.8V319.5H89.9ZM91 319.5H91.9V321.6H91ZM92.2 315.6H93V319.5H92.2ZM93.2 317H94.1V319.5H93.2ZM94.4 319.5H95.6V326.5H94.4ZM95.9 311.4H97.1V319.5H95.9ZM97.4 315H98.5V319.5H97.4ZM98.7 316.3H99.8V319.5H98.7ZM100.1 313.6H101.1V319.5H100.1ZM101.4 312.3H102.5V319.5H101.4ZM102.7 310.6H103.8V319.5H102.7ZM104.1 313H105.1V319.5H104.1ZM105.4 315H106.5V319.5H105.4ZM106.8 317.6H108V319.5H106.8ZM108.3 319.5H109.6V320.7H108.3ZM109.9 311.6H111.1V319.5H109.9ZM111.4 310.3H112.4V319.5H111.4ZM112.7 311H113.8V319.5H112.7ZM114 312.3H115.1V319.5H114ZM115.4 313H116.6V319.5H115.4ZM116.8 313.6H118V319.5H116.8ZM118.3 318.8H119.2V319.5H118.3ZM119.5 319.5H120.6V337.6H119.5ZM120.8 317H122V319.5H120.8ZM122.3 319.5H123.5V321H122.3ZM123.8 315.6H125V319.5H123.8ZM125.3 313.6H126.4V319.5H125.3ZM126.7 313.6H127.7V319.5H126.7ZM128 312.3H129.2V319.5H128ZM129.6 311H130.8V319.5H129.6ZM131.1 312.3H132.1V319.5H131.1ZM132.4 312.3H133.6V319.5H132.4ZM133.9 313.6H135.1V319.5H133.9ZM135.4 315.6H136.5V319.5H135.4ZM136.8 319.5H138.1V331.6H136.8ZM138.5 319H140.1V319.5H138.5ZM140.5 319H142V319.5H140.5ZM142.3 319.2H143.6V319.5H142.3ZM144 319.5H145.2V328.7H144ZM145.5 313.6H146.7V319.5H145.5ZM147 311H148.1V319.5H147ZM148.4 309.7H149.4V319.5H148.4ZM149.7 309H150.9V319.5H149.7ZM151.3 319H152.7V319.5H151.3ZM153 319H154.2V319.5H153ZM154.5 319.5H155.7V332.9H154.5ZM156 319.5H157.4V329.6H156ZM157.8 319.2H159.4V319.5H157.8ZM159.8 319.5H161.1V325H159.8ZM161.4 319.5H162.6V336.3H161.4ZM162.9 319.5H164.4V325H162.9ZM164.7 319.5H166.2V349.5H164.7ZM166.6 319.5H167.8V329.6H166.6ZM168.2 319.5H169.5V325H168.2ZM169.9 319.5H171.4V324.3H169.9ZM171.8 315H173.2V319.5H171.8ZM173.6 317.6H175.1V319.5H173.6ZM175.4 311.6H176.9V319.5H175.4ZM177.3 313.6H178.7V319.5H177.3ZM179.1 318.8H180.7V319.5H179.1ZM181.1 319.5H182.7V320.3H181.1ZM183.1 318.5H184.7V319.5H183.1ZM185.7 317.6H187.3V319.5H185.7ZM187.7 319.5H189.3V337.6H187.7ZM189.7 319.5H191.1V330.9H189.7ZM191.5 306H192.7V319.5H191.5ZM193 319H194.4V319.5H193ZM194.7 319.5H196.3V333.6H194.7ZM196.6 319.5H198V341.6H196.6ZM198.3 319.5H199.8V319.8H198.3ZM200.1 319.5H201.6V325.6H200.1ZM201.9 319.5H203.4V325H201.9ZM203.8 319.5H205.4V324.7H203.8ZM205.8 319.5H207.4V326.3H205.8ZM207.8 319.5H209.4V325H207.8ZM209.8 319.5H211.3V326.3H209.8ZM211.6 319.5H212.9V330.9H211.6ZM213.3 319.5H214.5V334.3H213.3ZM214.7 319.5H215.8V332.9H214.7ZM216.1 306.3H217.3V319.5H216.1ZM217.6 319.5H218.9V329.6H217.6ZM219.2 319.5H220.6V326.9H219.2ZM220.9 319.5H222.2V332.9H220.9ZM222.6 319.5H223.8V326.9H222.6ZM224.2 319.5H225.5V330.3H224.2ZM225.9 319.5H227.3V330.3H225.9ZM227.6 319.5H229.1V329.6H227.6ZM229.4 319.5H231.1V326.3H229.4ZM231.4 319.5H233V326.9H231.4ZM233.4 319.5H234.8V337.6H233.4ZM235.2 319.5H236.6V330.3H235.2Z" fill="#a03030" stroke="#6a1a1a" stroke-width="0.4"/>
<line x1="17.3" y1="83.3" x2="17.3" y2="125.2" stroke="#666" stroke-width="0.6"/>
<line x1="15.8" y1="83.3" x2="17.3" y2="83.3" stroke="#666" stroke-width="0.6"/>
<text x="13.7" y="83.3" font-size="3.5" font-weight="bold" text-anchor="middle" fill="#222" transform="rotate(-90 13.7 83.3)">0.3</text>
<line x1="15.8" y1="93.9" x2="17.3" y2="93.9" stroke="#666" stroke-width="0.6"/>
<text x="13.7" y="93.9" font-size="3.5" font-weight="bold" text-anchor="middle" fill="#222" transform="rotate(-90 13.7 93.9)">0.2</text>
<line x1="15.8" y1="104.4" x2="17.3" y2="104.4" stroke="#666" stroke-width="0.6"/>
<text x="13.7" y="104.4" font-size="3.5" font-weight="bold" text-anchor="middle" fill="#222" transform="rotate(-90 13.7 104.4)">0.1</text>
<line x1="15.8" y1="114.9" x2="17.3" y2="114.9" stroke="#666" stroke-width="0.6"/>
<text x="13.7" y="114.9" font-size="3.5" font-weight="bold" text-anchor="middle" fill="#222" transform="rotate(-90 13.7 114.9)">0.0</text>
<line x1="15.8" y1="125.2" x2="17.3" y2="125.2" stroke="#666" stroke-width="0.6"/>
<text x="13.7" y="125.2" font-size="3.5" font-weight="bold" text-anchor="middle" fill="#222" transform="rotate(-90 13.7 125.2)">-0.1</text>
<text x="5.8" y="106" font-size="3.1" font-weight="bold" text-anchor="middle" fill="#222" transform="rotate(-90 5.8 106)">eigengene expression</text>
<line x1="16.7" y1="199.1" x2="16.7" y2="234.7" stroke="#666" stroke-width="0.6"/>
<line x1="15.2" y1="199.1" x2="16.7" y2="199.1" stroke="#666" stroke-width="0.6"/>
<text x="13.1" y="199.1" font-size="3.5" font-weight="bold" text-anchor="middle" fill="#222" transform="rotate(-90 13.1 199.1)">0.3</text>
<line x1="15.2" y1="207.9" x2="16.7" y2="207.9" stroke="#666" stroke-width="0.6"/>
<text x="13.1" y="207.9" font-size="3.5" font-weight="bold" text-anchor="middle" fill="#222" transform="rotate(-90 13.1 207.9)">0.2</text>
<line x1="15.2" y1="216.8" x2="16.7" y2="216.8" stroke="#666" stroke-width="0.6"/>
<text x="13.1" y="216.8" font-size="3.5" font-weight="bold" text-anchor="middle" fill="#222" transform="rotate(-90 13.1 216.8)">0.1</text>
<line x1="15.2" y1="225.4" x2="16.7" y2="225.4" stroke="#666" stroke-width="0.6"/>
<text x="13.1" y="225.4" font-size="3.5" font-weight="bold" text-anchor="middle" fill="#222" transform="rotate(-90 13.1 225.4)">0.0</text>
<line x1="15.2" y1="234.7" x2="16.7" y2="234.7" stroke="#666" stroke-width="0.6"/>
<text x="13.1" y="234.7" font-size="3.5" font-weight="bold" text-anchor="middle" fill="#222" transform="rotate(-90 13.1 234.7)">-0.1</text>
<text x="4.6" y="219" font-size="3.1" font-weight="bold" text-anchor="middle" fill="#222" transform="rotate(-90 4.6 219)">eigengene expression</text>
<line x1="13.6" y1="309.9" x2="13.6" y2="346.6" stroke="#666" stroke-width="0.6"/>
<line x1="12.1" y1="309.9" x2="13.6" y2="309.9" stroke="#666" stroke-width="0.6"/>
<text x="9.6" y="309.9" font-size="3.0" font-weight="bold" text-anchor="middle" fill="#222" transform="rotate(-90 9.6 309.9)">0.1</text>
<line x1="12.1" y1="319.5" x2="13.6" y2="319.5" stroke="#666" stroke-width="0.6"/>
<text x="9.6" y="319.5" font-size="3.0" font-weight="bold" text-anchor="middle" fill="#222" transform="rotate(-90 9.6 319.5)">0.0</text>
<line x1="12.1" y1="328.8" x2="13.6" y2="328.8" stroke="#666" stroke-width="0.6"/>
<text x="9.6" y="328.8" font-size="3.0" font-weight="bold" text-anchor="middle" fill="#222" transform="rotate(-90 9.6 328.8)">-0.1</text>
<line x1="12.1" y1="337.8" x2="13.6" y2="337.8" stroke="#666" stroke-width="0.6"/>
<text x="9.6" y="337.8" font-size="3.0" font-weight="bold" text-anchor="middle" fill="#222" transform="rotate(-90 9.6 337.8)">-0.2</text>
<line x1="12.1" y1="346.6" x2="13.6" y2="346.6" stroke="#666" stroke-width="0.6"/>
<text x="9.6" y="346.6" font-size="3.0" font-weight="bold" text-anchor="middle" fill="#222" transform="rotate(-90 9.6 346.6)">-0.3</text>
<text x="4.5" y="327.7" font-size="2.4" font-weight="bold" text-anchor="middle" fill="#222" transform="rotate(-90 4.5 327.7)">eigengene expression</text>
<text x="151.2" y="23.8" font-size="11.5" font-weight="bold">Immune process</text>
<text x="169.8" y="137.1" font-size="11.5" font-weight="bold">Myelination</text>
<text x="130.6" y="249.3" font-size="11.5" font-weight="bold">Synaptic transmission</text>
<text x="122.5" y="26" font-size="6.4" font-weight="bold">yellow</text>
<text x="126.5" y="141.9" font-size="6.6" font-weight="bold">red</text>
<text x="121.8" y="253.6" font-size="4.85" font-weight="bold" fill="#222">brown</text>
<text x="122.5" y="361.2" font-size="2.45" font-weight="bold" fill="#222">array sample</text>
<path d="M340.9 17.4h0M340.8 36.0h0M319.8 50.8h0M294.9 74.2h0M307.0 39.5h0M293.0 60.5h0M308.9 27.1h0M333.9 35.2h0M391.1 26.7h0M314.8 40.3h0M333.9 30.7h0M353.7 32.0h0M302.7 41.7h0M299.6 56.4h0M315.1 43.6h0M293.4 58.8h0M299.7 30.6h0M410.2 25.9h0M341.8 23.8h0M301.6 46.0h0M312.9 39.0h0M293.7 59.9h0M350.9 17.7h0M301.8 65.6h0M327.1 37.8h0M317.5 38.7h0M339.7 32.4h0M318.1 36.1h0M320.8 45.1h0M312.0 38.7h0M411.6 28.4h0M304.2 60.2h0M347.5 33.6h0M314.9 55.1h0M320.6 41.7h0M388.0 30.0h0M299.9 57.4h0M353.3 25.6h0M340.4 38.8h0M359.6 36.0h0M378.0 46.5h0M307.3 37.7h0M338.2 35.6h0M299.9 72.5h0M329.3 41.4h0M307.0 52.5h0M329.8 39.8h0M309.5 40.5h0M294.7 60.1h0M297.1 75.9h0M310.0 36.8h0M296.6 66.5h0M300.4 44.7h0M301.6 43.0h0M326.2 30.0h0M317.4 46.2h0M298.3 69.6h0M328.1 35.2h0M298.0 61.1h0M306.3 41.5h0M309.5 52.1h0M367.5 30.4h0M310.8 55.0h0M311.8 44.2h0M298.5 69.5h0M323.2 35.1h0M398.1 22.0h0M301.8 45.6h0M328.1 42.9h0M305.4 61.1h0M323.3 40.8h0M314.8 31.5h0M301.6 78.7h0M324.0 31.8h0M317.8 43.9h0M316.2 54.0h0M295.6 64.2h0M335.5 35.5h0M346.6 23.1h0M321.3 30.6h0M298.2 58.6h0M353.9 31.0h0M300.9 61.1h0M302.3 50.7h0M392.8 17.8h0M350.0 23.2h0M317.1 42.9h0M296.4 67.4h0M293.5 86.9h0M306.0 54.8h0M302.6 39.7h0M298.6 86.8h0M329.1 35.8h0M310.6 50.4h0M315.3 42.6h0M299.3 61.1h0M304.2 54.9h0M310.0 54.2h0M301.2 54.0h0M294.3 49.4h0M305.3 54.8h0M329.4 34.2h0M314.3 34.4h0M300.4 69.1h0M327.0 48.8h0M316.3 35.4h0M300.9 54.1h0M319.8 46.4h0M304.6 58.4h0M296.3 85.9h0M295.3 48.4h0M307.1 47.3h0M301.2 42.2h0M333.5 29.2h0M312.0 45.8h0M307.1 41.2h0M296.6 62.6h0M366.3 29.6h0M339.8 22.1h0M295.1 84.5h0M317.9 59.5h0M293.5 71.9h0M297.9 74.0h0M378.1 26.6h0M301.0 51.4h0M310.2 48.3h0M316.8 39.1h0M293.3 66.0h0M316.6 42.2h0M295.8 52.6h0M384.1 16.7h0M323.6 45.3h0M338.9 35.2h0M318.8 39.2h0M304.1 46.3h0M312.9 37.5h0M296.8 58.6h0M310.3 46.5h0M295.5 71.2h0M304.6 57.7h0M343.4 16.6h0M353.3 32.0h0M311.1 48.6h0M294.5 65.2h0M333.7 19.5h0M305.9 42.8h0M309.7 51.6h0M298.2 51.8h0M323.1 40.2h0M399.0 31.4h0M295.8 52.8h0M318.4 45.3h0M379.1 26.4h0M300.2 60.1h0M341.1 29.4h0M320.4 44.0h0M308.6 42.7h0M342.2 34.5h0M402.5 16.5h0M328.9 24.8h0M301.7 38.0h0M299.4 51.6h0M313.3 47.0h0M329.2 35.9h0M326.6 35.2h0M313.0 47.0h0M336.4 24.3h0M400.6 28.2h0M323.4 45.4h0M322.6 28.9h0M293.8 86.4h0M337.7 22.8h0M359.5 27.6h0M333.2 36.9h0M334.8 33.8h0M297.6 79.4h0M310.0 55.0h0M296.5 68.1h0M298.8 37.4h0M315.9 53.5h0M324.5 50.2h0M295.7 45.6h0M329.2 28.8h0M309.5 34.4h0M356.4 28.7h0M323.0 47.0h0M311.6 38.6h0M294.0 74.6h0M327.8 31.3h0M335.1 21.8h0M297.3 45.6h0M361.6 45.6h0M356.0 33.0h0M304.7 69.7h0M293.8 61.0h0M299.7 44.1h0M353.2 32.6h0M386.1 42.8h0M346.5 26.8h0M296.3 61.7h0M334.1 25.4h0M315.4 37.2h0M315.4 65.5h0M344.1 29.3h0M338.4 24.2h0M340.4 24.3h0M312.0 49.7h0M312.2 59.8h0M322.4 43.9h0M303.5 48.4h0M297.2 46.1h0M314.6 43.6h0M299.8 58.8h0M319.2 38.5h0M302.5 41.7h0M304.0 53.4h0M390.8 25.8h0M346.2 29.6h0M300.8 75.8h0M346.6 20.1h0M414.2 19.1h0M319.8 30.2h0M305.6 53.7h0M379.6 23.2h0M293.2 57.5h0M306.1 72.1h0M409.9 15.8h0M311.1 43.8h0M322.4 39.2h0M298.7 64.5h0M315.2 63.0h0M325.4 48.0h0M320.4 23.7h0M321.6 37.7h0M302.6 42.8h0M300.6 53.3h0M331.8 41.5h0M409.2 21.9h0M301.3 44.2h0M323.0 33.2h0M361.4 42.3h0M296.1 73.6h0M325.2 39.7h0M296.0 64.1h0M301.6 55.4h0M340.9 23.9h0M329.4 39.5h0M340.7 35.8h0M293.4 67.3h0M301.8 66.0h0M299.4 70.8h0M303.0 62.3h0M293.6 96.7h0M330.8 31.2h0M299.7 58.1h0M299.7 47.5h0M306.8 50.6h0M293.8 36.0h0M303.7 63.0h0M294.2 86.9h0M334.8 50.4h0M295.4 81.5h0M323.4 50.0h0M347.2 33.7h0M305.0 64.1h0M329.7 20.3h0M347.5 28.2h0M298.6 70.7h0M326.3 27.6h0M338.7 33.1h0M313.5 29.6h0M312.4 38.1h0M398.7 28.5h0M296.7 63.3h0M312.0 42.1h0M404.9 25.7h0M305.2 49.2h0M301.8 66.0h0M324.3 39.7h0M308.9 38.4h0M352.1 32.5h0M293.5 58.7h0M321.4 42.3h0M310.7 44.6h0M294.8 89.5h0M307.3 61.2h0M307.1 43.7h0M298.1 60.6h0M299.4 46.8h0M299.8 65.7h0M320.8 28.6h0M360.1 35.9h0M296.7 39.9h0M331.8 34.1h0M362.4 26.8h0M332.4 26.9h0M339.7 42.5h0M328.6 29.7h0M300.0 45.4h0M323.4 33.2h0M403.4 17.7h0M356.1 37.0h0M332.0 25.5h0M321.6 43.6h0M327.3 22.3h0M310.8 43.2h0M299.8 54.2h0M297.1 84.9h0M322.6 31.9h0M344.5 23.7h0M361.8 37.0h0M300.8 48.0h0M296.0 66.2h0M296.3 56.7h0M296.8 58.5h0M339.3 20.4h0M335.0 40.8h0M301.0 48.4h0M335.4 38.8h0M317.2 54.9h0M372.8 30.3h0M310.4 43.3h0M308.2 42.3h0M298.4 70.1h0M306.4 43.3h0M324.2 37.0h0M313.4 38.6h0M293.5 70.6h0M343.0 27.1h0M384.8 32.6h0M307.4 65.2h0M312.2 37.7h0M297.8 57.7h0M304.4 35.9h0M313.2 42.0h0M305.6 58.5h0M298.7 44.2h0M297.6 71.0h0M318.5 41.9h0M299.0 45.7h0M312.0 51.4h0M304.5 28.1h0M345.3 33.0h0M319.4 34.5h0M313.5 61.3h0M295.0 60.0h0M311.0 53.8h0M360.4 26.9h0M332.0 41.7h0M296.9 55.4h0M312.6 53.8h0M297.0 73.8h0M301.9 53.4h0M293.7 82.9h0M301.5 61.4h0M295.9 71.5h0M359.2 36.8h0M307.7 53.6h0M300.9 41.2h0M347.1 21.1h0M341.7 33.9h0M311.5 63.3h0M310.6 33.6h0M328.5 35.9h0M332.2 31.6h0M326.2 23.8h0M313.9 52.3h0M301.3 42.3h0M322.8 34.9h0M309.3 41.5h0M301.7 53.3h0M310.3 21.3h0M307.4 27.3h0M294.6 73.6h0M295.7 82.6h0M361.8 28.8h0M315.8 61.8h0M301.6 60.1h0M295.2 66.2h0M358.0 33.6h0M313.0 48.0h0M326.5 28.7h0M308.7 46.6h0M311.6 38.8h0M298.3 32.9h0M339.8 22.7h0M303.7 62.7h0M324.0 37.8h0M322.6 46.2h0M324.8 41.2h0M319.8 45.9h0M306.0 55.6h0M301.2 57.9h0M297.4 62.9h0M307.1 45.9h0M344.6 37.9h0M300.6 41.8h0M310.7 50.6h0M338.4 31.2h0M345.0 31.8h0M332.5 35.5h0M315.1 52.5h0M392.4 31.3h0M336.5 41.6h0M299.7 68.5h0M321.0 41.5h0M325.3 51.7h0M337.6 18.8h0M323.6 29.6h0M306.5 60.6h0M399.6 31.1h0M303.0 30.4h0M313.7 54.7h0M332.9 24.3h0M376.1 34.9h0M332.0 27.1h0M321.4 31.0h0M312.3 24.0h0M332.9 25.6h0M310.8 51.8h0M294.1 64.5h0M310.4 38.8h0M320.3 46.2h0M300.0 58.5h0M296.9 61.6h0M313.0 55.1h0M300.9 56.4h0M340.4 30.7h0M295.7 96.5h0M350.0 24.5h0M380.8 25.2h0M322.5 34.5h0M312.7 43.4h0M295.1 53.2h0M385.8 36.4h0M322.6 40.0h0M293.3 64.5h0M299.0 50.3h0M309.8 52.5h0M320.5 38.8h0M300.9 64.0h0M302.1 58.3h0M389.1 20.2h0M327.1 35.6h0M307.8 44.1h0M320.5 46.4h0M303.5 23.5h0M301.7 58.3h0M322.3 33.6h0M317.1 53.4h0M341.0 39.3h0M304.4 52.3h0M320.1 54.3h0M308.3 45.2h0M410.8 19.7h0M317.1 38.9h0M300.8 68.9h0M342.1 36.5h0M314.7 40.7h0M328.1 48.9h0M348.5 28.0h0M326.8 37.4h0M334.8 38.5h0M333.3 45.7h0M391.9 17.6h0M301.8 48.4h0M311.9 33.0h0M337.2 28.5h0M340.3 37.4h0M313.6 48.9h0M331.9 42.3h0M294.0 91.0h0M385.8 29.3h0M317.5 51.3h0M305.6 37.4h0M341.9 40.4h0M294.2 82.5h0M314.4 36.5h0M315.9 55.6h0M309.1 49.1h0M298.2 69.8h0M326.7 34.1h0M326.2 22.0h0M324.1 27.0h0M331.5 40.6h0M311.1 46.9h0M296.2 62.6h0M331.9 30.8h0M342.2 37.7h0M323.4 33.3h0M323.2 41.7h0M332.7 25.7h0M305.6 50.3h0M300.5 51.6h0M376.5 19.9h0M314.2 60.6h0M301.0 31.5h0M334.1 35.5h0M309.3 67.2h0M383.5 20.1h0M315.4 37.0h0M303.5 56.4h0M322.9 44.8h0M330.4 32.8h0M300.7 60.7h0M299.5 76.2h0M315.5 53.4h0M337.2 33.2h0M373.8 16.5h0M301.7 47.5h0M299.5 59.0h0M320.0 41.1h0M295.0 49.4h0M317.8 27.9h0M314.1 26.6h0M357.8 29.1h0M307.3 54.1h0M307.2 56.4h0M306.3 50.3h0M303.5 52.7h0M363.3 20.6h0M374.5 27.4h0M319.5 40.4h0M373.3 26.9h0M317.3 39.8h0M299.2 35.0h0M334.7 46.6h0M398.7 32.1h0M380.6 21.4h0M312.7 66.2h0M414.3 19.5h0M341.9 23.4h0M324.8 33.4h0M295.2 62.4h0M308.3 43.3h0M305.9 61.8h0M339.5 46.0h0M315.6 33.4h0M329.8 39.8h0M298.1 58.3h0M315.5 48.4h0M311.5 50.2h0M303.1 53.0h0M315.8 47.1h0M321.2 40.6h0M357.8 30.3h0M324.4 31.3h0M316.8 34.7h0M325.0 42.8h0M310.3 36.7h0M320.9 28.1h0M307.6 42.5h0M315.3 40.8h0M336.8 20.3h0M332.5 33.9h0M336.7 18.1h0M388.1 17.8h0M398.1 24.3h0M303.5 63.4h0M392.5 18.2h0M299.1 61.4h0M319.5 38.3h0M317.9 56.3h0M319.6 62.2h0M306.1 44.3h0M314.2 39.5h0M315.7 43.1h0M364.4 21.0h0M316.2 46.0h0M326.0 28.3h0M323.9 43.8h0M323.3 39.9h0M328.7 41.9h0M315.5 55.0h0M307.5 36.0h0M300.8 43.9h0M372.5 25.2h0M312.6 39.5h0M305.4 44.8h0M312.4 30.4h0M343.4 33.3h0M317.6 40.6h0M314.1 57.3h0M311.7 62.3h0M293.9 61.5h0M296.0 67.8h0M322.1 48.0h0M301.8 54.8h0M299.9 62.5h0M341.9 20.6h0M294.2 49.3h0M315.9 44.4h0M348.5 19.8h0M406.1 21.7h0M296.9 48.9h0M321.3 20.7h0M295.0 56.7h0M328.3 44.7h0M309.3 35.9h0M298.7 66.3h0M386.2 33.1h0M328.6 34.8h0M406.0 18.7h0M308.4 62.5h0M308.7 44.7h0M316.7 24.5h0M298.7 62.2h0M307.1 57.3h0M346.9 29.8h0M316.8 41.4h0M301.5 60.7h0M367.5 36.0h0M316.2 36.4h0M330.8 35.9h0M311.4 56.4h0M301.0 61.0h0M396.5 26.2h0M297.8 41.4h0M319.9 30.7h0M307.6 43.3h0M293.2 71.3h0M317.4 41.3h0M321.8 39.4h0M337.3 32.4h0M296.6 52.9h0M295.2 72.2h0M314.2 30.8h0M297.3 69.3h0M320.3 25.5h0M352.1 30.3h0M298.9 60.0h0M320.6 32.8h0M315.1 45.6h0M326.2 46.3h0M317.6 48.1h0M297.3 47.1h0M319.3 33.1h0M306.7 66.7h0M308.1 33.5h0M295.1 44.1h0M326.1 46.4h0M354.6 31.3h0M301.9 38.6h0M341.6 28.6h0M335.4 34.6h0M300.7 72.2h0M323.1 32.8h0M359.4 35.6h0M319.5 33.4h0M293.3 82.6h0M314.0 42.1h0M326.3 33.3h0M345.3 21.6h0M296.4 96.9h0M360.0 36.4h0M321.7 39.9h0M299.5 69.9h0M311.0 50.3h0M383.4 35.4h0M326.8 38.6h0M293.2 68.4h0M317.1 39.9h0M311.0 46.9h0M295.3 76.3h0M306.0 40.0h0M323.6 21.0h0M304.4 66.1h0M325.2 39.3h0M319.6 37.6h0M317.3 39.7h0M298.7 69.6h0M302.5 43.6h0M305.9 57.5h0M303.3 54.9h0M301.1 52.5h0M306.0 43.3h0M309.5 46.9h0M297.1 62.0h0M305.9 53.3h0M405.1 26.4h0M303.3 53.7h0M340.7 30.3h0M306.9 36.9h0M336.1 36.9h0M310.0 50.0h0M295.6 56.0h0M309.6 42.7h0M312.8 58.2h0M313.7 32.5h0M299.1 44.3h0M331.2 51.0h0M325.0 27.0h0M301.7 59.7h0M309.0 56.1h0M313.0 52.8h0M308.7 53.4h0M294.4 69.4h0M361.1 24.2h0M329.3 42.6h0M298.0 53.0h0M352.0 45.9h0M307.9 42.5h0M321.8 42.9h0M311.7 49.0h0M349.8 26.1h0M293.3 78.6h0M301.3 52.9h0M337.7 30.9h0M301.5 54.7h0M310.4 50.7h0M296.9 72.3h0M314.0 38.4h0M301.2 41.8h0M382.4 32.5h0M326.1 34.9h0M316.5 37.8h0M308.8 38.7h0M327.8 36.6h0M344.8 26.0h0M295.9 56.0h0M300.7 60.8h0M318.6 39.9h0M299.5 80.8h0M398.6 30.9h0M414.1 22.2h0M321.7 30.9h0M298.4 70.4h0M296.0 80.6h0M354.1 32.2h0M314.3 31.8h0M328.8 36.8h0M294.1 58.4h0M348.7 37.1h0M296.1 64.0h0M299.8 74.3h0M295.5 58.9h0M315.7 62.7h0M326.0 46.8h0M304.4 55.3h0M300.8 51.3h0M320.4 29.6h0M297.8 54.0h0M294.7 71.1h0M293.1 36.9h0M300.4 64.1h0M308.8 36.4h0M336.0 24.1h0M298.6 64.2h0M301.4 40.1h0M369.3 32.4h0M309.4 50.2h0M318.6 34.2h0M316.0 21.4h0M301.2 50.8h0M301.7 61.9h0M383.9 24.9h0M359.8 37.0h0M301.4 51.5h0M298.2 66.7h0M316.5 44.7h0M336.0 27.8h0M335.3 37.7h0M295.9 74.9h0M370.1 30.3h0M303.2 25.0h0M357.1 31.2h0M293.7 44.8h0M320.1 36.0h0M321.3 26.7h0M298.5 71.7h0M410.2 19.0h0M306.8 50.8h0M300.3 69.0h0M404.7 30.1h0M329.6 37.0h0M299.1 58.9h0M318.9 50.9h0M328.1 26.1h0M304.0 51.0h0M315.8 25.7h0M323.5 50.1h0M305.5 28.5h0M318.5 50.0h0M350.3 35.8h0M310.8 48.5h0M326.2 26.1h0M296.4 80.9h0M321.7 43.8h0M334.5 34.1h0M329.4 31.3h0M307.5 48.9h0M294.0 68.4h0M293.3 61.0h0M317.5 42.0h0M326.1 57.1h0M411.0 22.9h0M312.2 49.8h0M357.8 31.4h0M293.3 67.0h0M305.5 52.3h0M295.3 60.8h0M370.8 33.3h0M401.4 29.3h0M404.9 23.0h0M328.1 53.6h0M359.0 20.5h0M341.0 30.9h0M294.1 64.7h0M358.1 31.4h0M307.2 60.1h0M337.3 39.8h0M296.2 63.1h0M332.2 51.5h0M368.8 36.1h0M293.1 86.3h0M300.9 68.1h0M371.2 18.0h0M330.5 29.6h0M379.4 25.9h0M301.7 49.1h0M306.0 34.9h0M330.8 26.5h0M300.9 55.7h0M320.0 40.6h0M314.6 41.3h0M333.2 37.3h0M327.5 33.5h0M366.5 28.0h0M294.7 70.3h0M294.5 44.3h0M320.8 26.2h0M366.7 27.4h0M293.3 74.6h0M301.3 66.0h0M342.7 31.3h0M392.0 22.2h0M293.9 64.6h0M328.1 28.5h0M371.5 21.2h0M310.8 47.6h0M309.8 33.4h0M299.6 45.3h0M321.7 47.0h0M311.9 41.7h0M295.8 66.1h0M324.5 27.7h0M307.9 32.3h0M297.5 75.3h0M366.4 36.4h0M305.4 50.7h0M306.5 52.5h0M361.7 27.6h0M308.4 46.2h0M360.5 37.1h0M343.3 22.1h0M332.4 27.4h0M335.9 27.8h0M317.9 31.5h0M322.3 42.0h0M337.4 48.7h0M335.0 42.6h0M319.2 36.2h0M351.3 29.6h0M330.7 38.6h0M294.1 62.0h0M294.5 62.6h0M307.7 58.9h0M297.6 58.0h0M331.5 37.9h0M341.7 29.8h0M323.6 42.3h0M319.2 40.5h0M309.2 49.0h0M335.9 36.3h0M303.1 46.4h0M303.9 48.3h0M391.8 34.9h0M305.1 37.2h0M308.1 45.2h0M336.0 28.4h0M298.1 78.9h0M308.4 54.9h0M295.5 68.5h0M345.4 19.1h0M377.5 39.6h0M301.1 49.9h0M304.5 59.3h0M319.2 24.3h0M322.7 54.0h0M329.0 24.7h0M340.5 29.9h0M315.5 49.2h0M297.2 30.5h0M327.7 19.2h0M327.2 31.9h0M355.4 16.5h0M380.1 24.1h0M312.9 38.7h0M309.8 46.1h0M303.8 43.0h0" stroke="#f4f400" stroke-width="2.1" stroke-linecap="round" opacity="0.5"/>
<line x1="288.6" y1="60" x2="410.4" y2="8.5" stroke="#333" stroke-width="0.6"/>
<rect x="288.6" y="8.5" width="140.9" height="92.8" fill="none" stroke="#666" stroke-width="0.7"/>
<line x1="293" y1="101.3" x2="293" y2="103.1" stroke="#666" stroke-width="0.6"/>
<text x="293" y="108.8" font-size="5.0" text-anchor="middle" fill="#111">0</text>
<line x1="318.3" y1="101.3" x2="318.3" y2="103.1" stroke="#666" stroke-width="0.6"/>
<text x="318.3" y="108.8" font-size="5.0" text-anchor="middle" fill="#111">10</text>
<line x1="343.7" y1="101.3" x2="343.7" y2="103.1" stroke="#666" stroke-width="0.6"/>
<text x="343.7" y="108.8" font-size="5.0" text-anchor="middle" fill="#111">20</text>
<line x1="369" y1="101.3" x2="369" y2="103.1" stroke="#666" stroke-width="0.6"/>
<text x="369" y="108.8" font-size="5.0" text-anchor="middle" fill="#111">30</text>
<line x1="394.4" y1="101.3" x2="394.4" y2="103.1" stroke="#666" stroke-width="0.6"/>
<text x="394.4" y="108.8" font-size="5.0" text-anchor="middle" fill="#111">40</text>
<line x1="419.7" y1="101.3" x2="419.7" y2="103.1" stroke="#666" stroke-width="0.6"/>
<text x="419.7" y="108.8" font-size="5.0" text-anchor="middle" fill="#111">50</text>
<line x1="286.8" y1="98" x2="288.6" y2="98" stroke="#666" stroke-width="0.6"/>
<text x="284.2" y="98" font-size="5.0" text-anchor="middle" fill="#111" transform="rotate(-90 284.2 98)">0.0</text>
<line x1="286.8" y1="85.4" x2="288.6" y2="85.4" stroke="#666" stroke-width="0.6"/>
<text x="284.2" y="85.4" font-size="5.0" text-anchor="middle" fill="#111" transform="rotate(-90 284.2 85.4)">0.1</text>
<line x1="286.8" y1="72.9" x2="288.6" y2="72.9" stroke="#666" stroke-width="0.6"/>
<text x="284.2" y="72.9" font-size="5.0" text-anchor="middle" fill="#111" transform="rotate(-90 284.2 72.9)">0.2</text>
<line x1="286.8" y1="60.3" x2="288.6" y2="60.3" stroke="#666" stroke-width="0.6"/>
<text x="284.2" y="60.3" font-size="5.0" text-anchor="middle" fill="#111" transform="rotate(-90 284.2 60.3)">0.3</text>
<line x1="286.8" y1="47.7" x2="288.6" y2="47.7" stroke="#666" stroke-width="0.6"/>
<text x="284.2" y="47.7" font-size="5.0" text-anchor="middle" fill="#111" transform="rotate(-90 284.2 47.7)">0.4</text>
<line x1="286.8" y1="35.1" x2="288.6" y2="35.1" stroke="#666" stroke-width="0.6"/>
<text x="284.2" y="35.1" font-size="5.0" text-anchor="middle" fill="#111" transform="rotate(-90 284.2 35.1)">0.5</text>
<line x1="286.8" y1="22.6" x2="288.6" y2="22.6" stroke="#666" stroke-width="0.6"/>
<text x="284.2" y="22.6" font-size="5.0" text-anchor="middle" fill="#111" transform="rotate(-90 284.2 22.6)">0.6</text>
<line x1="286.8" y1="10" x2="288.6" y2="10" stroke="#666" stroke-width="0.6"/>
<text x="284.2" y="10" font-size="5.0" text-anchor="middle" fill="#111" transform="rotate(-90 284.2 10)">0.7</text>
<text x="359.1" y="5.2" font-size="4.87" font-weight="bold" text-anchor="middle">yellow cor=0.7, p=6.3e-60</text>
<text x="359.1" y="116.7" font-size="4.75" text-anchor="middle" fill="#111">Connectivity</text>
<text x="275.5" y="54.9" font-size="4.9" text-anchor="middle" fill="#111" transform="rotate(-90 275.5 54.9)">Gene Significance</text>
<path d="M298.3 178.5h0M297.7 155.6h0M329.8 154.1h0M354.4 188.9h0M303.3 153.8h0M297.4 195.6h0M295.7 175.3h0M374.9 143.4h0M364.2 187.7h0M308.0 136.5h0M298.7 175.2h0M338.6 167.6h0M347.4 169.9h0M313.0 148.8h0M303.9 163.5h0M321.5 164.5h0M338.4 153.0h0M339.7 176.6h0M314.3 155.0h0M333.0 191.5h0M390.4 162.9h0M295.5 178.6h0M336.6 174.7h0M317.4 152.1h0M332.4 164.2h0M337.3 186.4h0M350.2 198.1h0M356.7 172.7h0M336.3 135.5h0M323.8 173.5h0M324.7 134.1h0M335.8 162.0h0M309.4 169.5h0M307.6 159.1h0M333.4 164.9h0M389.7 163.3h0M327.9 188.9h0M309.4 178.8h0M313.0 179.9h0M322.7 214.1h0M306.9 176.5h0M317.4 193.3h0M375.0 175.0h0M305.4 166.5h0M321.1 180.8h0M318.2 184.5h0M357.9 163.7h0M354.2 157.9h0M301.8 192.1h0M336.1 163.4h0M310.8 193.8h0M296.9 173.3h0M332.0 141.0h0M360.7 204.1h0M294.9 197.6h0M310.4 148.9h0M411.6 179.4h0M357.4 150.7h0M298.2 154.6h0M314.3 192.9h0M367.4 197.2h0M363.5 188.9h0M362.3 146.3h0M293.6 195.5h0M298.7 181.1h0M314.6 187.3h0M353.2 190.3h0M321.8 193.9h0M399.0 155.3h0M336.2 190.9h0M351.9 159.4h0M293.0 171.4h0M366.4 198.9h0M396.6 139.5h0M322.2 158.6h0M394.4 139.4h0M363.0 149.1h0M293.5 161.8h0M304.7 207.7h0M339.7 158.0h0M329.9 175.5h0M314.2 184.3h0M319.2 156.3h0M336.7 171.0h0M295.4 176.1h0M334.6 157.2h0M319.6 200.7h0M308.6 197.5h0M318.1 175.7h0M294.7 203.5h0M350.3 178.0h0M378.5 209.6h0M392.8 167.9h0M370.2 142.9h0M307.7 185.1h0M306.1 150.5h0M360.0 191.9h0M345.4 212.1h0M328.8 172.9h0M364.8 183.2h0M342.4 187.5h0M294.2 183.0h0M344.3 154.5h0M302.2 156.3h0M334.0 140.9h0M367.0 196.0h0M297.7 188.9h0M326.4 205.6h0M297.1 190.6h0M345.8 197.2h0M348.1 166.2h0M321.4 162.5h0M326.2 163.6h0M385.4 183.4h0M299.0 180.9h0M302.7 166.9h0M344.0 164.4h0M336.6 158.8h0M344.1 172.5h0M292.9 214.5h0M329.3 166.0h0M367.5 181.9h0M304.9 180.8h0M327.7 138.1h0M338.5 163.3h0M326.3 186.0h0M297.1 195.9h0M348.4 174.7h0M358.5 156.9h0M293.3 185.2h0M297.9 178.5h0M373.3 169.5h0M388.0 166.5h0M337.3 154.0h0M350.5 167.6h0M328.5 154.8h0M340.1 200.8h0M295.9 152.8h0M336.7 172.4h0M297.9 197.8h0M338.6 159.1h0M294.5 159.6h0M325.0 166.2h0M299.3 168.0h0M337.0 186.6h0M355.6 156.4h0M378.6 199.0h0M366.5 165.6h0M297.3 179.9h0M292.3 195.3h0M297.8 196.2h0M327.8 169.5h0M292.3 160.9h0M398.8 161.2h0M382.3 191.3h0M348.5 178.7h0M296.3 200.6h0M345.7 167.5h0M310.4 146.1h0M371.5 171.2h0M322.7 178.9h0M294.0 167.4h0M348.2 167.1h0M400.8 168.0h0M301.1 155.2h0M305.9 188.9h0M343.7 162.8h0M296.9 191.5h0M293.3 158.0h0M293.6 165.5h0M344.0 160.3h0M306.2 145.9h0M352.2 171.9h0M301.0 168.8h0M293.0 190.4h0M360.0 138.7h0M402.2 161.9h0M360.7 142.8h0M298.5 202.3h0M292.2 194.7h0M328.7 159.4h0M314.5 158.0h0M365.9 159.8h0M297.2 171.1h0M310.5 134.6h0M304.4 172.9h0M372.3 157.4h0M295.5 161.4h0M357.9 177.0h0M332.8 191.5h0M293.3 175.5h0M310.9 160.4h0M333.4 175.6h0M330.0 152.9h0M387.4 163.8h0M319.2 163.6h0M359.6 193.2h0M314.6 156.1h0M360.4 194.7h0M404.9 172.6h0M321.0 140.9h0M310.1 181.2h0M294.7 156.5h0M354.3 162.5h0M314.8 185.2h0M350.9 172.8h0M304.7 175.4h0M307.2 178.2h0M313.8 144.5h0M359.8 198.4h0M300.8 174.8h0M309.8 152.6h0M294.4 180.6h0M360.5 154.2h0M386.3 211.6h0M340.2 201.0h0M293.7 201.7h0M324.3 146.2h0M342.0 165.9h0M324.9 195.4h0M312.5 185.7h0M319.3 180.9h0M321.9 172.9h0M348.4 161.5h0M339.0 163.1h0M311.7 179.6h0M311.4 145.2h0M298.8 159.8h0M383.7 169.3h0M292.3 199.0h0M297.1 168.4h0M346.1 144.3h0M317.6 192.4h0M366.2 149.9h0M347.8 165.4h0M331.7 161.8h0M300.6 192.9h0M299.6 167.2h0M316.8 189.3h0M344.7 201.0h0M344.5 187.5h0M322.0 180.3h0M329.4 173.7h0M324.7 169.7h0M382.4 162.8h0M297.7 200.8h0M296.1 198.8h0M353.7 172.2h0M297.6 187.2h0M358.5 167.8h0M383.6 198.6h0M334.6 167.0h0M344.6 189.1h0M312.9 179.6h0M334.2 166.3h0M324.7 192.6h0M295.7 200.8h0M321.6 177.7h0M315.9 183.2h0M329.6 184.5h0M381.0 189.6h0M336.3 195.2h0M313.0 173.9h0M316.6 192.0h0M393.6 161.4h0M321.6 154.4h0M342.4 158.5h0M296.7 172.1h0M326.4 199.1h0M362.9 172.3h0M320.0 200.1h0M302.7 193.4h0M399.7 173.6h0M357.8 156.4h0M378.3 164.6h0M311.6 174.6h0M294.6 206.8h0M377.9 167.5h0M315.4 203.9h0M341.8 183.5h0M347.4 145.5h0M353.9 142.8h0M388.9 194.8h0M295.1 182.9h0M344.8 173.6h0M352.7 193.2h0M373.0 190.1h0M319.6 151.2h0M356.1 143.8h0M302.2 169.6h0M330.0 158.2h0M350.7 180.9h0M315.8 186.5h0M294.3 193.9h0M309.1 203.3h0M298.4 180.6h0M365.9 182.9h0M378.8 161.5h0M310.2 136.6h0M314.5 177.8h0M293.0 174.7h0M294.8 182.5h0M335.8 200.6h0M327.8 153.1h0M339.6 154.6h0M309.0 184.0h0M350.3 179.5h0M378.5 166.8h0M320.3 158.9h0M323.1 203.0h0M297.1 159.7h0M331.2 170.5h0M322.2 167.5h0M313.6 197.3h0M301.3 200.1h0M329.2 161.5h0M373.8 142.3h0M316.3 172.5h0M325.1 180.8h0M297.0 193.5h0M293.6 179.8h0M407.1 179.4h0M325.2 190.7h0M329.5 160.0h0M383.9 179.0h0M292.9 165.7h0M325.2 169.8h0M331.2 192.6h0M360.8 170.3h0M296.7 194.2h0M296.2 195.8h0M345.9 156.3h0M342.4 186.8h0M352.7 174.0h0M307.3 158.4h0M379.8 162.8h0M346.4 142.7h0M299.3 163.9h0M323.6 162.7h0M302.2 166.9h0M372.3 169.2h0M295.6 207.8h0M296.2 170.0h0M305.1 143.8h0M377.2 190.1h0M376.1 172.2h0M325.0 169.9h0M293.8 197.4h0M308.4 147.0h0M299.6 188.8h0M347.8 171.7h0M364.1 205.5h0M345.7 161.6h0M294.5 186.2h0M353.3 134.7h0M292.2 186.7h0M306.7 189.7h0M298.3 190.4h0M334.8 155.6h0M380.9 152.3h0M368.4 156.1h0M293.9 181.7h0M357.0 198.4h0M303.1 183.9h0M328.4 151.3h0M375.2 186.1h0M307.2 192.4h0M402.2 187.9h0M315.4 178.1h0M316.6 199.1h0M362.3 175.2h0M409.6 183.1h0M292.2 187.3h0M318.4 162.0h0M293.8 164.0h0M323.4 182.4h0M298.2 194.4h0M360.5 178.7h0M296.2 179.9h0M297.7 157.0h0M361.5 184.7h0M296.2 179.8h0M303.5 211.8h0M407.1 187.0h0M297.3 165.1h0M326.6 183.3h0M306.5 163.3h0M334.6 147.1h0M313.1 177.3h0M320.6 171.0h0M334.7 189.3h0M298.2 183.1h0M339.7 144.4h0M322.3 167.0h0M303.1 182.0h0M333.8 202.7h0M328.4 209.4h0M333.6 182.7h0M304.1 142.6h0M299.7 186.7h0M308.8 162.6h0M297.9 189.0h0M303.3 187.5h0M297.3 199.5h0M375.0 156.1h0M369.9 204.8h0M333.9 202.6h0M294.2 200.9h0M308.2 162.2h0M292.4 195.2h0M334.9 186.9h0M294.8 170.2h0M350.9 193.5h0M293.8 197.4h0M306.6 171.2h0M297.8 190.0h0M336.2 201.3h0M317.6 193.5h0M326.8 166.3h0M315.0 154.8h0M292.7 149.5h0M331.8 141.9h0M401.5 154.9h0M344.5 186.2h0M321.2 197.2h0M374.2 192.3h0M305.7 179.9h0M395.2 177.3h0M307.3 199.5h0M376.6 185.9h0M293.6 175.9h0M377.9 163.3h0M323.6 160.5h0M328.4 196.2h0M402.0 178.7h0M319.3 200.9h0M310.8 186.0h0M344.1 161.4h0M333.0 195.5h0M294.5 203.0h0M379.4 150.6h0M317.9 202.2h0M329.4 163.7h0M374.2 166.1h0M293.4 177.9h0M346.4 138.1h0M342.9 202.0h0M349.0 191.8h0M377.6 147.7h0M380.3 179.6h0M294.7 192.5h0M341.7 152.4h0M324.9 191.9h0M361.9 199.7h0M296.8 203.8h0M348.6 184.3h0M293.7 162.4h0M296.9 173.9h0M293.2 188.4h0M322.5 162.5h0M292.6 172.2h0M311.5 187.2h0M305.5 177.5h0M305.8 152.9h0M317.1 164.9h0M294.3 182.5h0M368.6 167.8h0M338.5 155.5h0M364.4 181.8h0M410.7 166.2h0M361.4 172.0h0M343.4 195.5h0M296.8 188.3h0M360.7 178.3h0M293.6 175.1h0M292.2 164.0h0M336.8 144.8h0M371.9 194.5h0M307.3 152.5h0M295.8 170.2h0" stroke="#e8404e" stroke-width="2.2" stroke-linecap="round" opacity="0.62"/>
<line x1="288.5" y1="180.2" x2="429.6" y2="159.6" stroke="#333" stroke-width="0.6"/>
<rect x="288.5" y="128.3" width="141.1" height="93" fill="none" stroke="#666" stroke-width="0.7"/>
<line x1="292.1" y1="221.3" x2="292.1" y2="223.1" stroke="#666" stroke-width="0.6"/>
<text x="292.1" y="228.8" font-size="5.0" text-anchor="middle" fill="#111">0</text>
<line x1="311.1" y1="221.3" x2="311.1" y2="223.1" stroke="#666" stroke-width="0.6"/>
<text x="311.1" y="228.8" font-size="5.0" text-anchor="middle" fill="#111">10</text>
<line x1="330.2" y1="221.3" x2="330.2" y2="223.1" stroke="#666" stroke-width="0.6"/>
<text x="330.2" y="228.8" font-size="5.0" text-anchor="middle" fill="#111">20</text>
<line x1="349.2" y1="221.3" x2="349.2" y2="223.1" stroke="#666" stroke-width="0.6"/>
<text x="349.2" y="228.8" font-size="5.0" text-anchor="middle" fill="#111">30</text>
<line x1="368.3" y1="221.3" x2="368.3" y2="223.1" stroke="#666" stroke-width="0.6"/>
<text x="368.3" y="228.8" font-size="5.0" text-anchor="middle" fill="#111">40</text>
<line x1="387.3" y1="221.3" x2="387.3" y2="223.1" stroke="#666" stroke-width="0.6"/>
<text x="387.3" y="228.8" font-size="5.0" text-anchor="middle" fill="#111">50</text>
<line x1="406.3" y1="221.3" x2="406.3" y2="223.1" stroke="#666" stroke-width="0.6"/>
<text x="406.3" y="228.8" font-size="5.0" text-anchor="middle" fill="#111">60</text>
<line x1="425.4" y1="221.3" x2="425.4" y2="223.1" stroke="#666" stroke-width="0.6"/>
<text x="425.4" y="228.8" font-size="5.0" text-anchor="middle" fill="#111">70</text>
<line x1="286.7" y1="219" x2="288.5" y2="219" stroke="#666" stroke-width="0.6"/>
<text x="284.1" y="219" font-size="5.0" text-anchor="middle" fill="#111" transform="rotate(-90 284.1 219)">0.0</text>
<line x1="286.7" y1="205" x2="288.5" y2="205" stroke="#666" stroke-width="0.6"/>
<text x="284.1" y="205" font-size="5.0" text-anchor="middle" fill="#111" transform="rotate(-90 284.1 205)">0.1</text>
<line x1="286.7" y1="191" x2="288.5" y2="191" stroke="#666" stroke-width="0.6"/>
<text x="284.1" y="191" font-size="5.0" text-anchor="middle" fill="#111" transform="rotate(-90 284.1 191)">0.2</text>
<line x1="286.7" y1="177" x2="288.5" y2="177" stroke="#666" stroke-width="0.6"/>
<text x="284.1" y="177" font-size="5.0" text-anchor="middle" fill="#111" transform="rotate(-90 284.1 177)">0.3</text>
<line x1="286.7" y1="163" x2="288.5" y2="163" stroke="#666" stroke-width="0.6"/>
<text x="284.1" y="163" font-size="5.0" text-anchor="middle" fill="#111" transform="rotate(-90 284.1 163)">0.4</text>
<line x1="286.7" y1="149" x2="288.5" y2="149" stroke="#666" stroke-width="0.6"/>
<text x="284.1" y="149" font-size="5.0" text-anchor="middle" fill="#111" transform="rotate(-90 284.1 149)">0.5</text>
<line x1="286.7" y1="135" x2="288.5" y2="135" stroke="#666" stroke-width="0.6"/>
<text x="284.1" y="135" font-size="5.0" text-anchor="middle" fill="#111" transform="rotate(-90 284.1 135)">0.6</text>
<text x="359.1" y="124.8" font-size="4.87" font-weight="bold" text-anchor="middle">red cor=0.3, p=9.5e-11</text>
<text x="359.1" y="236.7" font-size="4.75" text-anchor="middle" fill="#111">Connectivity</text>
<text x="275.5" y="174.8" font-size="4.9" text-anchor="middle" fill="#111" transform="rotate(-90 275.5 174.8)">Gene Significance</text>
<path d="M373.8 296.9h0M300.6 320.8h0M336.7 289.8h0M319.6 295.8h0M294.0 318.3h0M295.0 286.8h0M295.9 302.8h0M344.3 306.0h0M300.7 302.4h0M373.0 318.9h0M309.5 298.7h0M301.4 310.9h0M295.0 338.1h0M297.1 305.2h0M293.2 330.7h0M319.2 307.1h0M296.0 298.1h0M304.3 335.1h0M298.4 292.4h0M302.9 323.0h0M348.8 322.8h0M308.2 335.7h0M353.9 274.9h0M295.8 286.5h0M315.6 335.1h0M297.0 289.6h0M320.2 284.5h0M296.5 303.7h0M307.2 293.6h0M331.5 289.4h0M299.5 308.1h0M314.3 305.9h0M296.0 311.9h0M348.2 295.0h0M299.0 274.2h0M296.9 333.5h0M306.4 298.1h0M349.4 323.0h0M354.6 276.5h0M325.8 299.7h0M387.4 276.7h0M339.9 299.9h0M414.1 290.5h0M329.0 294.2h0M304.0 315.8h0M293.8 310.9h0M362.7 289.1h0M307.6 315.9h0M357.1 328.2h0M404.1 269.9h0M305.0 291.5h0M320.6 281.3h0M295.4 294.9h0M361.1 303.8h0M339.1 296.8h0M305.0 306.3h0M322.7 316.5h0M362.2 286.8h0M301.3 279.1h0M294.9 340.7h0M295.5 288.0h0M340.3 299.7h0M299.4 328.3h0M371.8 315.4h0M312.4 286.9h0M313.8 293.6h0M297.5 321.9h0M294.9 320.4h0M360.0 279.6h0M328.4 326.3h0M296.7 330.9h0M309.8 318.7h0M314.0 294.6h0M294.5 326.8h0M326.6 283.8h0M349.3 312.9h0M317.8 292.8h0M308.9 291.9h0M319.5 315.2h0M349.9 320.2h0M293.7 287.0h0M297.4 303.4h0M321.5 281.6h0M305.8 281.2h0M302.5 314.9h0M304.1 296.2h0M344.3 317.4h0M365.9 295.1h0M327.8 291.4h0M334.9 282.6h0M313.9 304.8h0M350.9 287.3h0M361.8 310.6h0M336.5 306.0h0M318.5 317.4h0M297.5 300.1h0M329.7 267.8h0M299.2 321.8h0M354.7 273.5h0M313.7 287.4h0M334.6 283.5h0M344.9 298.9h0M306.8 294.2h0M340.7 306.3h0M296.5 330.1h0M305.9 296.7h0M317.6 312.1h0M382.3 271.5h0M296.8 333.3h0M320.3 306.8h0M297.1 338.0h0M329.4 303.3h0M349.0 306.3h0M324.0 295.9h0M310.9 297.6h0M302.7 278.3h0M337.6 293.5h0M297.3 320.1h0M311.7 299.7h0M398.5 277.1h0M331.5 265.5h0M310.7 272.0h0M307.5 325.4h0M311.6 292.0h0M381.1 306.5h0M320.7 279.5h0M299.0 296.1h0M317.3 306.6h0M306.7 313.1h0M327.4 312.6h0M404.8 283.8h0M297.5 339.6h0M358.9 289.1h0M322.4 298.5h0M318.0 291.5h0M347.5 296.4h0M317.2 268.4h0M355.7 289.8h0M295.3 298.0h0M302.4 334.4h0M332.1 288.3h0M292.9 320.2h0M349.4 293.7h0M312.2 305.9h0M310.8 263.2h0M388.2 266.8h0M363.4 289.5h0M391.5 308.9h0M402.1 287.6h0M305.8 309.0h0M303.0 316.3h0M296.9 311.8h0M310.5 278.7h0M331.3 286.7h0M317.6 319.3h0M297.5 344.7h0M360.8 282.3h0M305.3 295.9h0M297.3 303.3h0M303.0 307.4h0M296.5 303.4h0M403.6 292.6h0M356.9 288.9h0M311.8 308.5h0M300.5 322.4h0M295.4 305.7h0M293.7 297.9h0M293.2 327.0h0M297.3 329.3h0M297.0 299.1h0M358.6 289.9h0M297.5 300.9h0M304.9 308.7h0M326.5 299.2h0M417.2 267.8h0M307.7 309.8h0M313.5 294.2h0M297.1 308.5h0M296.4 289.4h0M293.6 325.0h0M326.7 263.4h0M303.9 302.9h0M353.0 282.3h0M310.5 307.3h0M363.6 301.7h0M339.2 291.4h0M317.3 284.4h0M336.9 286.9h0M344.3 295.3h0M314.0 267.5h0M311.8 311.8h0M311.4 325.0h0M304.0 302.1h0M357.6 278.5h0M330.0 297.4h0M297.6 305.6h0M332.7 323.0h0M325.7 295.6h0M378.3 299.2h0M295.8 301.9h0M309.4 278.0h0M311.5 317.9h0M324.0 285.5h0M307.0 326.0h0M318.2 298.2h0M306.4 294.9h0M338.1 269.2h0M301.5 283.9h0M318.3 280.0h0M372.8 314.1h0M321.8 283.2h0M296.8 300.7h0M302.1 311.2h0M398.4 277.3h0M327.9 269.7h0M339.1 293.4h0M388.8 285.7h0M312.5 332.8h0M329.5 299.6h0M328.4 276.7h0M297.2 306.7h0M327.2 295.9h0M367.3 273.3h0M295.0 296.1h0M347.6 301.6h0M315.9 324.5h0M298.6 302.9h0M304.5 337.5h0M298.4 303.1h0M300.7 284.9h0M308.6 337.8h0M370.8 311.7h0M326.8 316.2h0M304.3 319.9h0M315.5 306.2h0M348.2 284.9h0M331.9 309.6h0M293.2 294.4h0M344.4 317.7h0M322.4 306.6h0M304.5 286.9h0M324.0 290.5h0M311.6 315.3h0M343.8 292.6h0M383.5 275.3h0M322.6 322.5h0M297.6 332.9h0M295.6 295.0h0M317.1 319.2h0M338.5 301.1h0M338.6 291.4h0M313.3 288.6h0M305.5 304.5h0M293.2 295.8h0M346.9 269.8h0M329.0 308.3h0M377.8 273.7h0M306.0 310.5h0M296.2 289.3h0M312.4 306.3h0M299.3 305.4h0M332.1 296.6h0M294.5 321.6h0M319.1 331.0h0M304.0 279.3h0M331.4 296.3h0M294.1 312.9h0M298.0 328.9h0M334.4 303.8h0M292.9 301.6h0M298.6 320.3h0M306.4 329.7h0M354.7 335.7h0M324.0 293.4h0M392.9 275.3h0M339.7 282.9h0M327.4 288.0h0M343.8 291.0h0M314.1 318.7h0M332.9 325.6h0M304.8 308.2h0M294.5 314.2h0M349.6 314.8h0M313.5 312.2h0M332.0 279.0h0M294.2 304.6h0M322.6 280.2h0M293.8 282.5h0M299.2 312.0h0M342.6 321.4h0M311.9 291.9h0M293.1 294.8h0M313.7 313.0h0M324.7 322.2h0M305.7 334.5h0M396.9 282.2h0M315.3 314.9h0M301.0 308.9h0M398.4 260.2h0M327.5 310.3h0M335.6 297.0h0M293.2 312.3h0M296.3 330.9h0M297.7 292.4h0M294.1 307.8h0M329.3 303.0h0M329.1 282.9h0M300.1 326.6h0M367.9 288.7h0M331.4 281.9h0M293.1 320.9h0M316.1 322.2h0M383.4 307.4h0M357.1 336.0h0M296.4 325.2h0M298.9 295.2h0M345.7 306.4h0M293.2 297.3h0M296.4 299.2h0M412.3 259.9h0M349.4 308.4h0M324.3 271.1h0M300.8 334.4h0M300.6 295.8h0M321.9 286.9h0M322.1 307.3h0M297.5 274.9h0M391.8 280.8h0M323.6 329.1h0M333.4 311.2h0M293.4 301.4h0M302.7 299.6h0M349.7 297.8h0M296.2 304.4h0M333.5 280.0h0M295.7 284.4h0M363.7 311.2h0M293.3 320.1h0M307.1 297.5h0M331.6 295.8h0M298.8 307.0h0M294.0 324.0h0M337.0 300.2h0M320.1 297.4h0M318.5 278.7h0M293.6 310.5h0M305.9 309.8h0M313.6 294.4h0M339.8 260.4h0M293.6 288.8h0M335.0 288.0h0M312.4 297.3h0M296.7 330.6h0M344.2 308.3h0M330.2 281.4h0M305.6 302.5h0M310.5 301.8h0M316.3 322.1h0M322.9 298.6h0M297.5 285.0h0M293.0 315.8h0M303.8 291.5h0M342.1 299.6h0M323.0 282.1h0M341.7 318.4h0M311.3 292.4h0M309.7 296.5h0M340.0 287.4h0M299.5 305.4h0M348.3 267.3h0M369.7 293.4h0M365.6 324.4h0M301.6 281.1h0M326.9 314.5h0M305.5 308.0h0M302.7 307.7h0M297.2 328.6h0M382.1 279.0h0M306.2 282.8h0M308.1 309.1h0M294.8 307.8h0M321.0 303.6h0M294.2 340.4h0M295.5 312.9h0M325.3 320.8h0M293.0 334.0h0M310.6 301.3h0M317.7 292.9h0M325.0 286.3h0M292.9 308.2h0M312.7 277.0h0M314.9 265.3h0M294.6 332.6h0M295.8 295.4h0M346.0 307.3h0M337.3 289.7h0M327.7 311.5h0M342.5 293.1h0M293.6 292.2h0M357.3 288.0h0M297.5 294.7h0M295.6 320.0h0M292.9 325.7h0M301.9 294.7h0M340.0 297.5h0M294.4 310.1h0M334.2 296.0h0M295.7 338.7h0M296.8 293.1h0M302.0 292.6h0M297.5 303.0h0M314.5 293.5h0M327.7 303.8h0M311.3 292.1h0M323.8 289.3h0M412.6 300.6h0M317.3 326.8h0M295.5 304.6h0M301.9 315.6h0M302.0 303.0h0M340.0 302.1h0M374.9 314.7h0M311.6 282.3h0M325.0 309.7h0M391.8 301.7h0M307.2 285.4h0M303.9 303.6h0M328.6 311.3h0M335.1 312.1h0M403.8 277.0h0M295.2 292.0h0M326.0 319.7h0M362.1 294.3h0M300.9 305.9h0M346.0 281.4h0M301.0 290.4h0M362.0 275.8h0M324.1 289.9h0M295.5 329.9h0M296.6 329.9h0M303.5 279.2h0M294.5 305.9h0M335.7 292.3h0M343.9 288.1h0M338.5 300.7h0M350.7 316.4h0M298.4 317.9h0M298.6 276.8h0M341.3 291.5h0M318.1 300.9h0M311.8 298.7h0M332.4 287.8h0M305.9 300.6h0M333.6 308.8h0M318.5 326.6h0M346.8 291.8h0M307.6 289.7h0M338.2 331.5h0M314.8 309.4h0M341.1 291.8h0M316.1 294.5h0M335.4 307.4h0M333.4 289.4h0M302.6 287.9h0M305.7 309.9h0M311.9 298.1h0M340.9 306.7h0M318.0 277.3h0M305.8 284.5h0M342.0 312.2h0M401.1 271.6h0M312.3 340.4h0M316.1 308.4h0M300.9 307.3h0M295.0 334.6h0M353.3 298.0h0M316.9 306.2h0M303.4 305.2h0M304.2 284.1h0M302.7 308.6h0M364.7 318.7h0M409.9 308.5h0M309.0 297.1h0M296.9 326.5h0M311.0 273.8h0M376.1 313.1h0M294.9 294.0h0M303.9 286.9h0M301.0 320.1h0M361.6 283.5h0M397.7 263.8h0M296.2 315.6h0M337.3 309.5h0M297.0 304.7h0M295.6 318.6h0M313.8 325.3h0M306.9 290.7h0M301.7 301.1h0M351.9 300.6h0M398.2 293.8h0M304.0 299.4h0M321.8 292.1h0M323.0 302.3h0M358.4 277.4h0M305.2 304.7h0M365.0 332.8h0M318.7 335.7h0M297.6 314.1h0M294.7 337.0h0M314.2 288.6h0M325.3 312.3h0M305.8 277.7h0M312.2 281.0h0M323.2 312.0h0M326.7 323.0h0M305.3 338.2h0M311.0 323.0h0M359.9 306.5h0M301.2 279.0h0M381.9 281.0h0M331.3 310.5h0M292.9 284.6h0M318.9 309.9h0M315.1 292.1h0M303.7 300.6h0M397.5 289.7h0M338.2 269.7h0M313.0 313.9h0M326.0 309.3h0M381.5 269.1h0M336.3 296.5h0M294.7 303.4h0M322.4 265.6h0M311.5 315.3h0M305.5 284.9h0M331.3 269.3h0M300.3 280.3h0M362.6 287.4h0M319.1 289.3h0M309.4 330.5h0M319.6 295.6h0M333.9 281.3h0M294.6 322.0h0M345.7 285.8h0M295.0 305.4h0M296.8 326.7h0M320.4 300.9h0M300.1 320.6h0M325.4 293.2h0M305.5 320.5h0M294.8 317.5h0M308.5 265.3h0M295.7 306.6h0M404.2 287.4h0M293.6 299.0h0M326.7 297.0h0M308.7 276.0h0M380.9 267.1h0M307.7 313.4h0M332.3 312.6h0M361.0 283.7h0M293.7 327.7h0M308.1 315.8h0M315.0 291.4h0M315.5 300.9h0M321.4 297.6h0M294.9 291.0h0M316.3 307.5h0M300.3 288.5h0M322.1 293.7h0M303.4 321.1h0M296.9 300.7h0M317.0 275.6h0M316.9 316.1h0M308.6 336.8h0M303.3 294.9h0M297.5 273.5h0M296.6 301.1h0M341.7 303.6h0M310.8 291.4h0M331.4 293.2h0M334.0 299.9h0M308.7 302.1h0M317.4 291.4h0M293.3 285.6h0M352.3 298.4h0M294.0 322.6h0M296.2 297.1h0M295.1 323.3h0M312.8 297.5h0M303.4 321.0h0M306.7 331.4h0M304.7 290.1h0M295.5 295.8h0M340.3 300.1h0M303.2 285.6h0M318.7 311.3h0M295.1 307.3h0M312.9 305.4h0M324.5 305.1h0M297.4 291.9h0M300.0 309.8h0M305.4 306.1h0M360.1 281.2h0M323.6 301.9h0M327.8 305.1h0M314.1 296.0h0M297.5 270.6h0M313.9 280.5h0M383.1 308.3h0M340.1 290.6h0M299.6 301.6h0M313.5 308.1h0M311.8 300.3h0M295.8 291.8h0M297.2 324.9h0M324.8 313.3h0M317.2 290.9h0M344.6 322.1h0M331.8 300.9h0M350.7 282.6h0M413.4 280.3h0M399.6 285.4h0M305.0 320.7h0M297.8 307.5h0M300.1 283.6h0M323.9 310.7h0M303.1 316.0h0M336.7 288.2h0M310.7 332.4h0M310.9 278.4h0M349.3 290.3h0M323.3 310.6h0M321.4 321.0h0M370.2 314.1h0M321.5 291.0h0M302.5 281.2h0M293.4 291.9h0M294.8 297.4h0M298.4 307.3h0M317.2 309.4h0M341.1 286.9h0M314.6 322.7h0M319.0 281.2h0M309.4 280.7h0M316.2 297.5h0M310.5 328.4h0M315.6 310.9h0M296.6 317.9h0M293.2 323.8h0M322.9 299.8h0M306.8 312.1h0M347.3 288.0h0M295.5 343.9h0M303.5 319.0h0M315.6 301.2h0M295.4 336.7h0M309.6 316.0h0M358.3 294.0h0M371.8 296.6h0M308.8 311.8h0M315.0 328.6h0M348.2 300.6h0M298.2 300.8h0M363.5 272.2h0M308.2 339.2h0M306.2 300.5h0M321.2 297.2h0M302.4 291.0h0M293.5 280.6h0M322.0 298.9h0M293.1 298.7h0M353.6 299.2h0M311.4 290.6h0M321.9 285.0h0M323.7 279.0h0M306.2 329.5h0M342.5 332.5h0M300.5 318.1h0M313.7 310.9h0M314.9 268.6h0M302.1 323.3h0M343.3 316.9h0M344.1 268.7h0M320.2 296.5h0M358.6 267.1h0M356.5 273.6h0M293.3 304.1h0M337.6 311.5h0M296.3 318.9h0M305.6 283.4h0M313.7 314.4h0M313.7 300.4h0M334.8 291.5h0M317.3 274.2h0M312.9 290.9h0M318.0 272.9h0M350.8 279.7h0M320.9 319.9h0M352.7 274.3h0M293.1 310.3h0M373.6 263.2h0M309.3 303.0h0M294.4 313.9h0M345.4 299.9h0M305.7 302.6h0M364.6 301.9h0M340.9 269.1h0M310.8 302.0h0M320.5 327.8h0M293.8 324.1h0M362.2 277.6h0M365.6 264.4h0M331.0 298.9h0M313.6 309.3h0M380.7 274.0h0M314.0 267.8h0M295.3 298.4h0M333.1 305.7h0M396.3 301.2h0M297.3 274.4h0M313.2 301.7h0M340.9 285.1h0M334.1 326.1h0M350.7 279.4h0M320.7 309.3h0M346.7 282.4h0M306.5 265.2h0M313.3 308.2h0M331.2 299.7h0M347.0 305.1h0M346.7 319.4h0M387.3 303.7h0M347.5 309.4h0M308.0 286.6h0M370.9 288.6h0M305.6 286.6h0M338.1 299.3h0M308.0 315.9h0M317.7 309.9h0M317.2 315.9h0M296.0 319.8h0M308.1 293.4h0M327.5 295.8h0M301.3 344.1h0M315.5 300.0h0M303.7 279.4h0M309.8 300.7h0M324.3 330.2h0M338.2 281.9h0M293.5 314.0h0M303.3 260.0h0M331.8 301.7h0M296.5 299.0h0M309.5 314.4h0M294.1 327.1h0M338.2 280.5h0M316.7 304.3h0M335.4 302.4h0M316.1 319.0h0" stroke="#a83444" stroke-width="2.2" stroke-linecap="round" opacity="0.68"/>
<line x1="288.5" y1="307.5" x2="428.6" y2="275.4" stroke="#333" stroke-width="0.6"/>
<rect x="288.5" y="255.4" width="140" height="92.8" fill="none" stroke="#666" stroke-width="0.7"/>
<line x1="292.9" y1="348.2" x2="292.9" y2="350" stroke="#666" stroke-width="0.6"/>
<text x="292.9" y="355.7" font-size="5.0" text-anchor="middle" fill="#111">0</text>
<line x1="324.2" y1="348.2" x2="324.2" y2="350" stroke="#666" stroke-width="0.6"/>
<text x="324.2" y="355.7" font-size="5.0" text-anchor="middle" fill="#111">20</text>
<line x1="355.5" y1="348.2" x2="355.5" y2="350" stroke="#666" stroke-width="0.6"/>
<text x="355.5" y="355.7" font-size="5.0" text-anchor="middle" fill="#111">40</text>
<line x1="386.8" y1="348.2" x2="386.8" y2="350" stroke="#666" stroke-width="0.6"/>
<text x="386.8" y="355.7" font-size="5.0" text-anchor="middle" fill="#111">60</text>
<line x1="418.1" y1="348.2" x2="418.1" y2="350" stroke="#666" stroke-width="0.6"/>
<text x="418.1" y="355.7" font-size="5.0" text-anchor="middle" fill="#111">80</text>
<line x1="286.7" y1="345" x2="288.5" y2="345" stroke="#666" stroke-width="0.6"/>
<text x="284.1" y="345" font-size="5.0" text-anchor="middle" fill="#111" transform="rotate(-90 284.1 345)">0.0</text>
<line x1="286.7" y1="331.2" x2="288.5" y2="331.2" stroke="#666" stroke-width="0.6"/>
<text x="284.1" y="331.2" font-size="5.0" text-anchor="middle" fill="#111" transform="rotate(-90 284.1 331.2)">0.1</text>
<line x1="286.7" y1="317.4" x2="288.5" y2="317.4" stroke="#666" stroke-width="0.6"/>
<text x="284.1" y="317.4" font-size="5.0" text-anchor="middle" fill="#111" transform="rotate(-90 284.1 317.4)">0.2</text>
<line x1="286.7" y1="303.6" x2="288.5" y2="303.6" stroke="#666" stroke-width="0.6"/>
<text x="284.1" y="303.6" font-size="5.0" text-anchor="middle" fill="#111" transform="rotate(-90 284.1 303.6)">0.3</text>
<line x1="286.7" y1="289.8" x2="288.5" y2="289.8" stroke="#666" stroke-width="0.6"/>
<text x="284.1" y="289.8" font-size="5.0" text-anchor="middle" fill="#111" transform="rotate(-90 284.1 289.8)">0.4</text>
<line x1="286.7" y1="276" x2="288.5" y2="276" stroke="#666" stroke-width="0.6"/>
<text x="284.1" y="276" font-size="5.0" text-anchor="middle" fill="#111" transform="rotate(-90 284.1 276)">0.5</text>
<line x1="286.7" y1="262.2" x2="288.5" y2="262.2" stroke="#666" stroke-width="0.6"/>
<text x="284.1" y="262.2" font-size="5.0" text-anchor="middle" fill="#111" transform="rotate(-90 284.1 262.2)">0.6</text>
<text x="358.5" y="251.9" font-size="4.87" font-weight="bold" text-anchor="middle">brown cor=0.39, p=4.3e-33</text>
<text x="358.5" y="362.8" font-size="4.75" text-anchor="middle" fill="#111">Connectivity</text>
<text x="275.5" y="301.8" font-size="4.9" text-anchor="middle" fill="#111" transform="rotate(-90 275.5 301.8)">Gene Significance</text>
<clipPath id="dc1"><path d="M476 99.5C477.0 99.4 480.0 99.3 482 99C484.0 98.7 486.0 98.2 488 97.5C490.0 96.8 492.2 96.2 493.8 95C495.4 93.8 495.8 92.4 497.5 90.5C499.2 88.6 501.9 85.7 504 83.5C506.1 81.3 508.3 79.0 510 77.5C511.7 76.0 512.2 75.3 514 74.2C515.8 73.1 518.7 72.5 521 71C523.3 69.5 525.8 67.5 528 65C530.2 62.5 532.2 59.5 534 56C535.8 52.5 537.3 48.3 539 44C540.7 39.7 542.3 34.2 544 30C545.7 25.8 547.3 22.0 549 19C550.7 16.0 552.5 13.4 554 12C555.5 10.6 556.7 10.3 558 10.3C559.3 10.3 560.5 10.6 562 12C563.5 13.4 565.2 15.7 567 19C568.8 22.3 570.8 27.2 573 32C575.2 36.8 577.8 43.0 580 48C582.2 53.0 584.0 57.5 586 62C588.0 66.5 590.0 71.0 592 75C594.0 79.0 596.0 83.0 598 86C600.0 89.0 602.0 91.2 604 93C606.0 94.8 607.7 96.0 610 97C612.3 98.0 614.7 98.6 618 99C621.3 99.4 625.5 99.4 630 99.5C634.5 99.6 642.5 99.5 645 99.5L645 99.5L476 99.5Z"/></clipPath>
<path d="M487.30 95.00h8.75V99.5h-8.75ZM495.20 88.60h8.75V99.5h-8.75ZM504.00 80.40h8.75V99.5h-8.75ZM512.70 73.10h8.75V99.5h-8.75ZM521.50 73.10h8.75V99.5h-8.75ZM530.30 56.10h8.75V99.5h-8.75ZM539.00 28.60h8.75V99.5h-8.75ZM547.30 15.20h8.75V99.5h-8.75ZM556.00 7.20h8.75V99.5h-8.75ZM564.20 26.20h8.75V99.5h-8.75ZM573.00 43.20h8.75V99.5h-8.75ZM581.50 60.90h8.75V99.5h-8.75ZM590.20 84.70h8.75V99.5h-8.75ZM598.70 94.70h8.75V99.5h-8.75ZM607.20 98.90h8.75V99.5h-8.75ZM616.00 99.20h8.75V99.5h-8.75Z" fill="#555"/>
<path d="M487.30 95.00h8.75V99.5h-8.75ZM495.20 88.60h8.75V99.5h-8.75ZM504.00 80.40h8.75V99.5h-8.75ZM512.70 73.10h8.75V99.5h-8.75ZM521.50 73.10h8.75V99.5h-8.75ZM530.30 56.10h8.75V99.5h-8.75ZM539.00 28.60h8.75V99.5h-8.75ZM547.30 15.20h8.75V99.5h-8.75ZM556.00 7.20h8.75V99.5h-8.75ZM564.20 26.20h8.75V99.5h-8.75ZM573.00 43.20h8.75V99.5h-8.75ZM581.50 60.90h8.75V99.5h-8.75ZM590.20 84.70h8.75V99.5h-8.75ZM598.70 94.70h8.75V99.5h-8.75ZM607.20 98.90h8.75V99.5h-8.75ZM616.00 99.20h8.75V99.5h-8.75Z" fill="#767676" clip-path="url(#dc1)"/>
<path d="M476 99.5C477.0 99.4 480.0 99.3 482 99C484.0 98.7 486.0 98.2 488 97.5C490.0 96.8 492.2 96.2 493.8 95C495.4 93.8 495.8 92.4 497.5 90.5C499.2 88.6 501.9 85.7 504 83.5C506.1 81.3 508.3 79.0 510 77.5C511.7 76.0 512.2 75.3 514 74.2C515.8 73.1 518.7 72.5 521 71C523.3 69.5 525.8 67.5 528 65C530.2 62.5 532.2 59.5 534 56C535.8 52.5 537.3 48.3 539 44C540.7 39.7 542.3 34.2 544 30C545.7 25.8 547.3 22.0 549 19C550.7 16.0 552.5 13.4 554 12C555.5 10.6 556.7 10.3 558 10.3C559.3 10.3 560.5 10.6 562 12C563.5 13.4 565.2 15.7 567 19C568.8 22.3 570.8 27.2 573 32C575.2 36.8 577.8 43.0 580 48C582.2 53.0 584.0 57.5 586 62C588.0 66.5 590.0 71.0 592 75C594.0 79.0 596.0 83.0 598 86C600.0 89.0 602.0 91.2 604 93C606.0 94.8 607.7 96.0 610 97C612.3 98.0 614.7 98.6 618 99C621.3 99.4 625.5 99.4 630 99.5C634.5 99.6 642.5 99.5 645 99.5" fill="none" stroke="#c4c4c4" stroke-width="0.6"/>
<path d="M495.20 88.60V99.5M504.00 80.40V99.5M512.70 73.10V99.5M521.50 73.10V99.5M530.30 56.10V99.5M539.00 28.60V99.5M547.30 15.20V99.5M556.00 7.20V99.5M564.20 26.20V99.5M573.00 43.20V99.5M581.50 60.90V99.5M590.20 84.70V99.5M598.70 94.70V99.5M607.20 98.90V99.5M616.00 99.20V99.5" stroke="#9c9c9c" stroke-width="0.5"/>
<line x1="469.5" y1="2" x2="469.5" y2="104" stroke="#666" stroke-width="0.7"/>
<line x1="469.5" y1="104" x2="668" y2="104" stroke="#666" stroke-width="0.7"/>
<line x1="468" y1="14.4" x2="469.5" y2="14.4" stroke="#444" stroke-width="0.5"/>
<text x="467.8" y="16.2" font-size="5" font-weight="bold" text-anchor="end">0.015</text>
<line x1="468" y1="42.7" x2="469.5" y2="42.7" stroke="#444" stroke-width="0.5"/>
<text x="467.8" y="44.5" font-size="5" font-weight="bold" text-anchor="end">0.010</text>
<line x1="468" y1="71.3" x2="469.5" y2="71.3" stroke="#444" stroke-width="0.5"/>
<text x="467.8" y="73.1" font-size="5" font-weight="bold" text-anchor="end">0.005</text>
<line x1="468" y1="99.5" x2="469.5" y2="99.5" stroke="#444" stroke-width="0.5"/>
<text x="467.8" y="101.3" font-size="5" font-weight="bold" text-anchor="end">0.000</text>
<text x="478.9" y="109" font-size="5" font-weight="bold" text-anchor="middle">0</text>
<text x="521.5" y="109" font-size="5" font-weight="bold" text-anchor="middle">50</text>
<text x="564.5" y="109" font-size="5" font-weight="bold" text-anchor="middle">100</text>
<text x="607" y="109" font-size="5" font-weight="bold" text-anchor="middle">150</text>
<text x="650.4" y="109" font-size="5" font-weight="bold" text-anchor="middle">200</text>
<line x1="645.6" y1="3" x2="645.6" y2="104" stroke="#e05050" stroke-width="0.6" stroke-dasharray="1 1"/>
<text x="585.4" y="15" font-size="11.5" font-weight="bold">Z=4.05,</text>
<text x="585.4" y="28.7" font-size="11.5" font-weight="bold">p value=2.5e-5</text>
<text x="455.2" y="52.5" font-size="6.5" font-weight="bold" text-anchor="middle" fill="#222" transform="rotate(-90 455.2 52.5)">P(S)</text>
<text x="568.6" y="115.2" font-size="6.3" font-weight="bold" text-anchor="middle" fill="#222">Observable module size(S)</text>
<clipPath id="dc2"><path d="M490 227.8C490.8 227.7 493.5 228.3 495 227.3C496.5 226.3 497.9 224.6 499 222C500.1 219.4 500.7 215.7 501.5 212C502.3 208.3 503.1 204.0 504 200C504.9 196.0 505.8 192.8 507 188C508.2 183.2 509.7 176.2 511 171C512.3 165.8 513.3 160.7 515 157C516.7 153.3 518.8 150.8 521 149C523.2 147.2 525.7 147.4 528 146C530.3 144.6 532.8 142.0 535 140.5C537.2 139.0 539.0 137.7 541 137C543.0 136.3 544.7 135.9 547 136.2C549.3 136.5 552.0 137.7 555 139C558.0 140.3 562.3 142.0 565 144C567.7 146.0 569.0 148.0 571 151C573.0 154.0 574.8 157.7 577 162C579.2 166.3 581.8 172.5 584 177C586.2 181.5 587.8 185.0 590 189C592.2 193.0 594.7 197.3 597 201C599.3 204.7 601.7 208.2 604 211C606.3 213.8 608.7 216.2 611 218C613.3 219.8 615.7 220.8 618 222C620.3 223.2 622.7 224.2 625 225C627.3 225.8 629.5 226.1 632 226.5C634.5 226.9 637.0 227.3 640 227.5C643.0 227.7 648.3 227.8 650 227.8L650 227.8L490 227.8Z"/></clipPath>
<path d="M493.10 221.20h14.00V227.8h-14.00ZM506.20 159.50h14.00V227.8h-14.00ZM520.30 149.00h14.00V227.8h-14.00ZM534.40 137.80h14.00V227.8h-14.00ZM548.50 143.50h14.00V227.8h-14.00ZM562.60 143.50h14.00V227.8h-14.00ZM576.50 174.40h14.00V227.8h-14.00ZM590.30 197.70h14.00V227.8h-14.00ZM604.30 215.90h14.00V227.8h-14.00ZM618.20 220.70h14.00V227.8h-14.00ZM632.20 227.00h14.00V227.8h-14.00Z" fill="#555"/>
<path d="M493.10 221.20h14.00V227.8h-14.00ZM506.20 159.50h14.00V227.8h-14.00ZM520.30 149.00h14.00V227.8h-14.00ZM534.40 137.80h14.00V227.8h-14.00ZM548.50 143.50h14.00V227.8h-14.00ZM562.60 143.50h14.00V227.8h-14.00ZM576.50 174.40h14.00V227.8h-14.00ZM590.30 197.70h14.00V227.8h-14.00ZM604.30 215.90h14.00V227.8h-14.00ZM618.20 220.70h14.00V227.8h-14.00ZM632.20 227.00h14.00V227.8h-14.00Z" fill="#767676" clip-path="url(#dc2)"/>
<path d="M490 227.8C490.8 227.7 493.5 228.3 495 227.3C496.5 226.3 497.9 224.6 499 222C500.1 219.4 500.7 215.7 501.5 212C502.3 208.3 503.1 204.0 504 200C504.9 196.0 505.8 192.8 507 188C508.2 183.2 509.7 176.2 511 171C512.3 165.8 513.3 160.7 515 157C516.7 153.3 518.8 150.8 521 149C523.2 147.2 525.7 147.4 528 146C530.3 144.6 532.8 142.0 535 140.5C537.2 139.0 539.0 137.7 541 137C543.0 136.3 544.7 135.9 547 136.2C549.3 136.5 552.0 137.7 555 139C558.0 140.3 562.3 142.0 565 144C567.7 146.0 569.0 148.0 571 151C573.0 154.0 574.8 157.7 577 162C579.2 166.3 581.8 172.5 584 177C586.2 181.5 587.8 185.0 590 189C592.2 193.0 594.7 197.3 597 201C599.3 204.7 601.7 208.2 604 211C606.3 213.8 608.7 216.2 611 218C613.3 219.8 615.7 220.8 618 222C620.3 223.2 622.7 224.2 625 225C627.3 225.8 629.5 226.1 632 226.5C634.5 226.9 637.0 227.3 640 227.5C643.0 227.7 648.3 227.8 650 227.8" fill="none" stroke="#c4c4c4" stroke-width="0.6"/>
<path d="M506.20 159.50V227.8M520.30 149.00V227.8M534.40 137.80V227.8M548.50 143.50V227.8M562.60 143.50V227.8M576.50 174.40V227.8M590.30 197.70V227.8M604.30 215.90V227.8M618.20 220.70V227.8M632.20 227.00V227.8" stroke="#9c9c9c" stroke-width="0.5"/>
<line x1="469.5" y1="131" x2="469.5" y2="232.5" stroke="#666" stroke-width="0.7"/>
<line x1="469.5" y1="232.5" x2="668" y2="232.5" stroke="#666" stroke-width="0.7"/>
<line x1="468" y1="150.3" x2="469.5" y2="150.3" stroke="#444" stroke-width="0.5"/>
<text x="467.8" y="152.1" font-size="5" font-weight="bold" text-anchor="end">0.015</text>
<line x1="468" y1="176.5" x2="469.5" y2="176.5" stroke="#444" stroke-width="0.5"/>
<text x="467.8" y="178.3" font-size="5" font-weight="bold" text-anchor="end">0.010</text>
<line x1="468" y1="202.4" x2="469.5" y2="202.4" stroke="#444" stroke-width="0.5"/>
<text x="467.8" y="204.2" font-size="5" font-weight="bold" text-anchor="end">0.005</text>
<line x1="468" y1="227.8" x2="469.5" y2="227.8" stroke="#444" stroke-width="0.5"/>
<text x="467.8" y="229.6" font-size="5" font-weight="bold" text-anchor="end">0.000</text>
<text x="492.5" y="237.5" font-size="5" font-weight="bold" text-anchor="middle">0</text>
<text x="548.2" y="237.5" font-size="5" font-weight="bold" text-anchor="middle">40</text>
<text x="603.9" y="237.5" font-size="5" font-weight="bold" text-anchor="middle">80</text>
<text x="659.2" y="237.5" font-size="5" font-weight="bold" text-anchor="middle">120</text>
<line x1="546.3" y1="132" x2="546.3" y2="232.5" stroke="#e05050" stroke-width="0.6" stroke-dasharray="1 1"/>
<text x="599.2" y="150.8" font-size="11.5" font-weight="bold">Z=-0.17</text>
<text x="599.2" y="164.5" font-size="11.5" font-weight="bold">p value=0.43</text>
<text x="455.2" y="182" font-size="6.5" font-weight="bold" text-anchor="middle" fill="#222" transform="rotate(-90 455.2 182)">P(S)</text>
<text x="568.6" y="244" font-size="6.3" font-weight="bold" text-anchor="middle" fill="#222">Observable module size(S)</text>
<clipPath id="dc3"><path d="M482 357.3C483.7 357.2 488.7 357.1 492 356.8C495.3 356.5 498.7 356.1 502 355.5C505.3 354.9 508.8 354.3 512 353.5C515.2 352.7 518.0 351.8 521 350.5C524.0 349.2 527.2 347.6 530 345.5C532.8 343.4 535.3 341.1 538 338C540.7 334.9 543.3 331.2 546 327C548.7 322.8 551.5 317.7 554 313C556.5 308.3 559.2 302.8 561 299C562.8 295.2 563.7 293.2 565 290.5C566.3 287.8 567.7 285.1 569 282.5C570.3 279.9 571.7 277.0 573 275C574.3 273.0 575.8 271.4 577 270.5C578.2 269.6 579.0 269.3 580 269.5C581.0 269.7 581.8 269.9 583 271.5C584.2 273.1 585.7 276.1 587 279C588.3 281.9 589.5 285.7 591 289C592.5 292.3 594.2 295.5 596 299C597.8 302.5 600.0 306.2 602 310C604.0 313.8 606.0 318.0 608 322C610.0 326.0 612.0 330.2 614 334C616.0 337.8 617.8 342.0 620 345C622.2 348.0 624.7 350.2 627 352C629.3 353.8 631.5 354.7 634 355.5C636.5 356.3 639.0 356.5 642 356.8C645.0 357.1 650.3 357.2 652 357.3L652 357.3L482 357.3Z"/></clipPath>
<path d="M486.50 356.80h7.49V357.3h-7.49ZM493.99 356.30h7.49V357.3h-7.49ZM501.48 355.80h7.49V357.3h-7.49ZM508.97 353.40h7.49V357.3h-7.49ZM516.46 353.00h7.49V357.3h-7.49ZM523.95 348.40h7.49V357.3h-7.49ZM531.44 346.00h7.49V357.3h-7.49ZM538.93 334.00h7.49V357.3h-7.49ZM546.42 327.00h7.49V357.3h-7.49ZM553.91 301.50h7.49V357.3h-7.49ZM561.40 296.30h7.49V357.3h-7.49ZM568.89 272.40h7.49V357.3h-7.49ZM576.38 265.30h7.49V357.3h-7.49ZM583.87 293.10h7.49V357.3h-7.49ZM591.36 300.50h7.49V357.3h-7.49ZM598.85 306.90h7.49V357.3h-7.49ZM606.34 326.00h7.49V357.3h-7.49ZM613.83 338.80h7.49V357.3h-7.49ZM621.32 352.90h7.49V357.3h-7.49ZM628.81 354.80h7.49V357.3h-7.49ZM636.30 356.00h7.49V357.3h-7.49ZM643.79 356.50h7.49V357.3h-7.49Z" fill="#555"/>
<path d="M486.50 356.80h7.49V357.3h-7.49ZM493.99 356.30h7.49V357.3h-7.49ZM501.48 355.80h7.49V357.3h-7.49ZM508.97 353.40h7.49V357.3h-7.49ZM516.46 353.00h7.49V357.3h-7.49ZM523.95 348.40h7.49V357.3h-7.49ZM531.44 346.00h7.49V357.3h-7.49ZM538.93 334.00h7.49V357.3h-7.49ZM546.42 327.00h7.49V357.3h-7.49ZM553.91 301.50h7.49V357.3h-7.49ZM561.40 296.30h7.49V357.3h-7.49ZM568.89 272.40h7.49V357.3h-7.49ZM576.38 265.30h7.49V357.3h-7.49ZM583.87 293.10h7.49V357.3h-7.49ZM591.36 300.50h7.49V357.3h-7.49ZM598.85 306.90h7.49V357.3h-7.49ZM606.34 326.00h7.49V357.3h-7.49ZM613.83 338.80h7.49V357.3h-7.49ZM621.32 352.90h7.49V357.3h-7.49ZM628.81 354.80h7.49V357.3h-7.49ZM636.30 356.00h7.49V357.3h-7.49ZM643.79 356.50h7.49V357.3h-7.49Z" fill="#767676" clip-path="url(#dc3)"/>
<path d="M482 357.3C483.7 357.2 488.7 357.1 492 356.8C495.3 356.5 498.7 356.1 502 355.5C505.3 354.9 508.8 354.3 512 353.5C515.2 352.7 518.0 351.8 521 350.5C524.0 349.2 527.2 347.6 530 345.5C532.8 343.4 535.3 341.1 538 338C540.7 334.9 543.3 331.2 546 327C548.7 322.8 551.5 317.7 554 313C556.5 308.3 559.2 302.8 561 299C562.8 295.2 563.7 293.2 565 290.5C566.3 287.8 567.7 285.1 569 282.5C570.3 279.9 571.7 277.0 573 275C574.3 273.0 575.8 271.4 577 270.5C578.2 269.6 579.0 269.3 580 269.5C581.0 269.7 581.8 269.9 583 271.5C584.2 273.1 585.7 276.1 587 279C588.3 281.9 589.5 285.7 591 289C592.5 292.3 594.2 295.5 596 299C597.8 302.5 600.0 306.2 602 310C604.0 313.8 606.0 318.0 608 322C610.0 326.0 612.0 330.2 614 334C616.0 337.8 617.8 342.0 620 345C622.2 348.0 624.7 350.2 627 352C629.3 353.8 631.5 354.7 634 355.5C636.5 356.3 639.0 356.5 642 356.8C645.0 357.1 650.3 357.2 652 357.3" fill="none" stroke="#c4c4c4" stroke-width="0.6"/>
<path d="M493.99 356.30V357.3M501.48 355.80V357.3M508.97 353.40V357.3M516.46 353.00V357.3M523.95 348.40V357.3M531.44 346.00V357.3M538.93 334.00V357.3M546.42 327.00V357.3M553.91 301.50V357.3M561.40 296.30V357.3M568.89 272.40V357.3M576.38 265.30V357.3M583.87 293.10V357.3M591.36 300.50V357.3M598.85 306.90V357.3M606.34 326.00V357.3M613.83 338.80V357.3M621.32 352.90V357.3M628.81 354.80V357.3M636.30 356.00V357.3M643.79 356.50V357.3" stroke="#9c9c9c" stroke-width="0.5"/>
<line x1="469.5" y1="260.2" x2="469.5" y2="362" stroke="#666" stroke-width="0.7"/>
<line x1="469.5" y1="362" x2="668" y2="362" stroke="#666" stroke-width="0.7"/>
<line x1="468" y1="265.3" x2="469.5" y2="265.3" stroke="#444" stroke-width="0.5"/>
<text x="467.8" y="267.1" font-size="5" font-weight="bold" text-anchor="end">0.015</text>
<line x1="468" y1="295.6" x2="469.5" y2="295.6" stroke="#444" stroke-width="0.5"/>
<text x="467.8" y="297.4" font-size="5" font-weight="bold" text-anchor="end">0.010</text>
<line x1="468" y1="327" x2="469.5" y2="327" stroke="#444" stroke-width="0.5"/>
<text x="467.8" y="328.8" font-size="5" font-weight="bold" text-anchor="end">0.005</text>
<line x1="468" y1="357.3" x2="469.5" y2="357.3" stroke="#444" stroke-width="0.5"/>
<text x="467.8" y="359.1" font-size="5" font-weight="bold" text-anchor="end">0.000</text>
<text x="501.5" y="367" font-size="5" font-weight="bold" text-anchor="middle">100</text>
<text x="538.8" y="367" font-size="5" font-weight="bold" text-anchor="middle">150</text>
<text x="576" y="367" font-size="5" font-weight="bold" text-anchor="middle">200</text>
<text x="613.2" y="367" font-size="5" font-weight="bold" text-anchor="middle">250</text>
<text x="650.6" y="367" font-size="5" font-weight="bold" text-anchor="middle">300</text>
<line x1="640.5" y1="261.2" x2="640.5" y2="362" stroke="#e05050" stroke-width="0.6" stroke-dasharray="1 1"/>
<text x="608.2" y="278" font-size="11.5" font-weight="bold">Z=2.72</text>
<text x="608.2" y="291.7" font-size="11.5" font-weight="bold">p value=0.002</text>
<text x="455.2" y="310.6" font-size="6.5" font-weight="bold" text-anchor="middle" fill="#222" transform="rotate(-90 455.2 310.6)">P(S)</text>
<text x="568.6" y="373.2" font-size="6.3" font-weight="bold" text-anchor="middle" fill="#222">Observable module size(S)</text>
</svg>
</body></html>
